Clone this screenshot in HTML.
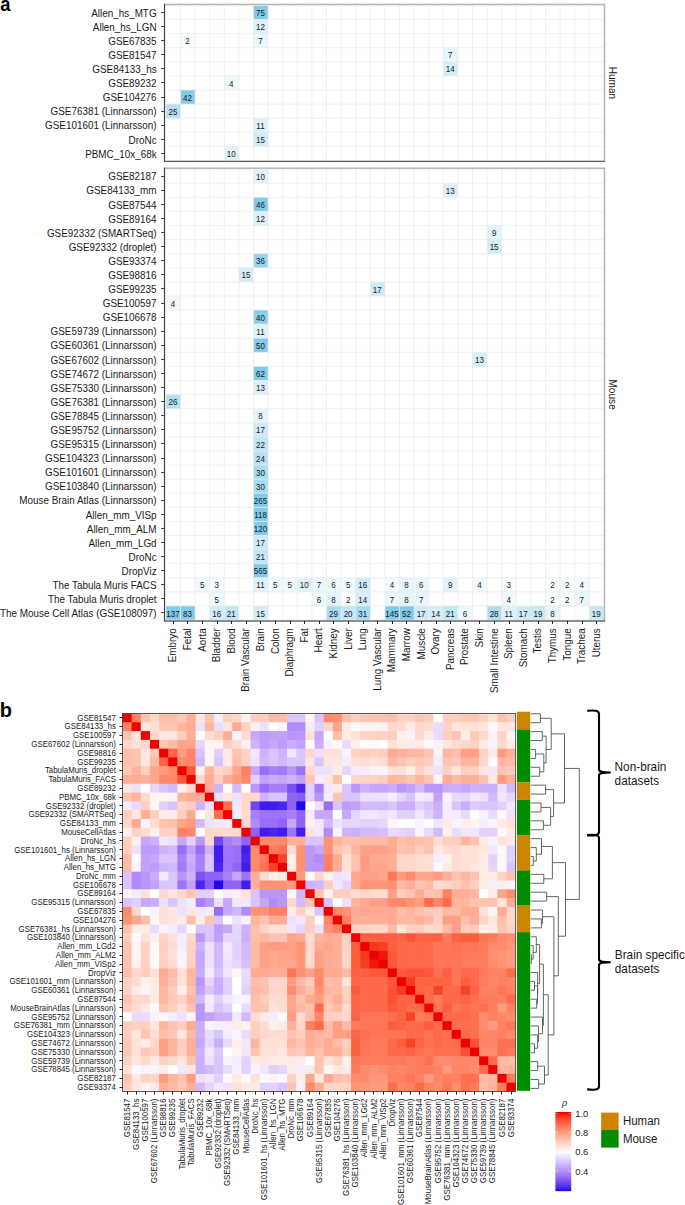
<!DOCTYPE html>
<html><head><meta charset="utf-8"><title>figure</title>
<style>
html,body{margin:0;padding:0;background:#fff;}
body{width:685px;height:1205px;overflow:hidden;}
svg{display:block;font-family:"Liberation Sans", sans-serif;}
</style></head>
<body>
<svg width="685" height="1205" viewBox="0 0 685 1205" font-family='"Liberation Sans", sans-serif'>
<rect width="685" height="1205" fill="#fff"/>
<text transform="translate(0.35,10.7) scale(0.92,1)" font-size="20" font-weight="bold" fill="#000">a</text>
<rect x="253.50" y="5.46" width="14.60" height="14.09" fill="#80cbeb"/>
<rect x="253.50" y="19.55" width="14.60" height="14.09" fill="#dcf0f9"/>
<rect x="180.50" y="33.63" width="14.60" height="14.09" fill="#f9fdfe"/>
<rect x="253.50" y="33.63" width="14.60" height="14.09" fill="#eaf7fc"/>
<rect x="443.30" y="47.72" width="14.60" height="14.09" fill="#eaf7fc"/>
<rect x="443.30" y="61.81" width="14.60" height="14.09" fill="#d6eef8"/>
<rect x="224.30" y="75.91" width="14.60" height="14.09" fill="#f3fafd"/>
<rect x="180.50" y="89.99" width="14.60" height="14.09" fill="#83cceb"/>
<rect x="165.90" y="104.08" width="14.60" height="14.09" fill="#b5e1f3"/>
<rect x="253.50" y="118.17" width="14.60" height="14.09" fill="#dff2fa"/>
<rect x="253.50" y="132.27" width="14.60" height="14.09" fill="#d3edf8"/>
<rect x="224.30" y="146.36" width="14.60" height="14.09" fill="#e1f3fa"/>
<path d="M165.90,5.46V160.44M180.50,5.46V160.44M195.10,5.46V160.44M209.70,5.46V160.44M224.30,5.46V160.44M238.90,5.46V160.44M253.50,5.46V160.44M268.10,5.46V160.44M282.70,5.46V160.44M297.30,5.46V160.44M311.90,5.46V160.44M326.50,5.46V160.44M341.10,5.46V160.44M355.70,5.46V160.44M370.30,5.46V160.44M384.90,5.46V160.44M399.50,5.46V160.44M414.10,5.46V160.44M428.70,5.46V160.44M443.30,5.46V160.44M457.90,5.46V160.44M472.50,5.46V160.44M487.10,5.46V160.44M501.70,5.46V160.44M516.30,5.46V160.44M530.90,5.46V160.44M545.50,5.46V160.44M560.10,5.46V160.44M574.70,5.46V160.44M589.30,5.46V160.44M603.90,5.46V160.44M165.90,5.46H603.90M165.90,19.55H603.90M165.90,33.63H603.90M165.90,47.72H603.90M165.90,61.81H603.90M165.90,75.91H603.90M165.90,89.99H603.90M165.90,104.08H603.90M165.90,118.17H603.90M165.90,132.27H603.90M165.90,146.36H603.90M165.90,160.45H603.90" stroke="#ebebeb" stroke-width="0.75" fill="none"/>
<text transform="translate(260.50,16.10) scale(1,1.045)" font-size="8" text-anchor="middle" fill="#1a1a1a">75</text>
<text transform="translate(156.60,16.70) scale(1,1.045)" font-size="9.9" text-anchor="end" fill="#1a1a1a">Allen_hs_MTG</text>
<text transform="translate(260.50,30.19) scale(1,1.045)" font-size="8" text-anchor="middle" fill="#1a1a1a">12</text>
<text transform="translate(156.60,30.79) scale(1,1.045)" font-size="9.9" text-anchor="end" fill="#1a1a1a">Allen_hs_LGN</text>
<text transform="translate(187.50,44.28) scale(1,1.045)" font-size="8" text-anchor="middle" fill="#1a1a1a">2</text>
<text transform="translate(260.50,44.28) scale(1,1.045)" font-size="8" text-anchor="middle" fill="#1a1a1a">7</text>
<text transform="translate(156.60,44.88) scale(1,1.045)" font-size="9.9" text-anchor="end" fill="#1a1a1a">GSE67835</text>
<text transform="translate(450.30,58.37) scale(1,1.045)" font-size="8" text-anchor="middle" fill="#1a1a1a">7</text>
<text transform="translate(156.60,58.97) scale(1,1.045)" font-size="9.9" text-anchor="end" fill="#1a1a1a">GSE81547</text>
<text transform="translate(450.30,72.46) scale(1,1.045)" font-size="8" text-anchor="middle" fill="#1a1a1a">14</text>
<text transform="translate(156.60,73.06) scale(1,1.045)" font-size="9.9" text-anchor="end" fill="#1a1a1a">GSE84133_hs</text>
<text transform="translate(231.30,86.55) scale(1,1.045)" font-size="8" text-anchor="middle" fill="#1a1a1a">4</text>
<text transform="translate(156.60,87.15) scale(1,1.045)" font-size="9.9" text-anchor="end" fill="#1a1a1a">GSE89232</text>
<text transform="translate(187.50,100.64) scale(1,1.045)" font-size="8" text-anchor="middle" fill="#1a1a1a">42</text>
<text transform="translate(156.60,101.24) scale(1,1.045)" font-size="9.9" text-anchor="end" fill="#1a1a1a">GSE104276</text>
<text transform="translate(172.90,114.73) scale(1,1.045)" font-size="8" text-anchor="middle" fill="#1a1a1a">25</text>
<text transform="translate(156.60,115.33) scale(1,1.045)" font-size="9.9" text-anchor="end" fill="#1a1a1a">GSE76381 (Linnarsson)</text>
<text transform="translate(260.50,128.82) scale(1,1.045)" font-size="8" text-anchor="middle" fill="#1a1a1a">11</text>
<text transform="translate(156.60,129.42) scale(1,1.045)" font-size="9.9" text-anchor="end" fill="#1a1a1a">GSE101601 (Linnarsson)</text>
<text transform="translate(260.50,142.91) scale(1,1.045)" font-size="8" text-anchor="middle" fill="#1a1a1a">15</text>
<text transform="translate(156.60,143.51) scale(1,1.045)" font-size="9.9" text-anchor="end" fill="#1a1a1a">DroNc</text>
<text transform="translate(231.30,157.00) scale(1,1.045)" font-size="8" text-anchor="middle" fill="#1a1a1a">10</text>
<text transform="translate(156.60,157.60) scale(1,1.045)" font-size="9.9" text-anchor="end" fill="#1a1a1a">PBMC_10x_68k</text>
<path d="M161.3,12.50H164.5M161.3,26.50H164.5M161.3,40.50H164.5M161.3,54.50H164.5M161.3,68.50H164.5M161.3,82.50H164.5M161.3,97.50H164.5M161.3,111.50H164.5M161.3,125.50H164.5M161.3,139.50H164.5M161.3,153.50H164.5" stroke="#222" stroke-width="1"/>
<rect x="164.5" y="4.4" width="440.0" height="157.0" fill="none" stroke="#b8b8b8" stroke-width="1.5"/>
<line x1="164.5" y1="3.8000000000000003" x2="164.5" y2="161.9" stroke="#444" stroke-width="1"/>
<line x1="164.0" y1="161.4" x2="605.1" y2="161.4" stroke="#555" stroke-width="1"/>
<text transform="translate(608.80,82.90) rotate(90) scale(1,1.045)" font-size="10.1" text-anchor="middle" fill="#1a1a1a">Human</text>
<rect x="253.50" y="169.16" width="14.60" height="14.09" fill="#e1f3fa"/>
<rect x="443.30" y="183.25" width="14.60" height="14.09" fill="#d9eff9"/>
<rect x="253.50" y="197.34" width="14.60" height="14.09" fill="#80cbeb"/>
<rect x="253.50" y="211.42" width="14.60" height="14.09" fill="#dcf0f9"/>
<rect x="487.10" y="225.52" width="14.60" height="14.09" fill="#e4f4fb"/>
<rect x="487.10" y="239.60" width="14.60" height="14.09" fill="#d3edf8"/>
<rect x="253.50" y="253.70" width="14.60" height="14.09" fill="#95d3ee"/>
<rect x="238.90" y="267.78" width="14.60" height="14.09" fill="#d3edf8"/>
<rect x="370.30" y="281.87" width="14.60" height="14.09" fill="#cdeaf7"/>
<rect x="165.90" y="295.96" width="14.60" height="14.09" fill="#f3fafd"/>
<rect x="253.50" y="310.06" width="14.60" height="14.09" fill="#89cfec"/>
<rect x="253.50" y="324.14" width="14.60" height="14.09" fill="#dff2fa"/>
<rect x="253.50" y="338.23" width="14.60" height="14.09" fill="#80cbeb"/>
<rect x="472.50" y="352.32" width="14.60" height="14.09" fill="#d9eff9"/>
<rect x="253.50" y="366.41" width="14.60" height="14.09" fill="#80cbeb"/>
<rect x="253.50" y="380.50" width="14.60" height="14.09" fill="#d9eff9"/>
<rect x="165.90" y="394.59" width="14.60" height="14.09" fill="#b2e0f3"/>
<rect x="253.50" y="408.69" width="14.60" height="14.09" fill="#e7f5fb"/>
<rect x="253.50" y="422.77" width="14.60" height="14.09" fill="#cdeaf7"/>
<rect x="253.50" y="436.86" width="14.60" height="14.09" fill="#bee4f5"/>
<rect x="253.50" y="450.95" width="14.60" height="14.09" fill="#b8e2f4"/>
<rect x="253.50" y="465.04" width="14.60" height="14.09" fill="#a6dbf1"/>
<rect x="253.50" y="479.13" width="14.60" height="14.09" fill="#a6dbf1"/>
<rect x="253.50" y="493.22" width="14.60" height="14.09" fill="#80cbeb"/>
<rect x="253.50" y="507.31" width="14.60" height="14.09" fill="#80cbeb"/>
<rect x="253.50" y="521.41" width="14.60" height="14.09" fill="#80cbeb"/>
<rect x="253.50" y="535.50" width="14.60" height="14.09" fill="#cdeaf7"/>
<rect x="253.50" y="549.59" width="14.60" height="14.09" fill="#c1e6f5"/>
<rect x="253.50" y="563.68" width="14.60" height="14.09" fill="#80cbeb"/>
<rect x="195.10" y="577.76" width="14.60" height="14.09" fill="#f0f9fd"/>
<rect x="209.70" y="577.76" width="14.60" height="14.09" fill="#f6fbfe"/>
<rect x="253.50" y="577.76" width="14.60" height="14.09" fill="#dff2fa"/>
<rect x="268.10" y="577.76" width="14.60" height="14.09" fill="#f0f9fd"/>
<rect x="282.70" y="577.76" width="14.60" height="14.09" fill="#f0f9fd"/>
<rect x="297.30" y="577.76" width="14.60" height="14.09" fill="#e1f3fa"/>
<rect x="311.90" y="577.76" width="14.60" height="14.09" fill="#eaf7fc"/>
<rect x="326.50" y="577.76" width="14.60" height="14.09" fill="#edf8fc"/>
<rect x="341.10" y="577.76" width="14.60" height="14.09" fill="#f0f9fd"/>
<rect x="355.70" y="577.76" width="14.60" height="14.09" fill="#d0ecf8"/>
<rect x="384.90" y="577.76" width="14.60" height="14.09" fill="#f3fafd"/>
<rect x="399.50" y="577.76" width="14.60" height="14.09" fill="#e7f5fb"/>
<rect x="414.10" y="577.76" width="14.60" height="14.09" fill="#edf8fc"/>
<rect x="443.30" y="577.76" width="14.60" height="14.09" fill="#e4f4fb"/>
<rect x="472.50" y="577.76" width="14.60" height="14.09" fill="#f3fafd"/>
<rect x="501.70" y="577.76" width="14.60" height="14.09" fill="#f6fbfe"/>
<rect x="545.50" y="577.76" width="14.60" height="14.09" fill="#f9fdfe"/>
<rect x="560.10" y="577.76" width="14.60" height="14.09" fill="#f9fdfe"/>
<rect x="574.70" y="577.76" width="14.60" height="14.09" fill="#f3fafd"/>
<rect x="209.70" y="591.86" width="14.60" height="14.09" fill="#f0f9fd"/>
<rect x="311.90" y="591.86" width="14.60" height="14.09" fill="#edf8fc"/>
<rect x="326.50" y="591.86" width="14.60" height="14.09" fill="#e7f5fb"/>
<rect x="341.10" y="591.86" width="14.60" height="14.09" fill="#f9fdfe"/>
<rect x="355.70" y="591.86" width="14.60" height="14.09" fill="#d6eef8"/>
<rect x="384.90" y="591.86" width="14.60" height="14.09" fill="#eaf7fc"/>
<rect x="399.50" y="591.86" width="14.60" height="14.09" fill="#e7f5fb"/>
<rect x="414.10" y="591.86" width="14.60" height="14.09" fill="#eaf7fc"/>
<rect x="501.70" y="591.86" width="14.60" height="14.09" fill="#f3fafd"/>
<rect x="545.50" y="591.86" width="14.60" height="14.09" fill="#f9fdfe"/>
<rect x="560.10" y="591.86" width="14.60" height="14.09" fill="#f9fdfe"/>
<rect x="574.70" y="591.86" width="14.60" height="14.09" fill="#eaf7fc"/>
<rect x="165.90" y="605.95" width="14.60" height="14.09" fill="#80cbeb"/>
<rect x="180.50" y="605.95" width="14.60" height="14.09" fill="#80cbeb"/>
<rect x="209.70" y="605.95" width="14.60" height="14.09" fill="#d0ecf8"/>
<rect x="224.30" y="605.95" width="14.60" height="14.09" fill="#c1e6f5"/>
<rect x="253.50" y="605.95" width="14.60" height="14.09" fill="#d3edf8"/>
<rect x="326.50" y="605.95" width="14.60" height="14.09" fill="#a9dcf2"/>
<rect x="341.10" y="605.95" width="14.60" height="14.09" fill="#c4e7f6"/>
<rect x="355.70" y="605.95" width="14.60" height="14.09" fill="#a3daf1"/>
<rect x="384.90" y="605.95" width="14.60" height="14.09" fill="#80cbeb"/>
<rect x="399.50" y="605.95" width="14.60" height="14.09" fill="#80cbeb"/>
<rect x="414.10" y="605.95" width="14.60" height="14.09" fill="#cdeaf7"/>
<rect x="428.70" y="605.95" width="14.60" height="14.09" fill="#d6eef8"/>
<rect x="443.30" y="605.95" width="14.60" height="14.09" fill="#c1e6f5"/>
<rect x="457.90" y="605.95" width="14.60" height="14.09" fill="#edf8fc"/>
<rect x="487.10" y="605.95" width="14.60" height="14.09" fill="#acddf2"/>
<rect x="501.70" y="605.95" width="14.60" height="14.09" fill="#dff2fa"/>
<rect x="516.30" y="605.95" width="14.60" height="14.09" fill="#cdeaf7"/>
<rect x="530.90" y="605.95" width="14.60" height="14.09" fill="#c7e8f6"/>
<rect x="545.50" y="605.95" width="14.60" height="14.09" fill="#e7f5fb"/>
<rect x="589.30" y="605.95" width="14.60" height="14.09" fill="#c7e8f6"/>
<path d="M165.90,169.16V620.03M180.50,169.16V620.03M195.10,169.16V620.03M209.70,169.16V620.03M224.30,169.16V620.03M238.90,169.16V620.03M253.50,169.16V620.03M268.10,169.16V620.03M282.70,169.16V620.03M297.30,169.16V620.03M311.90,169.16V620.03M326.50,169.16V620.03M341.10,169.16V620.03M355.70,169.16V620.03M370.30,169.16V620.03M384.90,169.16V620.03M399.50,169.16V620.03M414.10,169.16V620.03M428.70,169.16V620.03M443.30,169.16V620.03M457.90,169.16V620.03M472.50,169.16V620.03M487.10,169.16V620.03M501.70,169.16V620.03M516.30,169.16V620.03M530.90,169.16V620.03M545.50,169.16V620.03M560.10,169.16V620.03M574.70,169.16V620.03M589.30,169.16V620.03M603.90,169.16V620.03M165.90,169.16H603.90M165.90,183.25H603.90M165.90,197.34H603.90M165.90,211.43H603.90M165.90,225.51H603.90M165.90,239.61H603.90M165.90,253.69H603.90M165.90,267.78H603.90M165.90,281.88H603.90M165.90,295.97H603.90M165.90,310.06H603.90M165.90,324.14H603.90M165.90,338.24H603.90M165.90,352.32H603.90M165.90,366.41H603.90M165.90,380.50H603.90M165.90,394.60H603.90M165.90,408.69H603.90M165.90,422.77H603.90M165.90,436.87H603.90M165.90,450.96H603.90M165.90,465.04H603.90M165.90,479.13H603.90M165.90,493.23H603.90M165.90,507.31H603.90M165.90,521.40H603.90M165.90,535.50H603.90M165.90,549.59H603.90M165.90,563.67H603.90M165.90,577.76H603.90M165.90,591.86H603.90M165.90,605.95H603.90M165.90,620.03H603.90" stroke="#ebebeb" stroke-width="0.75" fill="none"/>
<text transform="translate(260.50,179.80) scale(1,1.045)" font-size="8" text-anchor="middle" fill="#1a1a1a">10</text>
<text transform="translate(156.60,180.40) scale(1,1.045)" font-size="9.9" text-anchor="end" fill="#1a1a1a">GSE82187</text>
<text transform="translate(450.30,193.89) scale(1,1.045)" font-size="8" text-anchor="middle" fill="#1a1a1a">13</text>
<text transform="translate(156.60,194.49) scale(1,1.045)" font-size="9.9" text-anchor="end" fill="#1a1a1a">GSE84133_mm</text>
<text transform="translate(260.50,207.98) scale(1,1.045)" font-size="8" text-anchor="middle" fill="#1a1a1a">46</text>
<text transform="translate(156.60,208.58) scale(1,1.045)" font-size="9.9" text-anchor="end" fill="#1a1a1a">GSE87544</text>
<text transform="translate(260.50,222.07) scale(1,1.045)" font-size="8" text-anchor="middle" fill="#1a1a1a">12</text>
<text transform="translate(156.60,222.67) scale(1,1.045)" font-size="9.9" text-anchor="end" fill="#1a1a1a">GSE89164</text>
<text transform="translate(494.10,236.16) scale(1,1.045)" font-size="8" text-anchor="middle" fill="#1a1a1a">9</text>
<text transform="translate(156.60,236.76) scale(1,1.045)" font-size="9.9" text-anchor="end" fill="#1a1a1a">GSE92332 (SMARTSeq)</text>
<text transform="translate(494.10,250.25) scale(1,1.045)" font-size="8" text-anchor="middle" fill="#1a1a1a">15</text>
<text transform="translate(156.60,250.85) scale(1,1.045)" font-size="9.9" text-anchor="end" fill="#1a1a1a">GSE92332 (droplet)</text>
<text transform="translate(260.50,264.34) scale(1,1.045)" font-size="8" text-anchor="middle" fill="#1a1a1a">36</text>
<text transform="translate(156.60,264.94) scale(1,1.045)" font-size="9.9" text-anchor="end" fill="#1a1a1a">GSE93374</text>
<text transform="translate(245.90,278.43) scale(1,1.045)" font-size="8" text-anchor="middle" fill="#1a1a1a">15</text>
<text transform="translate(156.60,279.03) scale(1,1.045)" font-size="9.9" text-anchor="end" fill="#1a1a1a">GSE98816</text>
<text transform="translate(377.30,292.52) scale(1,1.045)" font-size="8" text-anchor="middle" fill="#1a1a1a">17</text>
<text transform="translate(156.60,293.12) scale(1,1.045)" font-size="9.9" text-anchor="end" fill="#1a1a1a">GSE99235</text>
<text transform="translate(172.90,306.61) scale(1,1.045)" font-size="8" text-anchor="middle" fill="#1a1a1a">4</text>
<text transform="translate(156.60,307.21) scale(1,1.045)" font-size="9.9" text-anchor="end" fill="#1a1a1a">GSE100597</text>
<text transform="translate(260.50,320.70) scale(1,1.045)" font-size="8" text-anchor="middle" fill="#1a1a1a">40</text>
<text transform="translate(156.60,321.30) scale(1,1.045)" font-size="9.9" text-anchor="end" fill="#1a1a1a">GSE106678</text>
<text transform="translate(260.50,334.79) scale(1,1.045)" font-size="8" text-anchor="middle" fill="#1a1a1a">11</text>
<text transform="translate(156.60,335.39) scale(1,1.045)" font-size="9.9" text-anchor="end" fill="#1a1a1a">GSE59739 (Linnarsson)</text>
<text transform="translate(260.50,348.88) scale(1,1.045)" font-size="8" text-anchor="middle" fill="#1a1a1a">50</text>
<text transform="translate(156.60,349.48) scale(1,1.045)" font-size="9.9" text-anchor="end" fill="#1a1a1a">GSE60361 (Linnarsson)</text>
<text transform="translate(479.50,362.97) scale(1,1.045)" font-size="8" text-anchor="middle" fill="#1a1a1a">13</text>
<text transform="translate(156.60,363.57) scale(1,1.045)" font-size="9.9" text-anchor="end" fill="#1a1a1a">GSE67602 (Linnarsson)</text>
<text transform="translate(260.50,377.06) scale(1,1.045)" font-size="8" text-anchor="middle" fill="#1a1a1a">62</text>
<text transform="translate(156.60,377.66) scale(1,1.045)" font-size="9.9" text-anchor="end" fill="#1a1a1a">GSE74672 (Linnarsson)</text>
<text transform="translate(260.50,391.15) scale(1,1.045)" font-size="8" text-anchor="middle" fill="#1a1a1a">13</text>
<text transform="translate(156.60,391.75) scale(1,1.045)" font-size="9.9" text-anchor="end" fill="#1a1a1a">GSE75330 (Linnarsson)</text>
<text transform="translate(172.90,405.24) scale(1,1.045)" font-size="8" text-anchor="middle" fill="#1a1a1a">26</text>
<text transform="translate(156.60,405.84) scale(1,1.045)" font-size="9.9" text-anchor="end" fill="#1a1a1a">GSE76381 (Linnarsson)</text>
<text transform="translate(260.50,419.33) scale(1,1.045)" font-size="8" text-anchor="middle" fill="#1a1a1a">8</text>
<text transform="translate(156.60,419.93) scale(1,1.045)" font-size="9.9" text-anchor="end" fill="#1a1a1a">GSE78845 (Linnarsson)</text>
<text transform="translate(260.50,433.42) scale(1,1.045)" font-size="8" text-anchor="middle" fill="#1a1a1a">17</text>
<text transform="translate(156.60,434.02) scale(1,1.045)" font-size="9.9" text-anchor="end" fill="#1a1a1a">GSE95752 (Linnarsson)</text>
<text transform="translate(260.50,447.51) scale(1,1.045)" font-size="8" text-anchor="middle" fill="#1a1a1a">22</text>
<text transform="translate(156.60,448.11) scale(1,1.045)" font-size="9.9" text-anchor="end" fill="#1a1a1a">GSE95315 (Linnarsson)</text>
<text transform="translate(260.50,461.60) scale(1,1.045)" font-size="8" text-anchor="middle" fill="#1a1a1a">24</text>
<text transform="translate(156.60,462.20) scale(1,1.045)" font-size="9.9" text-anchor="end" fill="#1a1a1a">GSE104323 (Linnarsson)</text>
<text transform="translate(260.50,475.69) scale(1,1.045)" font-size="8" text-anchor="middle" fill="#1a1a1a">30</text>
<text transform="translate(156.60,476.29) scale(1,1.045)" font-size="9.9" text-anchor="end" fill="#1a1a1a">GSE101601 (Linnarsson)</text>
<text transform="translate(260.50,489.78) scale(1,1.045)" font-size="8" text-anchor="middle" fill="#1a1a1a">30</text>
<text transform="translate(156.60,490.38) scale(1,1.045)" font-size="9.9" text-anchor="end" fill="#1a1a1a">GSE103840 (Linnarsson)</text>
<text transform="translate(260.50,503.87) scale(1,1.045)" font-size="8" text-anchor="middle" fill="#1a1a1a">265</text>
<text transform="translate(156.60,504.47) scale(1,1.045)" font-size="9.9" text-anchor="end" fill="#1a1a1a">Mouse Brain Atlas (Linnarsson)</text>
<text transform="translate(260.50,517.96) scale(1,1.045)" font-size="8" text-anchor="middle" fill="#1a1a1a">118</text>
<text transform="translate(156.60,518.56) scale(1,1.045)" font-size="9.9" text-anchor="end" fill="#1a1a1a">Allen_mm_VISp</text>
<text transform="translate(260.50,532.05) scale(1,1.045)" font-size="8" text-anchor="middle" fill="#1a1a1a">120</text>
<text transform="translate(156.60,532.65) scale(1,1.045)" font-size="9.9" text-anchor="end" fill="#1a1a1a">Allen_mm_ALM</text>
<text transform="translate(260.50,546.14) scale(1,1.045)" font-size="8" text-anchor="middle" fill="#1a1a1a">17</text>
<text transform="translate(156.60,546.74) scale(1,1.045)" font-size="9.9" text-anchor="end" fill="#1a1a1a">Allen_mm_LGd</text>
<text transform="translate(260.50,560.23) scale(1,1.045)" font-size="8" text-anchor="middle" fill="#1a1a1a">21</text>
<text transform="translate(156.60,560.83) scale(1,1.045)" font-size="9.9" text-anchor="end" fill="#1a1a1a">DroNc</text>
<text transform="translate(260.50,574.32) scale(1,1.045)" font-size="8" text-anchor="middle" fill="#1a1a1a">565</text>
<text transform="translate(156.60,574.92) scale(1,1.045)" font-size="9.9" text-anchor="end" fill="#1a1a1a">DropViz</text>
<text transform="translate(202.10,588.41) scale(1,1.045)" font-size="8" text-anchor="middle" fill="#1a1a1a">5</text>
<text transform="translate(216.70,588.41) scale(1,1.045)" font-size="8" text-anchor="middle" fill="#1a1a1a">3</text>
<text transform="translate(260.50,588.41) scale(1,1.045)" font-size="8" text-anchor="middle" fill="#1a1a1a">11</text>
<text transform="translate(275.10,588.41) scale(1,1.045)" font-size="8" text-anchor="middle" fill="#1a1a1a">5</text>
<text transform="translate(289.70,588.41) scale(1,1.045)" font-size="8" text-anchor="middle" fill="#1a1a1a">5</text>
<text transform="translate(304.30,588.41) scale(1,1.045)" font-size="8" text-anchor="middle" fill="#1a1a1a">10</text>
<text transform="translate(318.90,588.41) scale(1,1.045)" font-size="8" text-anchor="middle" fill="#1a1a1a">7</text>
<text transform="translate(333.50,588.41) scale(1,1.045)" font-size="8" text-anchor="middle" fill="#1a1a1a">6</text>
<text transform="translate(348.10,588.41) scale(1,1.045)" font-size="8" text-anchor="middle" fill="#1a1a1a">5</text>
<text transform="translate(362.70,588.41) scale(1,1.045)" font-size="8" text-anchor="middle" fill="#1a1a1a">16</text>
<text transform="translate(391.90,588.41) scale(1,1.045)" font-size="8" text-anchor="middle" fill="#1a1a1a">4</text>
<text transform="translate(406.50,588.41) scale(1,1.045)" font-size="8" text-anchor="middle" fill="#1a1a1a">8</text>
<text transform="translate(421.10,588.41) scale(1,1.045)" font-size="8" text-anchor="middle" fill="#1a1a1a">6</text>
<text transform="translate(450.30,588.41) scale(1,1.045)" font-size="8" text-anchor="middle" fill="#1a1a1a">9</text>
<text transform="translate(479.50,588.41) scale(1,1.045)" font-size="8" text-anchor="middle" fill="#1a1a1a">4</text>
<text transform="translate(508.70,588.41) scale(1,1.045)" font-size="8" text-anchor="middle" fill="#1a1a1a">3</text>
<text transform="translate(552.50,588.41) scale(1,1.045)" font-size="8" text-anchor="middle" fill="#1a1a1a">2</text>
<text transform="translate(567.10,588.41) scale(1,1.045)" font-size="8" text-anchor="middle" fill="#1a1a1a">2</text>
<text transform="translate(581.70,588.41) scale(1,1.045)" font-size="8" text-anchor="middle" fill="#1a1a1a">4</text>
<text transform="translate(156.60,589.01) scale(1,1.045)" font-size="9.9" text-anchor="end" fill="#1a1a1a">The Tabula Muris FACS</text>
<text transform="translate(216.70,602.50) scale(1,1.045)" font-size="8" text-anchor="middle" fill="#1a1a1a">5</text>
<text transform="translate(318.90,602.50) scale(1,1.045)" font-size="8" text-anchor="middle" fill="#1a1a1a">6</text>
<text transform="translate(333.50,602.50) scale(1,1.045)" font-size="8" text-anchor="middle" fill="#1a1a1a">8</text>
<text transform="translate(348.10,602.50) scale(1,1.045)" font-size="8" text-anchor="middle" fill="#1a1a1a">2</text>
<text transform="translate(362.70,602.50) scale(1,1.045)" font-size="8" text-anchor="middle" fill="#1a1a1a">14</text>
<text transform="translate(391.90,602.50) scale(1,1.045)" font-size="8" text-anchor="middle" fill="#1a1a1a">7</text>
<text transform="translate(406.50,602.50) scale(1,1.045)" font-size="8" text-anchor="middle" fill="#1a1a1a">8</text>
<text transform="translate(421.10,602.50) scale(1,1.045)" font-size="8" text-anchor="middle" fill="#1a1a1a">7</text>
<text transform="translate(508.70,602.50) scale(1,1.045)" font-size="8" text-anchor="middle" fill="#1a1a1a">4</text>
<text transform="translate(552.50,602.50) scale(1,1.045)" font-size="8" text-anchor="middle" fill="#1a1a1a">2</text>
<text transform="translate(567.10,602.50) scale(1,1.045)" font-size="8" text-anchor="middle" fill="#1a1a1a">2</text>
<text transform="translate(581.70,602.50) scale(1,1.045)" font-size="8" text-anchor="middle" fill="#1a1a1a">7</text>
<text transform="translate(156.60,603.10) scale(1,1.045)" font-size="9.9" text-anchor="end" fill="#1a1a1a">The Tabula Muris droplet</text>
<text transform="translate(172.90,616.59) scale(1,1.045)" font-size="8" text-anchor="middle" fill="#1a1a1a">137</text>
<text transform="translate(187.50,616.59) scale(1,1.045)" font-size="8" text-anchor="middle" fill="#1a1a1a">83</text>
<text transform="translate(216.70,616.59) scale(1,1.045)" font-size="8" text-anchor="middle" fill="#1a1a1a">16</text>
<text transform="translate(231.30,616.59) scale(1,1.045)" font-size="8" text-anchor="middle" fill="#1a1a1a">21</text>
<text transform="translate(260.50,616.59) scale(1,1.045)" font-size="8" text-anchor="middle" fill="#1a1a1a">15</text>
<text transform="translate(333.50,616.59) scale(1,1.045)" font-size="8" text-anchor="middle" fill="#1a1a1a">29</text>
<text transform="translate(348.10,616.59) scale(1,1.045)" font-size="8" text-anchor="middle" fill="#1a1a1a">20</text>
<text transform="translate(362.70,616.59) scale(1,1.045)" font-size="8" text-anchor="middle" fill="#1a1a1a">31</text>
<text transform="translate(391.90,616.59) scale(1,1.045)" font-size="8" text-anchor="middle" fill="#1a1a1a">145</text>
<text transform="translate(406.50,616.59) scale(1,1.045)" font-size="8" text-anchor="middle" fill="#1a1a1a">52</text>
<text transform="translate(421.10,616.59) scale(1,1.045)" font-size="8" text-anchor="middle" fill="#1a1a1a">17</text>
<text transform="translate(435.70,616.59) scale(1,1.045)" font-size="8" text-anchor="middle" fill="#1a1a1a">14</text>
<text transform="translate(450.30,616.59) scale(1,1.045)" font-size="8" text-anchor="middle" fill="#1a1a1a">21</text>
<text transform="translate(464.90,616.59) scale(1,1.045)" font-size="8" text-anchor="middle" fill="#1a1a1a">6</text>
<text transform="translate(494.10,616.59) scale(1,1.045)" font-size="8" text-anchor="middle" fill="#1a1a1a">28</text>
<text transform="translate(508.70,616.59) scale(1,1.045)" font-size="8" text-anchor="middle" fill="#1a1a1a">11</text>
<text transform="translate(523.30,616.59) scale(1,1.045)" font-size="8" text-anchor="middle" fill="#1a1a1a">17</text>
<text transform="translate(537.90,616.59) scale(1,1.045)" font-size="8" text-anchor="middle" fill="#1a1a1a">19</text>
<text transform="translate(552.50,616.59) scale(1,1.045)" font-size="8" text-anchor="middle" fill="#1a1a1a">8</text>
<text transform="translate(596.30,616.59) scale(1,1.045)" font-size="8" text-anchor="middle" fill="#1a1a1a">19</text>
<text transform="translate(156.60,617.19) scale(1,1.045)" font-size="9.9" text-anchor="end" fill="#1a1a1a">The Mouse Cell Atlas (GSE108097)</text>
<path d="M161.3,176.50H164.5M161.3,190.50H164.5M161.3,204.50H164.5M161.3,218.50H164.5M161.3,232.50H164.5M161.3,246.50H164.5M161.3,260.50H164.5M161.3,274.50H164.5M161.3,288.50H164.5M161.3,303.50H164.5M161.3,317.50H164.5M161.3,331.50H164.5M161.3,345.50H164.5M161.3,359.50H164.5M161.3,373.50H164.5M161.3,387.50H164.5M161.3,401.50H164.5M161.3,415.50H164.5M161.3,429.50H164.5M161.3,443.50H164.5M161.3,458.50H164.5M161.3,472.50H164.5M161.3,486.50H164.5M161.3,500.50H164.5M161.3,514.50H164.5M161.3,528.50H164.5M161.3,542.50H164.5M161.3,556.50H164.5M161.3,570.50H164.5M161.3,584.50H164.5M161.3,598.50H164.5M161.3,612.50H164.5" stroke="#222" stroke-width="1"/>
<rect x="164.5" y="168.2" width="440.0" height="452.8" fill="none" stroke="#b8b8b8" stroke-width="1.5"/>
<line x1="164.5" y1="167.6" x2="164.5" y2="621.5" stroke="#444" stroke-width="1"/>
<line x1="164.0" y1="621.0" x2="605.1" y2="621.0" stroke="#555" stroke-width="1"/>
<text transform="translate(608.80,394.60) rotate(90) scale(1,1.045)" font-size="10.1" text-anchor="middle" fill="#1a1a1a">Mouse</text>
<line x1="173.50" y1="621" x2="173.50" y2="624" stroke="#222" stroke-width="1"/>
<text transform="translate(176.30,628.20) rotate(-90) scale(1,1.045)" font-size="9.9" text-anchor="end" fill="#1a1a1a">Embryo</text>
<line x1="187.50" y1="621" x2="187.50" y2="624" stroke="#222" stroke-width="1"/>
<text transform="translate(190.90,628.20) rotate(-90) scale(1,1.045)" font-size="9.9" text-anchor="end" fill="#1a1a1a">Fetal</text>
<line x1="202.50" y1="621" x2="202.50" y2="624" stroke="#222" stroke-width="1"/>
<text transform="translate(205.50,628.20) rotate(-90) scale(1,1.045)" font-size="9.9" text-anchor="end" fill="#1a1a1a">Aorta</text>
<line x1="217.50" y1="621" x2="217.50" y2="624" stroke="#222" stroke-width="1"/>
<text transform="translate(220.10,628.20) rotate(-90) scale(1,1.045)" font-size="9.9" text-anchor="end" fill="#1a1a1a">Bladder</text>
<line x1="231.50" y1="621" x2="231.50" y2="624" stroke="#222" stroke-width="1"/>
<text transform="translate(234.70,628.20) rotate(-90) scale(1,1.045)" font-size="9.9" text-anchor="end" fill="#1a1a1a">Blood</text>
<line x1="246.50" y1="621" x2="246.50" y2="624" stroke="#222" stroke-width="1"/>
<text transform="translate(249.30,628.20) rotate(-90) scale(1,1.045)" font-size="9.9" text-anchor="end" fill="#1a1a1a">Brain Vascular</text>
<line x1="260.50" y1="621" x2="260.50" y2="624" stroke="#222" stroke-width="1"/>
<text transform="translate(263.90,628.20) rotate(-90) scale(1,1.045)" font-size="9.9" text-anchor="end" fill="#1a1a1a">Brain</text>
<line x1="275.50" y1="621" x2="275.50" y2="624" stroke="#222" stroke-width="1"/>
<text transform="translate(278.50,628.20) rotate(-90) scale(1,1.045)" font-size="9.9" text-anchor="end" fill="#1a1a1a">Colon</text>
<line x1="290.50" y1="621" x2="290.50" y2="624" stroke="#222" stroke-width="1"/>
<text transform="translate(293.10,628.20) rotate(-90) scale(1,1.045)" font-size="9.9" text-anchor="end" fill="#1a1a1a">Diaphragm</text>
<line x1="304.50" y1="621" x2="304.50" y2="624" stroke="#222" stroke-width="1"/>
<text transform="translate(307.70,628.20) rotate(-90) scale(1,1.045)" font-size="9.9" text-anchor="end" fill="#1a1a1a">Fat</text>
<line x1="319.50" y1="621" x2="319.50" y2="624" stroke="#222" stroke-width="1"/>
<text transform="translate(322.30,628.20) rotate(-90) scale(1,1.045)" font-size="9.9" text-anchor="end" fill="#1a1a1a">Heart</text>
<line x1="333.50" y1="621" x2="333.50" y2="624" stroke="#222" stroke-width="1"/>
<text transform="translate(336.90,628.20) rotate(-90) scale(1,1.045)" font-size="9.9" text-anchor="end" fill="#1a1a1a">Kidney</text>
<line x1="348.50" y1="621" x2="348.50" y2="624" stroke="#222" stroke-width="1"/>
<text transform="translate(351.50,628.20) rotate(-90) scale(1,1.045)" font-size="9.9" text-anchor="end" fill="#1a1a1a">Liver</text>
<line x1="363.50" y1="621" x2="363.50" y2="624" stroke="#222" stroke-width="1"/>
<text transform="translate(366.10,628.20) rotate(-90) scale(1,1.045)" font-size="9.9" text-anchor="end" fill="#1a1a1a">Lung</text>
<line x1="377.50" y1="621" x2="377.50" y2="624" stroke="#222" stroke-width="1"/>
<text transform="translate(380.70,628.20) rotate(-90) scale(1,1.045)" font-size="9.9" text-anchor="end" fill="#1a1a1a">Lung Vascular</text>
<line x1="392.50" y1="621" x2="392.50" y2="624" stroke="#222" stroke-width="1"/>
<text transform="translate(395.30,628.20) rotate(-90) scale(1,1.045)" font-size="9.9" text-anchor="end" fill="#1a1a1a">Mammary</text>
<line x1="406.50" y1="621" x2="406.50" y2="624" stroke="#222" stroke-width="1"/>
<text transform="translate(409.90,628.20) rotate(-90) scale(1,1.045)" font-size="9.9" text-anchor="end" fill="#1a1a1a">Marrow</text>
<line x1="421.50" y1="621" x2="421.50" y2="624" stroke="#222" stroke-width="1"/>
<text transform="translate(424.50,628.20) rotate(-90) scale(1,1.045)" font-size="9.9" text-anchor="end" fill="#1a1a1a">Muscle</text>
<line x1="436.50" y1="621" x2="436.50" y2="624" stroke="#222" stroke-width="1"/>
<text transform="translate(439.10,628.20) rotate(-90) scale(1,1.045)" font-size="9.9" text-anchor="end" fill="#1a1a1a">Ovary</text>
<line x1="450.50" y1="621" x2="450.50" y2="624" stroke="#222" stroke-width="1"/>
<text transform="translate(453.70,628.20) rotate(-90) scale(1,1.045)" font-size="9.9" text-anchor="end" fill="#1a1a1a">Pancreas</text>
<line x1="465.50" y1="621" x2="465.50" y2="624" stroke="#222" stroke-width="1"/>
<text transform="translate(468.30,628.20) rotate(-90) scale(1,1.045)" font-size="9.9" text-anchor="end" fill="#1a1a1a">Prostate</text>
<line x1="479.50" y1="621" x2="479.50" y2="624" stroke="#222" stroke-width="1"/>
<text transform="translate(482.90,628.20) rotate(-90) scale(1,1.045)" font-size="9.9" text-anchor="end" fill="#1a1a1a">Skin</text>
<line x1="494.50" y1="621" x2="494.50" y2="624" stroke="#222" stroke-width="1"/>
<text transform="translate(497.50,628.20) rotate(-90) scale(1,1.045)" font-size="9.9" text-anchor="end" fill="#1a1a1a">Small Intestine</text>
<line x1="509.50" y1="621" x2="509.50" y2="624" stroke="#222" stroke-width="1"/>
<text transform="translate(512.10,628.20) rotate(-90) scale(1,1.045)" font-size="9.9" text-anchor="end" fill="#1a1a1a">Spleen</text>
<line x1="523.50" y1="621" x2="523.50" y2="624" stroke="#222" stroke-width="1"/>
<text transform="translate(526.70,628.20) rotate(-90) scale(1,1.045)" font-size="9.9" text-anchor="end" fill="#1a1a1a">Stomach</text>
<line x1="538.50" y1="621" x2="538.50" y2="624" stroke="#222" stroke-width="1"/>
<text transform="translate(541.30,628.20) rotate(-90) scale(1,1.045)" font-size="9.9" text-anchor="end" fill="#1a1a1a">Testis</text>
<line x1="552.50" y1="621" x2="552.50" y2="624" stroke="#222" stroke-width="1"/>
<text transform="translate(555.90,628.20) rotate(-90) scale(1,1.045)" font-size="9.9" text-anchor="end" fill="#1a1a1a">Thymus</text>
<line x1="567.50" y1="621" x2="567.50" y2="624" stroke="#222" stroke-width="1"/>
<text transform="translate(570.50,628.20) rotate(-90) scale(1,1.045)" font-size="9.9" text-anchor="end" fill="#1a1a1a">Tongue</text>
<line x1="582.50" y1="621" x2="582.50" y2="624" stroke="#222" stroke-width="1"/>
<text transform="translate(585.10,628.20) rotate(-90) scale(1,1.045)" font-size="9.9" text-anchor="end" fill="#1a1a1a">Trachea</text>
<line x1="596.50" y1="621" x2="596.50" y2="624" stroke="#222" stroke-width="1"/>
<text transform="translate(599.70,628.20) rotate(-90) scale(1,1.045)" font-size="9.9" text-anchor="end" fill="#1a1a1a">Uterus</text>
<text x="-0.2" y="717.3" font-size="20" font-weight="bold" fill="#000">b</text>
<g>
<rect x="122.50" y="713.50" width="9.74" height="9.39" fill="#ee0000"/>
<rect x="131.64" y="713.50" width="9.74" height="9.39" fill="#ff8162"/>
<rect x="140.79" y="713.50" width="9.74" height="9.39" fill="#ffc4b1"/>
<rect x="149.93" y="713.50" width="9.74" height="9.39" fill="#ffd7cb"/>
<rect x="159.08" y="713.50" width="9.74" height="9.39" fill="#ffbfab"/>
<rect x="168.22" y="713.50" width="9.74" height="9.39" fill="#ffbfab"/>
<rect x="177.36" y="713.50" width="9.74" height="9.39" fill="#ffc9b7"/>
<rect x="186.51" y="713.50" width="9.74" height="9.39" fill="#ffaf98"/>
<rect x="195.65" y="713.50" width="9.74" height="9.39" fill="#ffe6de"/>
<rect x="204.80" y="713.50" width="9.74" height="9.39" fill="#ffc4b1"/>
<rect x="213.94" y="713.50" width="9.74" height="9.39" fill="#f4edff"/>
<rect x="223.08" y="713.50" width="9.74" height="9.39" fill="#ffcebe"/>
<rect x="232.23" y="713.50" width="9.74" height="9.39" fill="#ffd7cb"/>
<rect x="241.37" y="713.50" width="9.74" height="9.39" fill="#fff0eb"/>
<rect x="250.52" y="713.50" width="9.74" height="9.39" fill="#ffcebe"/>
<rect x="259.66" y="713.50" width="9.74" height="9.39" fill="#ffcebe"/>
<rect x="268.80" y="713.50" width="9.74" height="9.39" fill="#ffbaa5"/>
<rect x="277.95" y="713.50" width="9.74" height="9.39" fill="#ffbaa5"/>
<rect x="287.09" y="713.50" width="9.74" height="9.39" fill="#dac4fd"/>
<rect x="296.24" y="713.50" width="9.74" height="9.39" fill="#dac4fd"/>
<rect x="305.38" y="713.50" width="9.74" height="9.39" fill="#fff5f2"/>
<rect x="314.52" y="713.50" width="9.74" height="9.39" fill="#dac4fd"/>
<rect x="323.67" y="713.50" width="9.74" height="9.39" fill="#ff8b6e"/>
<rect x="332.81" y="713.50" width="9.74" height="9.39" fill="#ff9174"/>
<rect x="341.96" y="713.50" width="9.74" height="9.39" fill="#ffbfab"/>
<rect x="351.10" y="713.50" width="9.74" height="9.39" fill="#ffcebe"/>
<rect x="360.24" y="713.50" width="9.74" height="9.39" fill="#ffc4b1"/>
<rect x="369.39" y="713.50" width="9.74" height="9.39" fill="#ffc4b1"/>
<rect x="378.53" y="713.50" width="9.74" height="9.39" fill="#ffc4b1"/>
<rect x="387.68" y="713.50" width="9.74" height="9.39" fill="#ffbfab"/>
<rect x="396.82" y="713.50" width="9.74" height="9.39" fill="#ffd2c4"/>
<rect x="405.96" y="713.50" width="9.74" height="9.39" fill="#ffd2c4"/>
<rect x="415.11" y="713.50" width="9.74" height="9.39" fill="#ffc4b1"/>
<rect x="424.25" y="713.50" width="9.74" height="9.39" fill="#ffcebe"/>
<rect x="433.40" y="713.50" width="9.74" height="9.39" fill="#ffffff"/>
<rect x="442.54" y="713.50" width="9.74" height="9.39" fill="#ffcebe"/>
<rect x="451.68" y="713.50" width="9.74" height="9.39" fill="#ffcebe"/>
<rect x="460.83" y="713.50" width="9.74" height="9.39" fill="#ffc9b7"/>
<rect x="469.97" y="713.50" width="9.74" height="9.39" fill="#ffc9b7"/>
<rect x="479.12" y="713.50" width="9.74" height="9.39" fill="#ffd2c4"/>
<rect x="488.26" y="713.50" width="9.74" height="9.39" fill="#ffe1d8"/>
<rect x="497.40" y="713.50" width="9.74" height="9.39" fill="#ffc4b1"/>
<rect x="506.55" y="713.50" width="9.14" height="9.39" fill="#ffcebe"/>
<rect x="122.50" y="722.29" width="9.74" height="9.39" fill="#ff8162"/>
<rect x="131.64" y="722.29" width="9.74" height="9.39" fill="#ee0000"/>
<rect x="140.79" y="722.29" width="9.74" height="9.39" fill="#ffe6de"/>
<rect x="149.93" y="722.29" width="9.74" height="9.39" fill="#ffe1d8"/>
<rect x="159.08" y="722.29" width="9.74" height="9.39" fill="#ffc4b1"/>
<rect x="168.22" y="722.29" width="9.74" height="9.39" fill="#ffc4b1"/>
<rect x="177.36" y="722.29" width="9.74" height="9.39" fill="#ffb59e"/>
<rect x="186.51" y="722.29" width="9.74" height="9.39" fill="#ffaa92"/>
<rect x="195.65" y="722.29" width="9.74" height="9.39" fill="#ede1fe"/>
<rect x="204.80" y="722.29" width="9.74" height="9.39" fill="#ffb59e"/>
<rect x="213.94" y="722.29" width="9.74" height="9.39" fill="#e9dbfe"/>
<rect x="223.08" y="722.29" width="9.74" height="9.39" fill="#ffe6de"/>
<rect x="232.23" y="722.29" width="9.74" height="9.39" fill="#ffaa92"/>
<rect x="241.37" y="722.29" width="9.74" height="9.39" fill="#ffd2c4"/>
<rect x="250.52" y="722.29" width="9.74" height="9.39" fill="#fff0eb"/>
<rect x="259.66" y="722.29" width="9.74" height="9.39" fill="#ede1fe"/>
<rect x="268.80" y="722.29" width="9.74" height="9.39" fill="#ffffff"/>
<rect x="277.95" y="722.29" width="9.74" height="9.39" fill="#f8f3ff"/>
<rect x="287.09" y="722.29" width="9.74" height="9.39" fill="#b18bf9"/>
<rect x="296.24" y="722.29" width="9.74" height="9.39" fill="#b18bf9"/>
<rect x="305.38" y="722.29" width="9.74" height="9.39" fill="#f4edff"/>
<rect x="314.52" y="722.29" width="9.74" height="9.39" fill="#e2d0fd"/>
<rect x="323.67" y="722.29" width="9.74" height="9.39" fill="#ffd7cb"/>
<rect x="332.81" y="722.29" width="9.74" height="9.39" fill="#ffa58c"/>
<rect x="341.96" y="722.29" width="9.74" height="9.39" fill="#ffebe5"/>
<rect x="351.10" y="722.29" width="9.74" height="9.39" fill="#fffaf8"/>
<rect x="360.24" y="722.29" width="9.74" height="9.39" fill="#fff5f2"/>
<rect x="369.39" y="722.29" width="9.74" height="9.39" fill="#fff5f2"/>
<rect x="378.53" y="722.29" width="9.74" height="9.39" fill="#fff0eb"/>
<rect x="387.68" y="722.29" width="9.74" height="9.39" fill="#ffd7cb"/>
<rect x="396.82" y="722.29" width="9.74" height="9.39" fill="#ffdcd1"/>
<rect x="405.96" y="722.29" width="9.74" height="9.39" fill="#ffebe5"/>
<rect x="415.11" y="722.29" width="9.74" height="9.39" fill="#ffd7cb"/>
<rect x="424.25" y="722.29" width="9.74" height="9.39" fill="#ffdcd1"/>
<rect x="433.40" y="722.29" width="9.74" height="9.39" fill="#e9dbfe"/>
<rect x="442.54" y="722.29" width="9.74" height="9.39" fill="#ffd2c4"/>
<rect x="451.68" y="722.29" width="9.74" height="9.39" fill="#ffe6de"/>
<rect x="460.83" y="722.29" width="9.74" height="9.39" fill="#ffe1d8"/>
<rect x="469.97" y="722.29" width="9.74" height="9.39" fill="#ffe1d8"/>
<rect x="479.12" y="722.29" width="9.74" height="9.39" fill="#ffe6de"/>
<rect x="488.26" y="722.29" width="9.74" height="9.39" fill="#fcf9ff"/>
<rect x="497.40" y="722.29" width="9.74" height="9.39" fill="#ffe6de"/>
<rect x="506.55" y="722.29" width="9.14" height="9.39" fill="#ffe6de"/>
<rect x="122.50" y="731.08" width="9.74" height="9.39" fill="#ffc4b1"/>
<rect x="131.64" y="731.08" width="9.74" height="9.39" fill="#ffe6de"/>
<rect x="140.79" y="731.08" width="9.74" height="9.39" fill="#ee0000"/>
<rect x="149.93" y="731.08" width="9.74" height="9.39" fill="#ffd7cb"/>
<rect x="159.08" y="731.08" width="9.74" height="9.39" fill="#ffe6de"/>
<rect x="168.22" y="731.08" width="9.74" height="9.39" fill="#ffe6de"/>
<rect x="177.36" y="731.08" width="9.74" height="9.39" fill="#ffcebe"/>
<rect x="186.51" y="731.08" width="9.74" height="9.39" fill="#ffaf98"/>
<rect x="195.65" y="731.08" width="9.74" height="9.39" fill="#ffffff"/>
<rect x="204.80" y="731.08" width="9.74" height="9.39" fill="#ffdcd1"/>
<rect x="213.94" y="731.08" width="9.74" height="9.39" fill="#ffcebe"/>
<rect x="223.08" y="731.08" width="9.74" height="9.39" fill="#ffaf98"/>
<rect x="232.23" y="731.08" width="9.74" height="9.39" fill="#f8f3ff"/>
<rect x="241.37" y="731.08" width="9.74" height="9.39" fill="#ffdcd1"/>
<rect x="250.52" y="731.08" width="9.74" height="9.39" fill="#c6a7fb"/>
<rect x="259.66" y="731.08" width="9.74" height="9.39" fill="#be9cfa"/>
<rect x="268.80" y="731.08" width="9.74" height="9.39" fill="#c2a1fa"/>
<rect x="277.95" y="731.08" width="9.74" height="9.39" fill="#c2a1fa"/>
<rect x="287.09" y="731.08" width="9.74" height="9.39" fill="#b996fa"/>
<rect x="296.24" y="731.08" width="9.74" height="9.39" fill="#b996fa"/>
<rect x="305.38" y="731.08" width="9.74" height="9.39" fill="#ffe1d8"/>
<rect x="314.52" y="731.08" width="9.74" height="9.39" fill="#c6a7fb"/>
<rect x="323.67" y="731.08" width="9.74" height="9.39" fill="#ffffff"/>
<rect x="332.81" y="731.08" width="9.74" height="9.39" fill="#ffbfab"/>
<rect x="341.96" y="731.08" width="9.74" height="9.39" fill="#ffebe5"/>
<rect x="351.10" y="731.08" width="9.74" height="9.39" fill="#ffe1d8"/>
<rect x="360.24" y="731.08" width="9.74" height="9.39" fill="#ffd2c4"/>
<rect x="369.39" y="731.08" width="9.74" height="9.39" fill="#ffd2c4"/>
<rect x="378.53" y="731.08" width="9.74" height="9.39" fill="#ffd2c4"/>
<rect x="387.68" y="731.08" width="9.74" height="9.39" fill="#ffcebe"/>
<rect x="396.82" y="731.08" width="9.74" height="9.39" fill="#fff0eb"/>
<rect x="405.96" y="731.08" width="9.74" height="9.39" fill="#f8f3ff"/>
<rect x="415.11" y="731.08" width="9.74" height="9.39" fill="#ffd7cb"/>
<rect x="424.25" y="731.08" width="9.74" height="9.39" fill="#ffebe5"/>
<rect x="433.40" y="731.08" width="9.74" height="9.39" fill="#e9dbfe"/>
<rect x="442.54" y="731.08" width="9.74" height="9.39" fill="#ffcebe"/>
<rect x="451.68" y="731.08" width="9.74" height="9.39" fill="#ffc4b1"/>
<rect x="460.83" y="731.08" width="9.74" height="9.39" fill="#ffebe5"/>
<rect x="469.97" y="731.08" width="9.74" height="9.39" fill="#ffc9b7"/>
<rect x="479.12" y="731.08" width="9.74" height="9.39" fill="#ffd7cb"/>
<rect x="488.26" y="731.08" width="9.74" height="9.39" fill="#f8f3ff"/>
<rect x="497.40" y="731.08" width="9.74" height="9.39" fill="#ffd2c4"/>
<rect x="506.55" y="731.08" width="9.14" height="9.39" fill="#fff5f2"/>
<rect x="122.50" y="739.87" width="9.74" height="9.39" fill="#ffd7cb"/>
<rect x="131.64" y="739.87" width="9.74" height="9.39" fill="#ffe1d8"/>
<rect x="140.79" y="739.87" width="9.74" height="9.39" fill="#ffd7cb"/>
<rect x="149.93" y="739.87" width="9.74" height="9.39" fill="#ee0000"/>
<rect x="159.08" y="739.87" width="9.74" height="9.39" fill="#ffc9b7"/>
<rect x="168.22" y="739.87" width="9.74" height="9.39" fill="#ffbaa5"/>
<rect x="177.36" y="739.87" width="9.74" height="9.39" fill="#ffa58c"/>
<rect x="186.51" y="739.87" width="9.74" height="9.39" fill="#ffa58c"/>
<rect x="195.65" y="739.87" width="9.74" height="9.39" fill="#e6d6fe"/>
<rect x="204.80" y="739.87" width="9.74" height="9.39" fill="#fff5f2"/>
<rect x="213.94" y="739.87" width="9.74" height="9.39" fill="#fff5f2"/>
<rect x="223.08" y="739.87" width="9.74" height="9.39" fill="#ffcebe"/>
<rect x="232.23" y="739.87" width="9.74" height="9.39" fill="#ffdcd1"/>
<rect x="241.37" y="739.87" width="9.74" height="9.39" fill="#fff0eb"/>
<rect x="250.52" y="739.87" width="9.74" height="9.39" fill="#ceb3fc"/>
<rect x="259.66" y="739.87" width="9.74" height="9.39" fill="#be9cfa"/>
<rect x="268.80" y="739.87" width="9.74" height="9.39" fill="#c6a7fb"/>
<rect x="277.95" y="739.87" width="9.74" height="9.39" fill="#be9cfa"/>
<rect x="287.09" y="739.87" width="9.74" height="9.39" fill="#caadfb"/>
<rect x="296.24" y="739.87" width="9.74" height="9.39" fill="#c2a1fa"/>
<rect x="305.38" y="739.87" width="9.74" height="9.39" fill="#ffffff"/>
<rect x="314.52" y="739.87" width="9.74" height="9.39" fill="#caadfb"/>
<rect x="323.67" y="739.87" width="9.74" height="9.39" fill="#f8f3ff"/>
<rect x="332.81" y="739.87" width="9.74" height="9.39" fill="#fffaf8"/>
<rect x="341.96" y="739.87" width="9.74" height="9.39" fill="#e9dbfe"/>
<rect x="351.10" y="739.87" width="9.74" height="9.39" fill="#fff0eb"/>
<rect x="360.24" y="739.87" width="9.74" height="9.39" fill="#ffffff"/>
<rect x="369.39" y="739.87" width="9.74" height="9.39" fill="#fcf9ff"/>
<rect x="378.53" y="739.87" width="9.74" height="9.39" fill="#ffffff"/>
<rect x="387.68" y="739.87" width="9.74" height="9.39" fill="#ffe1d8"/>
<rect x="396.82" y="739.87" width="9.74" height="9.39" fill="#ffebe5"/>
<rect x="405.96" y="739.87" width="9.74" height="9.39" fill="#ffebe5"/>
<rect x="415.11" y="739.87" width="9.74" height="9.39" fill="#ffebe5"/>
<rect x="424.25" y="739.87" width="9.74" height="9.39" fill="#fffaf8"/>
<rect x="433.40" y="739.87" width="9.74" height="9.39" fill="#f8f3ff"/>
<rect x="442.54" y="739.87" width="9.74" height="9.39" fill="#ffe6de"/>
<rect x="451.68" y="739.87" width="9.74" height="9.39" fill="#ffdcd1"/>
<rect x="460.83" y="739.87" width="9.74" height="9.39" fill="#ffd7cb"/>
<rect x="469.97" y="739.87" width="9.74" height="9.39" fill="#ffd2c4"/>
<rect x="479.12" y="739.87" width="9.74" height="9.39" fill="#ffebe5"/>
<rect x="488.26" y="739.87" width="9.74" height="9.39" fill="#f8f3ff"/>
<rect x="497.40" y="739.87" width="9.74" height="9.39" fill="#ffd7cb"/>
<rect x="506.55" y="739.87" width="9.14" height="9.39" fill="#ffebe5"/>
<rect x="122.50" y="748.66" width="9.74" height="9.39" fill="#ffbfab"/>
<rect x="131.64" y="748.66" width="9.74" height="9.39" fill="#ffc4b1"/>
<rect x="140.79" y="748.66" width="9.74" height="9.39" fill="#ffe6de"/>
<rect x="149.93" y="748.66" width="9.74" height="9.39" fill="#ffc9b7"/>
<rect x="159.08" y="748.66" width="9.74" height="9.39" fill="#ee0000"/>
<rect x="168.22" y="748.66" width="9.74" height="9.39" fill="#fe6444"/>
<rect x="177.36" y="748.66" width="9.74" height="9.39" fill="#ff9b80"/>
<rect x="186.51" y="748.66" width="9.74" height="9.39" fill="#ff8668"/>
<rect x="195.65" y="748.66" width="9.74" height="9.39" fill="#dac4fd"/>
<rect x="204.80" y="748.66" width="9.74" height="9.39" fill="#fff5f2"/>
<rect x="213.94" y="748.66" width="9.74" height="9.39" fill="#e2d0fd"/>
<rect x="223.08" y="748.66" width="9.74" height="9.39" fill="#ffebe5"/>
<rect x="232.23" y="748.66" width="9.74" height="9.39" fill="#ffc4b1"/>
<rect x="241.37" y="748.66" width="9.74" height="9.39" fill="#ffd2c4"/>
<rect x="250.52" y="748.66" width="9.74" height="9.39" fill="#f1e7fe"/>
<rect x="259.66" y="748.66" width="9.74" height="9.39" fill="#ceb3fc"/>
<rect x="268.80" y="748.66" width="9.74" height="9.39" fill="#dac4fd"/>
<rect x="277.95" y="748.66" width="9.74" height="9.39" fill="#ceb3fc"/>
<rect x="287.09" y="748.66" width="9.74" height="9.39" fill="#f1e7fe"/>
<rect x="296.24" y="748.66" width="9.74" height="9.39" fill="#dac4fd"/>
<rect x="305.38" y="748.66" width="9.74" height="9.39" fill="#ffd7cb"/>
<rect x="314.52" y="748.66" width="9.74" height="9.39" fill="#ede1fe"/>
<rect x="323.67" y="748.66" width="9.74" height="9.39" fill="#ffe1d8"/>
<rect x="332.81" y="748.66" width="9.74" height="9.39" fill="#ffe1d8"/>
<rect x="341.96" y="748.66" width="9.74" height="9.39" fill="#f8f3ff"/>
<rect x="351.10" y="748.66" width="9.74" height="9.39" fill="#ffd2c4"/>
<rect x="360.24" y="748.66" width="9.74" height="9.39" fill="#ffcebe"/>
<rect x="369.39" y="748.66" width="9.74" height="9.39" fill="#ffd2c4"/>
<rect x="378.53" y="748.66" width="9.74" height="9.39" fill="#ffcebe"/>
<rect x="387.68" y="748.66" width="9.74" height="9.39" fill="#ffaa92"/>
<rect x="396.82" y="748.66" width="9.74" height="9.39" fill="#ffaf98"/>
<rect x="405.96" y="748.66" width="9.74" height="9.39" fill="#ffb59e"/>
<rect x="415.11" y="748.66" width="9.74" height="9.39" fill="#ffb59e"/>
<rect x="424.25" y="748.66" width="9.74" height="9.39" fill="#ffc4b1"/>
<rect x="433.40" y="748.66" width="9.74" height="9.39" fill="#fff5f2"/>
<rect x="442.54" y="748.66" width="9.74" height="9.39" fill="#ffb59e"/>
<rect x="451.68" y="748.66" width="9.74" height="9.39" fill="#ffbfab"/>
<rect x="460.83" y="748.66" width="9.74" height="9.39" fill="#ffa086"/>
<rect x="469.97" y="748.66" width="9.74" height="9.39" fill="#ffa086"/>
<rect x="479.12" y="748.66" width="9.74" height="9.39" fill="#ffd2c4"/>
<rect x="488.26" y="748.66" width="9.74" height="9.39" fill="#ffebe5"/>
<rect x="497.40" y="748.66" width="9.74" height="9.39" fill="#ff9b80"/>
<rect x="506.55" y="748.66" width="9.14" height="9.39" fill="#ffaf98"/>
<rect x="122.50" y="757.45" width="9.74" height="9.39" fill="#ffbfab"/>
<rect x="131.64" y="757.45" width="9.74" height="9.39" fill="#ffc4b1"/>
<rect x="140.79" y="757.45" width="9.74" height="9.39" fill="#ffe6de"/>
<rect x="149.93" y="757.45" width="9.74" height="9.39" fill="#ffbaa5"/>
<rect x="159.08" y="757.45" width="9.74" height="9.39" fill="#fe6444"/>
<rect x="168.22" y="757.45" width="9.74" height="9.39" fill="#ee0000"/>
<rect x="177.36" y="757.45" width="9.74" height="9.39" fill="#ff8b6e"/>
<rect x="186.51" y="757.45" width="9.74" height="9.39" fill="#ff8668"/>
<rect x="195.65" y="757.45" width="9.74" height="9.39" fill="#d2b8fc"/>
<rect x="204.80" y="757.45" width="9.74" height="9.39" fill="#fff5f2"/>
<rect x="213.94" y="757.45" width="9.74" height="9.39" fill="#dac4fd"/>
<rect x="223.08" y="757.45" width="9.74" height="9.39" fill="#ffebe5"/>
<rect x="232.23" y="757.45" width="9.74" height="9.39" fill="#ffbfab"/>
<rect x="241.37" y="757.45" width="9.74" height="9.39" fill="#ffd2c4"/>
<rect x="250.52" y="757.45" width="9.74" height="9.39" fill="#ede1fe"/>
<rect x="259.66" y="757.45" width="9.74" height="9.39" fill="#d2b8fc"/>
<rect x="268.80" y="757.45" width="9.74" height="9.39" fill="#dac4fd"/>
<rect x="277.95" y="757.45" width="9.74" height="9.39" fill="#d2b8fc"/>
<rect x="287.09" y="757.45" width="9.74" height="9.39" fill="#dac4fd"/>
<rect x="296.24" y="757.45" width="9.74" height="9.39" fill="#dac4fd"/>
<rect x="305.38" y="757.45" width="9.74" height="9.39" fill="#ffe6de"/>
<rect x="314.52" y="757.45" width="9.74" height="9.39" fill="#dac4fd"/>
<rect x="323.67" y="757.45" width="9.74" height="9.39" fill="#ffe6de"/>
<rect x="332.81" y="757.45" width="9.74" height="9.39" fill="#ffe6de"/>
<rect x="341.96" y="757.45" width="9.74" height="9.39" fill="#f4edff"/>
<rect x="351.10" y="757.45" width="9.74" height="9.39" fill="#ffe1d8"/>
<rect x="360.24" y="757.45" width="9.74" height="9.39" fill="#ffdcd1"/>
<rect x="369.39" y="757.45" width="9.74" height="9.39" fill="#ffe1d8"/>
<rect x="378.53" y="757.45" width="9.74" height="9.39" fill="#ffdcd1"/>
<rect x="387.68" y="757.45" width="9.74" height="9.39" fill="#ffbaa5"/>
<rect x="396.82" y="757.45" width="9.74" height="9.39" fill="#ffc4b1"/>
<rect x="405.96" y="757.45" width="9.74" height="9.39" fill="#ffcebe"/>
<rect x="415.11" y="757.45" width="9.74" height="9.39" fill="#ffc9b7"/>
<rect x="424.25" y="757.45" width="9.74" height="9.39" fill="#ffcebe"/>
<rect x="433.40" y="757.45" width="9.74" height="9.39" fill="#f4edff"/>
<rect x="442.54" y="757.45" width="9.74" height="9.39" fill="#ffc4b1"/>
<rect x="451.68" y="757.45" width="9.74" height="9.39" fill="#ffc9b7"/>
<rect x="460.83" y="757.45" width="9.74" height="9.39" fill="#ffb59e"/>
<rect x="469.97" y="757.45" width="9.74" height="9.39" fill="#ffb59e"/>
<rect x="479.12" y="757.45" width="9.74" height="9.39" fill="#ffd7cb"/>
<rect x="488.26" y="757.45" width="9.74" height="9.39" fill="#ffffff"/>
<rect x="497.40" y="757.45" width="9.74" height="9.39" fill="#ffb59e"/>
<rect x="506.55" y="757.45" width="9.14" height="9.39" fill="#ffbaa5"/>
<rect x="122.50" y="766.24" width="9.74" height="9.39" fill="#ffc9b7"/>
<rect x="131.64" y="766.24" width="9.74" height="9.39" fill="#ffb59e"/>
<rect x="140.79" y="766.24" width="9.74" height="9.39" fill="#ffcebe"/>
<rect x="149.93" y="766.24" width="9.74" height="9.39" fill="#ffa58c"/>
<rect x="159.08" y="766.24" width="9.74" height="9.39" fill="#ff9b80"/>
<rect x="168.22" y="766.24" width="9.74" height="9.39" fill="#ff8b6e"/>
<rect x="177.36" y="766.24" width="9.74" height="9.39" fill="#ee0000"/>
<rect x="186.51" y="766.24" width="9.74" height="9.39" fill="#fc5839"/>
<rect x="195.65" y="766.24" width="9.74" height="9.39" fill="#fff0eb"/>
<rect x="204.80" y="766.24" width="9.74" height="9.39" fill="#ffb59e"/>
<rect x="213.94" y="766.24" width="9.74" height="9.39" fill="#ffd7cb"/>
<rect x="223.08" y="766.24" width="9.74" height="9.39" fill="#ffcebe"/>
<rect x="232.23" y="766.24" width="9.74" height="9.39" fill="#ffa58c"/>
<rect x="241.37" y="766.24" width="9.74" height="9.39" fill="#ff8162"/>
<rect x="250.52" y="766.24" width="9.74" height="9.39" fill="#c6a7fb"/>
<rect x="259.66" y="766.24" width="9.74" height="9.39" fill="#996ef6"/>
<rect x="268.80" y="766.24" width="9.74" height="9.39" fill="#a77ff8"/>
<rect x="277.95" y="766.24" width="9.74" height="9.39" fill="#a379f7"/>
<rect x="287.09" y="766.24" width="9.74" height="9.39" fill="#b996fa"/>
<rect x="296.24" y="766.24" width="9.74" height="9.39" fill="#9e74f6"/>
<rect x="305.38" y="766.24" width="9.74" height="9.39" fill="#ffd7cb"/>
<rect x="314.52" y="766.24" width="9.74" height="9.39" fill="#ede1fe"/>
<rect x="323.67" y="766.24" width="9.74" height="9.39" fill="#ede1fe"/>
<rect x="332.81" y="766.24" width="9.74" height="9.39" fill="#ffebe5"/>
<rect x="341.96" y="766.24" width="9.74" height="9.39" fill="#e6d6fe"/>
<rect x="351.10" y="766.24" width="9.74" height="9.39" fill="#f4edff"/>
<rect x="360.24" y="766.24" width="9.74" height="9.39" fill="#f4edff"/>
<rect x="369.39" y="766.24" width="9.74" height="9.39" fill="#f8f3ff"/>
<rect x="378.53" y="766.24" width="9.74" height="9.39" fill="#f8f3ff"/>
<rect x="387.68" y="766.24" width="9.74" height="9.39" fill="#ffe1d8"/>
<rect x="396.82" y="766.24" width="9.74" height="9.39" fill="#ffe1d8"/>
<rect x="405.96" y="766.24" width="9.74" height="9.39" fill="#fff0eb"/>
<rect x="415.11" y="766.24" width="9.74" height="9.39" fill="#ffd2c4"/>
<rect x="424.25" y="766.24" width="9.74" height="9.39" fill="#ffe1d8"/>
<rect x="433.40" y="766.24" width="9.74" height="9.39" fill="#ede1fe"/>
<rect x="442.54" y="766.24" width="9.74" height="9.39" fill="#ffcebe"/>
<rect x="451.68" y="766.24" width="9.74" height="9.39" fill="#ffe6de"/>
<rect x="460.83" y="766.24" width="9.74" height="9.39" fill="#ffcebe"/>
<rect x="469.97" y="766.24" width="9.74" height="9.39" fill="#ffd2c4"/>
<rect x="479.12" y="766.24" width="9.74" height="9.39" fill="#ffe6de"/>
<rect x="488.26" y="766.24" width="9.74" height="9.39" fill="#f1e7fe"/>
<rect x="497.40" y="766.24" width="9.74" height="9.39" fill="#ffc4b1"/>
<rect x="506.55" y="766.24" width="9.14" height="9.39" fill="#ffc9b7"/>
<rect x="122.50" y="775.03" width="9.74" height="9.39" fill="#ffaf98"/>
<rect x="131.64" y="775.03" width="9.74" height="9.39" fill="#ffaa92"/>
<rect x="140.79" y="775.03" width="9.74" height="9.39" fill="#ffaf98"/>
<rect x="149.93" y="775.03" width="9.74" height="9.39" fill="#ffa58c"/>
<rect x="159.08" y="775.03" width="9.74" height="9.39" fill="#ff8668"/>
<rect x="168.22" y="775.03" width="9.74" height="9.39" fill="#ff8668"/>
<rect x="177.36" y="775.03" width="9.74" height="9.39" fill="#fc5839"/>
<rect x="186.51" y="775.03" width="9.74" height="9.39" fill="#ee0000"/>
<rect x="195.65" y="775.03" width="9.74" height="9.39" fill="#ffd7cb"/>
<rect x="204.80" y="775.03" width="9.74" height="9.39" fill="#ffaa92"/>
<rect x="213.94" y="775.03" width="9.74" height="9.39" fill="#ffcebe"/>
<rect x="223.08" y="775.03" width="9.74" height="9.39" fill="#ffaa92"/>
<rect x="232.23" y="775.03" width="9.74" height="9.39" fill="#ff9b80"/>
<rect x="241.37" y="775.03" width="9.74" height="9.39" fill="#ff8668"/>
<rect x="250.52" y="775.03" width="9.74" height="9.39" fill="#e2d0fd"/>
<rect x="259.66" y="775.03" width="9.74" height="9.39" fill="#c2a1fa"/>
<rect x="268.80" y="775.03" width="9.74" height="9.39" fill="#caadfb"/>
<rect x="277.95" y="775.03" width="9.74" height="9.39" fill="#c6a7fb"/>
<rect x="287.09" y="775.03" width="9.74" height="9.39" fill="#ceb3fc"/>
<rect x="296.24" y="775.03" width="9.74" height="9.39" fill="#c2a1fa"/>
<rect x="305.38" y="775.03" width="9.74" height="9.39" fill="#ffc4b1"/>
<rect x="314.52" y="775.03" width="9.74" height="9.39" fill="#f4edff"/>
<rect x="323.67" y="775.03" width="9.74" height="9.39" fill="#ffe6de"/>
<rect x="332.81" y="775.03" width="9.74" height="9.39" fill="#ffbfab"/>
<rect x="341.96" y="775.03" width="9.74" height="9.39" fill="#ffffff"/>
<rect x="351.10" y="775.03" width="9.74" height="9.39" fill="#ffd7cb"/>
<rect x="360.24" y="775.03" width="9.74" height="9.39" fill="#ffd2c4"/>
<rect x="369.39" y="775.03" width="9.74" height="9.39" fill="#ffd2c4"/>
<rect x="378.53" y="775.03" width="9.74" height="9.39" fill="#ffcebe"/>
<rect x="387.68" y="775.03" width="9.74" height="9.39" fill="#ffb59e"/>
<rect x="396.82" y="775.03" width="9.74" height="9.39" fill="#ffbaa5"/>
<rect x="405.96" y="775.03" width="9.74" height="9.39" fill="#ffc4b1"/>
<rect x="415.11" y="775.03" width="9.74" height="9.39" fill="#ffb59e"/>
<rect x="424.25" y="775.03" width="9.74" height="9.39" fill="#ffc4b1"/>
<rect x="433.40" y="775.03" width="9.74" height="9.39" fill="#fff5f2"/>
<rect x="442.54" y="775.03" width="9.74" height="9.39" fill="#ffaa92"/>
<rect x="451.68" y="775.03" width="9.74" height="9.39" fill="#ffbaa5"/>
<rect x="460.83" y="775.03" width="9.74" height="9.39" fill="#ffaf98"/>
<rect x="469.97" y="775.03" width="9.74" height="9.39" fill="#ffaf98"/>
<rect x="479.12" y="775.03" width="9.74" height="9.39" fill="#ffc4b1"/>
<rect x="488.26" y="775.03" width="9.74" height="9.39" fill="#ffe6de"/>
<rect x="497.40" y="775.03" width="9.74" height="9.39" fill="#ff9b80"/>
<rect x="506.55" y="775.03" width="9.14" height="9.39" fill="#ffaf98"/>
<rect x="122.50" y="783.82" width="9.74" height="9.39" fill="#ffe6de"/>
<rect x="131.64" y="783.82" width="9.74" height="9.39" fill="#ede1fe"/>
<rect x="140.79" y="783.82" width="9.74" height="9.39" fill="#ffffff"/>
<rect x="149.93" y="783.82" width="9.74" height="9.39" fill="#e6d6fe"/>
<rect x="159.08" y="783.82" width="9.74" height="9.39" fill="#dac4fd"/>
<rect x="168.22" y="783.82" width="9.74" height="9.39" fill="#d2b8fc"/>
<rect x="177.36" y="783.82" width="9.74" height="9.39" fill="#fff0eb"/>
<rect x="186.51" y="783.82" width="9.74" height="9.39" fill="#ffd7cb"/>
<rect x="195.65" y="783.82" width="9.74" height="9.39" fill="#ee0000"/>
<rect x="204.80" y="783.82" width="9.74" height="9.39" fill="#ffaf98"/>
<rect x="213.94" y="783.82" width="9.74" height="9.39" fill="#ceb3fc"/>
<rect x="223.08" y="783.82" width="9.74" height="9.39" fill="#ffffff"/>
<rect x="232.23" y="783.82" width="9.74" height="9.39" fill="#d2b8fc"/>
<rect x="241.37" y="783.82" width="9.74" height="9.39" fill="#ffffff"/>
<rect x="250.52" y="783.82" width="9.74" height="9.39" fill="#b996fa"/>
<rect x="259.66" y="783.82" width="9.74" height="9.39" fill="#996ef6"/>
<rect x="268.80" y="783.82" width="9.74" height="9.39" fill="#a77ff8"/>
<rect x="277.95" y="783.82" width="9.74" height="9.39" fill="#a77ff8"/>
<rect x="287.09" y="783.82" width="9.74" height="9.39" fill="#7d51f3"/>
<rect x="296.24" y="783.82" width="9.74" height="9.39" fill="#4925ee"/>
<rect x="305.38" y="783.82" width="9.74" height="9.39" fill="#e2d0fd"/>
<rect x="314.52" y="783.82" width="9.74" height="9.39" fill="#a77ff8"/>
<rect x="323.67" y="783.82" width="9.74" height="9.39" fill="#f1e7fe"/>
<rect x="332.81" y="783.82" width="9.74" height="9.39" fill="#ffebe5"/>
<rect x="341.96" y="783.82" width="9.74" height="9.39" fill="#dac4fd"/>
<rect x="351.10" y="783.82" width="9.74" height="9.39" fill="#b996fa"/>
<rect x="360.24" y="783.82" width="9.74" height="9.39" fill="#ceb3fc"/>
<rect x="369.39" y="783.82" width="9.74" height="9.39" fill="#c6a7fb"/>
<rect x="378.53" y="783.82" width="9.74" height="9.39" fill="#c6a7fb"/>
<rect x="387.68" y="783.82" width="9.74" height="9.39" fill="#caadfb"/>
<rect x="396.82" y="783.82" width="9.74" height="9.39" fill="#b996fa"/>
<rect x="405.96" y="783.82" width="9.74" height="9.39" fill="#c2a1fa"/>
<rect x="415.11" y="783.82" width="9.74" height="9.39" fill="#d2b8fc"/>
<rect x="424.25" y="783.82" width="9.74" height="9.39" fill="#b996fa"/>
<rect x="433.40" y="783.82" width="9.74" height="9.39" fill="#b996fa"/>
<rect x="442.54" y="783.82" width="9.74" height="9.39" fill="#caadfb"/>
<rect x="451.68" y="783.82" width="9.74" height="9.39" fill="#caadfb"/>
<rect x="460.83" y="783.82" width="9.74" height="9.39" fill="#c6a7fb"/>
<rect x="469.97" y="783.82" width="9.74" height="9.39" fill="#ceb3fc"/>
<rect x="479.12" y="783.82" width="9.74" height="9.39" fill="#caadfb"/>
<rect x="488.26" y="783.82" width="9.74" height="9.39" fill="#caadfb"/>
<rect x="497.40" y="783.82" width="9.74" height="9.39" fill="#ede1fe"/>
<rect x="506.55" y="783.82" width="9.14" height="9.39" fill="#d2b8fc"/>
<rect x="122.50" y="792.61" width="9.74" height="9.39" fill="#ffc4b1"/>
<rect x="131.64" y="792.61" width="9.74" height="9.39" fill="#ffb59e"/>
<rect x="140.79" y="792.61" width="9.74" height="9.39" fill="#ffdcd1"/>
<rect x="149.93" y="792.61" width="9.74" height="9.39" fill="#fff5f2"/>
<rect x="159.08" y="792.61" width="9.74" height="9.39" fill="#fff5f2"/>
<rect x="168.22" y="792.61" width="9.74" height="9.39" fill="#fff5f2"/>
<rect x="177.36" y="792.61" width="9.74" height="9.39" fill="#ffb59e"/>
<rect x="186.51" y="792.61" width="9.74" height="9.39" fill="#ffaa92"/>
<rect x="195.65" y="792.61" width="9.74" height="9.39" fill="#ffaf98"/>
<rect x="204.80" y="792.61" width="9.74" height="9.39" fill="#ee0000"/>
<rect x="213.94" y="792.61" width="9.74" height="9.39" fill="#ede1fe"/>
<rect x="223.08" y="792.61" width="9.74" height="9.39" fill="#ffe6de"/>
<rect x="232.23" y="792.61" width="9.74" height="9.39" fill="#ede1fe"/>
<rect x="241.37" y="792.61" width="9.74" height="9.39" fill="#ffd7cb"/>
<rect x="250.52" y="792.61" width="9.74" height="9.39" fill="#ffd7cb"/>
<rect x="259.66" y="792.61" width="9.74" height="9.39" fill="#ceb3fc"/>
<rect x="268.80" y="792.61" width="9.74" height="9.39" fill="#dac4fd"/>
<rect x="277.95" y="792.61" width="9.74" height="9.39" fill="#dac4fd"/>
<rect x="287.09" y="792.61" width="9.74" height="9.39" fill="#8e63f5"/>
<rect x="296.24" y="792.61" width="9.74" height="9.39" fill="#895df4"/>
<rect x="305.38" y="792.61" width="9.74" height="9.39" fill="#e2d0fd"/>
<rect x="314.52" y="792.61" width="9.74" height="9.39" fill="#b996fa"/>
<rect x="323.67" y="792.61" width="9.74" height="9.39" fill="#f4edff"/>
<rect x="332.81" y="792.61" width="9.74" height="9.39" fill="#ffc4b1"/>
<rect x="341.96" y="792.61" width="9.74" height="9.39" fill="#dac4fd"/>
<rect x="351.10" y="792.61" width="9.74" height="9.39" fill="#dac4fd"/>
<rect x="360.24" y="792.61" width="9.74" height="9.39" fill="#ede1fe"/>
<rect x="369.39" y="792.61" width="9.74" height="9.39" fill="#ede1fe"/>
<rect x="378.53" y="792.61" width="9.74" height="9.39" fill="#ede1fe"/>
<rect x="387.68" y="792.61" width="9.74" height="9.39" fill="#f4edff"/>
<rect x="396.82" y="792.61" width="9.74" height="9.39" fill="#e6d6fe"/>
<rect x="405.96" y="792.61" width="9.74" height="9.39" fill="#dac4fd"/>
<rect x="415.11" y="792.61" width="9.74" height="9.39" fill="#f4edff"/>
<rect x="424.25" y="792.61" width="9.74" height="9.39" fill="#f1e7fe"/>
<rect x="433.40" y="792.61" width="9.74" height="9.39" fill="#c2a1fa"/>
<rect x="442.54" y="792.61" width="9.74" height="9.39" fill="#f8f3ff"/>
<rect x="451.68" y="792.61" width="9.74" height="9.39" fill="#e9dbfe"/>
<rect x="460.83" y="792.61" width="9.74" height="9.39" fill="#e6d6fe"/>
<rect x="469.97" y="792.61" width="9.74" height="9.39" fill="#f1e7fe"/>
<rect x="479.12" y="792.61" width="9.74" height="9.39" fill="#ede1fe"/>
<rect x="488.26" y="792.61" width="9.74" height="9.39" fill="#d2b8fc"/>
<rect x="497.40" y="792.61" width="9.74" height="9.39" fill="#f1e7fe"/>
<rect x="506.55" y="792.61" width="9.14" height="9.39" fill="#e6d6fe"/>
<rect x="122.50" y="801.40" width="9.74" height="9.39" fill="#f4edff"/>
<rect x="131.64" y="801.40" width="9.74" height="9.39" fill="#e9dbfe"/>
<rect x="140.79" y="801.40" width="9.74" height="9.39" fill="#ffcebe"/>
<rect x="149.93" y="801.40" width="9.74" height="9.39" fill="#fff5f2"/>
<rect x="159.08" y="801.40" width="9.74" height="9.39" fill="#e2d0fd"/>
<rect x="168.22" y="801.40" width="9.74" height="9.39" fill="#dac4fd"/>
<rect x="177.36" y="801.40" width="9.74" height="9.39" fill="#ffd7cb"/>
<rect x="186.51" y="801.40" width="9.74" height="9.39" fill="#ffcebe"/>
<rect x="195.65" y="801.40" width="9.74" height="9.39" fill="#ceb3fc"/>
<rect x="204.80" y="801.40" width="9.74" height="9.39" fill="#ede1fe"/>
<rect x="213.94" y="801.40" width="9.74" height="9.39" fill="#ee0000"/>
<rect x="223.08" y="801.40" width="9.74" height="9.39" fill="#ff7050"/>
<rect x="232.23" y="801.40" width="9.74" height="9.39" fill="#f1e7fe"/>
<rect x="241.37" y="801.40" width="9.74" height="9.39" fill="#ffd7cb"/>
<rect x="250.52" y="801.40" width="9.74" height="9.39" fill="#7145f2"/>
<rect x="259.66" y="801.40" width="9.74" height="9.39" fill="#3f1ded"/>
<rect x="268.80" y="801.40" width="9.74" height="9.39" fill="#3f1ded"/>
<rect x="277.95" y="801.40" width="9.74" height="9.39" fill="#4925ee"/>
<rect x="287.09" y="801.40" width="9.74" height="9.39" fill="#8e63f5"/>
<rect x="296.24" y="801.40" width="9.74" height="9.39" fill="#2006ec"/>
<rect x="305.38" y="801.40" width="9.74" height="9.39" fill="#ffffff"/>
<rect x="314.52" y="801.40" width="9.74" height="9.39" fill="#ede1fe"/>
<rect x="323.67" y="801.40" width="9.74" height="9.39" fill="#996ef6"/>
<rect x="332.81" y="801.40" width="9.74" height="9.39" fill="#dac4fd"/>
<rect x="341.96" y="801.40" width="9.74" height="9.39" fill="#be9cfa"/>
<rect x="351.10" y="801.40" width="9.74" height="9.39" fill="#c2a1fa"/>
<rect x="360.24" y="801.40" width="9.74" height="9.39" fill="#d2b8fc"/>
<rect x="369.39" y="801.40" width="9.74" height="9.39" fill="#d2b8fc"/>
<rect x="378.53" y="801.40" width="9.74" height="9.39" fill="#d2b8fc"/>
<rect x="387.68" y="801.40" width="9.74" height="9.39" fill="#dac4fd"/>
<rect x="396.82" y="801.40" width="9.74" height="9.39" fill="#caadfb"/>
<rect x="405.96" y="801.40" width="9.74" height="9.39" fill="#caadfb"/>
<rect x="415.11" y="801.40" width="9.74" height="9.39" fill="#e2d0fd"/>
<rect x="424.25" y="801.40" width="9.74" height="9.39" fill="#dac4fd"/>
<rect x="433.40" y="801.40" width="9.74" height="9.39" fill="#caadfb"/>
<rect x="442.54" y="801.40" width="9.74" height="9.39" fill="#f4edff"/>
<rect x="451.68" y="801.40" width="9.74" height="9.39" fill="#dac4fd"/>
<rect x="460.83" y="801.40" width="9.74" height="9.39" fill="#caadfb"/>
<rect x="469.97" y="801.40" width="9.74" height="9.39" fill="#decafd"/>
<rect x="479.12" y="801.40" width="9.74" height="9.39" fill="#dac4fd"/>
<rect x="488.26" y="801.40" width="9.74" height="9.39" fill="#dac4fd"/>
<rect x="497.40" y="801.40" width="9.74" height="9.39" fill="#e2d0fd"/>
<rect x="506.55" y="801.40" width="9.14" height="9.39" fill="#f1e7fe"/>
<rect x="122.50" y="810.19" width="9.74" height="9.39" fill="#ffcebe"/>
<rect x="131.64" y="810.19" width="9.74" height="9.39" fill="#ffe6de"/>
<rect x="140.79" y="810.19" width="9.74" height="9.39" fill="#ffaf98"/>
<rect x="149.93" y="810.19" width="9.74" height="9.39" fill="#ffcebe"/>
<rect x="159.08" y="810.19" width="9.74" height="9.39" fill="#ffebe5"/>
<rect x="168.22" y="810.19" width="9.74" height="9.39" fill="#ffebe5"/>
<rect x="177.36" y="810.19" width="9.74" height="9.39" fill="#ffcebe"/>
<rect x="186.51" y="810.19" width="9.74" height="9.39" fill="#ffaa92"/>
<rect x="195.65" y="810.19" width="9.74" height="9.39" fill="#ffffff"/>
<rect x="204.80" y="810.19" width="9.74" height="9.39" fill="#ffe6de"/>
<rect x="213.94" y="810.19" width="9.74" height="9.39" fill="#ff7050"/>
<rect x="223.08" y="810.19" width="9.74" height="9.39" fill="#ee0000"/>
<rect x="232.23" y="810.19" width="9.74" height="9.39" fill="#f4edff"/>
<rect x="241.37" y="810.19" width="9.74" height="9.39" fill="#ffdcd1"/>
<rect x="250.52" y="810.19" width="9.74" height="9.39" fill="#a77ff8"/>
<rect x="259.66" y="810.19" width="9.74" height="9.39" fill="#9e74f6"/>
<rect x="268.80" y="810.19" width="9.74" height="9.39" fill="#9e74f6"/>
<rect x="277.95" y="810.19" width="9.74" height="9.39" fill="#9e74f6"/>
<rect x="287.09" y="810.19" width="9.74" height="9.39" fill="#a77ff8"/>
<rect x="296.24" y="810.19" width="9.74" height="9.39" fill="#8e63f5"/>
<rect x="305.38" y="810.19" width="9.74" height="9.39" fill="#f4edff"/>
<rect x="314.52" y="810.19" width="9.74" height="9.39" fill="#c6a7fb"/>
<rect x="323.67" y="810.19" width="9.74" height="9.39" fill="#c6a7fb"/>
<rect x="332.81" y="810.19" width="9.74" height="9.39" fill="#ffffff"/>
<rect x="341.96" y="810.19" width="9.74" height="9.39" fill="#c6a7fb"/>
<rect x="351.10" y="810.19" width="9.74" height="9.39" fill="#e6d6fe"/>
<rect x="360.24" y="810.19" width="9.74" height="9.39" fill="#f1e7fe"/>
<rect x="369.39" y="810.19" width="9.74" height="9.39" fill="#f1e7fe"/>
<rect x="378.53" y="810.19" width="9.74" height="9.39" fill="#ede1fe"/>
<rect x="387.68" y="810.19" width="9.74" height="9.39" fill="#f1e7fe"/>
<rect x="396.82" y="810.19" width="9.74" height="9.39" fill="#e2d0fd"/>
<rect x="405.96" y="810.19" width="9.74" height="9.39" fill="#e2d0fd"/>
<rect x="415.11" y="810.19" width="9.74" height="9.39" fill="#f1e7fe"/>
<rect x="424.25" y="810.19" width="9.74" height="9.39" fill="#e2d0fd"/>
<rect x="433.40" y="810.19" width="9.74" height="9.39" fill="#ceb3fc"/>
<rect x="442.54" y="810.19" width="9.74" height="9.39" fill="#f4edff"/>
<rect x="451.68" y="810.19" width="9.74" height="9.39" fill="#f4edff"/>
<rect x="460.83" y="810.19" width="9.74" height="9.39" fill="#e9dbfe"/>
<rect x="469.97" y="810.19" width="9.74" height="9.39" fill="#ffffff"/>
<rect x="479.12" y="810.19" width="9.74" height="9.39" fill="#f8f3ff"/>
<rect x="488.26" y="810.19" width="9.74" height="9.39" fill="#e9dbfe"/>
<rect x="497.40" y="810.19" width="9.74" height="9.39" fill="#fffaf8"/>
<rect x="506.55" y="810.19" width="9.14" height="9.39" fill="#ede1fe"/>
<rect x="122.50" y="818.98" width="9.74" height="9.39" fill="#ffd7cb"/>
<rect x="131.64" y="818.98" width="9.74" height="9.39" fill="#ffaa92"/>
<rect x="140.79" y="818.98" width="9.74" height="9.39" fill="#f8f3ff"/>
<rect x="149.93" y="818.98" width="9.74" height="9.39" fill="#ffdcd1"/>
<rect x="159.08" y="818.98" width="9.74" height="9.39" fill="#ffc4b1"/>
<rect x="168.22" y="818.98" width="9.74" height="9.39" fill="#ffbfab"/>
<rect x="177.36" y="818.98" width="9.74" height="9.39" fill="#ffa58c"/>
<rect x="186.51" y="818.98" width="9.74" height="9.39" fill="#ff9b80"/>
<rect x="195.65" y="818.98" width="9.74" height="9.39" fill="#d2b8fc"/>
<rect x="204.80" y="818.98" width="9.74" height="9.39" fill="#ede1fe"/>
<rect x="213.94" y="818.98" width="9.74" height="9.39" fill="#f1e7fe"/>
<rect x="223.08" y="818.98" width="9.74" height="9.39" fill="#f4edff"/>
<rect x="232.23" y="818.98" width="9.74" height="9.39" fill="#ee0000"/>
<rect x="241.37" y="818.98" width="9.74" height="9.39" fill="#ffd7cb"/>
<rect x="250.52" y="818.98" width="9.74" height="9.39" fill="#b18bf9"/>
<rect x="259.66" y="818.98" width="9.74" height="9.39" fill="#996ef6"/>
<rect x="268.80" y="818.98" width="9.74" height="9.39" fill="#996ef6"/>
<rect x="277.95" y="818.98" width="9.74" height="9.39" fill="#8e63f5"/>
<rect x="287.09" y="818.98" width="9.74" height="9.39" fill="#c6a7fb"/>
<rect x="296.24" y="818.98" width="9.74" height="9.39" fill="#8e63f5"/>
<rect x="305.38" y="818.98" width="9.74" height="9.39" fill="#fff0eb"/>
<rect x="314.52" y="818.98" width="9.74" height="9.39" fill="#f1e7fe"/>
<rect x="323.67" y="818.98" width="9.74" height="9.39" fill="#d2b8fc"/>
<rect x="332.81" y="818.98" width="9.74" height="9.39" fill="#ede1fe"/>
<rect x="341.96" y="818.98" width="9.74" height="9.39" fill="#e6d6fe"/>
<rect x="351.10" y="818.98" width="9.74" height="9.39" fill="#e6d6fe"/>
<rect x="360.24" y="818.98" width="9.74" height="9.39" fill="#e2d0fd"/>
<rect x="369.39" y="818.98" width="9.74" height="9.39" fill="#e2d0fd"/>
<rect x="378.53" y="818.98" width="9.74" height="9.39" fill="#e6d6fe"/>
<rect x="387.68" y="818.98" width="9.74" height="9.39" fill="#fff5f2"/>
<rect x="396.82" y="818.98" width="9.74" height="9.39" fill="#ffffff"/>
<rect x="405.96" y="818.98" width="9.74" height="9.39" fill="#ffffff"/>
<rect x="415.11" y="818.98" width="9.74" height="9.39" fill="#f8f3ff"/>
<rect x="424.25" y="818.98" width="9.74" height="9.39" fill="#ffffff"/>
<rect x="433.40" y="818.98" width="9.74" height="9.39" fill="#f1e7fe"/>
<rect x="442.54" y="818.98" width="9.74" height="9.39" fill="#ffebe5"/>
<rect x="451.68" y="818.98" width="9.74" height="9.39" fill="#f8f3ff"/>
<rect x="460.83" y="818.98" width="9.74" height="9.39" fill="#fff0eb"/>
<rect x="469.97" y="818.98" width="9.74" height="9.39" fill="#fff5f2"/>
<rect x="479.12" y="818.98" width="9.74" height="9.39" fill="#f4edff"/>
<rect x="488.26" y="818.98" width="9.74" height="9.39" fill="#f8f3ff"/>
<rect x="497.40" y="818.98" width="9.74" height="9.39" fill="#ffebe5"/>
<rect x="506.55" y="818.98" width="9.14" height="9.39" fill="#ffe1d8"/>
<rect x="122.50" y="827.77" width="9.74" height="9.39" fill="#fff0eb"/>
<rect x="131.64" y="827.77" width="9.74" height="9.39" fill="#ffd2c4"/>
<rect x="140.79" y="827.77" width="9.74" height="9.39" fill="#ffdcd1"/>
<rect x="149.93" y="827.77" width="9.74" height="9.39" fill="#fff0eb"/>
<rect x="159.08" y="827.77" width="9.74" height="9.39" fill="#ffd2c4"/>
<rect x="168.22" y="827.77" width="9.74" height="9.39" fill="#ffd2c4"/>
<rect x="177.36" y="827.77" width="9.74" height="9.39" fill="#ff8162"/>
<rect x="186.51" y="827.77" width="9.74" height="9.39" fill="#ff8668"/>
<rect x="195.65" y="827.77" width="9.74" height="9.39" fill="#ffffff"/>
<rect x="204.80" y="827.77" width="9.74" height="9.39" fill="#ffd7cb"/>
<rect x="213.94" y="827.77" width="9.74" height="9.39" fill="#ffd7cb"/>
<rect x="223.08" y="827.77" width="9.74" height="9.39" fill="#ffdcd1"/>
<rect x="232.23" y="827.77" width="9.74" height="9.39" fill="#ffd7cb"/>
<rect x="241.37" y="827.77" width="9.74" height="9.39" fill="#ee0000"/>
<rect x="250.52" y="827.77" width="9.74" height="9.39" fill="#8e63f5"/>
<rect x="259.66" y="827.77" width="9.74" height="9.39" fill="#3f1ded"/>
<rect x="268.80" y="827.77" width="9.74" height="9.39" fill="#4925ee"/>
<rect x="277.95" y="827.77" width="9.74" height="9.39" fill="#3f1ded"/>
<rect x="287.09" y="827.77" width="9.74" height="9.39" fill="#9e74f6"/>
<rect x="296.24" y="827.77" width="9.74" height="9.39" fill="#3f1ded"/>
<rect x="305.38" y="827.77" width="9.74" height="9.39" fill="#ffe1d8"/>
<rect x="314.52" y="827.77" width="9.74" height="9.39" fill="#f1e7fe"/>
<rect x="323.67" y="827.77" width="9.74" height="9.39" fill="#b18bf9"/>
<rect x="332.81" y="827.77" width="9.74" height="9.39" fill="#f8f3ff"/>
<rect x="341.96" y="827.77" width="9.74" height="9.39" fill="#ceb3fc"/>
<rect x="351.10" y="827.77" width="9.74" height="9.39" fill="#caadfb"/>
<rect x="360.24" y="827.77" width="9.74" height="9.39" fill="#d2b8fc"/>
<rect x="369.39" y="827.77" width="9.74" height="9.39" fill="#d2b8fc"/>
<rect x="378.53" y="827.77" width="9.74" height="9.39" fill="#d6befc"/>
<rect x="387.68" y="827.77" width="9.74" height="9.39" fill="#e9dbfe"/>
<rect x="396.82" y="827.77" width="9.74" height="9.39" fill="#e6d6fe"/>
<rect x="405.96" y="827.77" width="9.74" height="9.39" fill="#e2d0fd"/>
<rect x="415.11" y="827.77" width="9.74" height="9.39" fill="#f8f3ff"/>
<rect x="424.25" y="827.77" width="9.74" height="9.39" fill="#e9dbfe"/>
<rect x="433.40" y="827.77" width="9.74" height="9.39" fill="#d2b8fc"/>
<rect x="442.54" y="827.77" width="9.74" height="9.39" fill="#fff0eb"/>
<rect x="451.68" y="827.77" width="9.74" height="9.39" fill="#e9dbfe"/>
<rect x="460.83" y="827.77" width="9.74" height="9.39" fill="#f1e7fe"/>
<rect x="469.97" y="827.77" width="9.74" height="9.39" fill="#f1e7fe"/>
<rect x="479.12" y="827.77" width="9.74" height="9.39" fill="#e2d0fd"/>
<rect x="488.26" y="827.77" width="9.74" height="9.39" fill="#e2d0fd"/>
<rect x="497.40" y="827.77" width="9.74" height="9.39" fill="#fffaf8"/>
<rect x="506.55" y="827.77" width="9.14" height="9.39" fill="#ffebe5"/>
<rect x="122.50" y="836.56" width="9.74" height="9.39" fill="#ffcebe"/>
<rect x="131.64" y="836.56" width="9.74" height="9.39" fill="#fff0eb"/>
<rect x="140.79" y="836.56" width="9.74" height="9.39" fill="#c6a7fb"/>
<rect x="149.93" y="836.56" width="9.74" height="9.39" fill="#ceb3fc"/>
<rect x="159.08" y="836.56" width="9.74" height="9.39" fill="#f1e7fe"/>
<rect x="168.22" y="836.56" width="9.74" height="9.39" fill="#ede1fe"/>
<rect x="177.36" y="836.56" width="9.74" height="9.39" fill="#c6a7fb"/>
<rect x="186.51" y="836.56" width="9.74" height="9.39" fill="#e2d0fd"/>
<rect x="195.65" y="836.56" width="9.74" height="9.39" fill="#b996fa"/>
<rect x="204.80" y="836.56" width="9.74" height="9.39" fill="#ffd7cb"/>
<rect x="213.94" y="836.56" width="9.74" height="9.39" fill="#7145f2"/>
<rect x="223.08" y="836.56" width="9.74" height="9.39" fill="#a77ff8"/>
<rect x="232.23" y="836.56" width="9.74" height="9.39" fill="#b18bf9"/>
<rect x="241.37" y="836.56" width="9.74" height="9.39" fill="#8e63f5"/>
<rect x="250.52" y="836.56" width="9.74" height="9.39" fill="#ee0000"/>
<rect x="259.66" y="836.56" width="9.74" height="9.39" fill="#ff8b6e"/>
<rect x="268.80" y="836.56" width="9.74" height="9.39" fill="#ff8b6e"/>
<rect x="277.95" y="836.56" width="9.74" height="9.39" fill="#ff8b6e"/>
<rect x="287.09" y="836.56" width="9.74" height="9.39" fill="#ffaf98"/>
<rect x="296.24" y="836.56" width="9.74" height="9.39" fill="#ffaf98"/>
<rect x="305.38" y="836.56" width="9.74" height="9.39" fill="#dac4fd"/>
<rect x="314.52" y="836.56" width="9.74" height="9.39" fill="#dac4fd"/>
<rect x="323.67" y="836.56" width="9.74" height="9.39" fill="#ff9174"/>
<rect x="332.81" y="836.56" width="9.74" height="9.39" fill="#ffb59e"/>
<rect x="341.96" y="836.56" width="9.74" height="9.39" fill="#ffbfab"/>
<rect x="351.10" y="836.56" width="9.74" height="9.39" fill="#ffbfab"/>
<rect x="360.24" y="836.56" width="9.74" height="9.39" fill="#ffbaa5"/>
<rect x="369.39" y="836.56" width="9.74" height="9.39" fill="#ffbaa5"/>
<rect x="378.53" y="836.56" width="9.74" height="9.39" fill="#ffbaa5"/>
<rect x="387.68" y="836.56" width="9.74" height="9.39" fill="#ffaa92"/>
<rect x="396.82" y="836.56" width="9.74" height="9.39" fill="#ffbfab"/>
<rect x="405.96" y="836.56" width="9.74" height="9.39" fill="#ffbaa5"/>
<rect x="415.11" y="836.56" width="9.74" height="9.39" fill="#ffbfab"/>
<rect x="424.25" y="836.56" width="9.74" height="9.39" fill="#ffc4b1"/>
<rect x="433.40" y="836.56" width="9.74" height="9.39" fill="#ffdcd1"/>
<rect x="442.54" y="836.56" width="9.74" height="9.39" fill="#ffcebe"/>
<rect x="451.68" y="836.56" width="9.74" height="9.39" fill="#ffcebe"/>
<rect x="460.83" y="836.56" width="9.74" height="9.39" fill="#ffb59e"/>
<rect x="469.97" y="836.56" width="9.74" height="9.39" fill="#ffc4b1"/>
<rect x="479.12" y="836.56" width="9.74" height="9.39" fill="#ffebe5"/>
<rect x="488.26" y="836.56" width="9.74" height="9.39" fill="#f8f3ff"/>
<rect x="497.40" y="836.56" width="9.74" height="9.39" fill="#ffe1d8"/>
<rect x="506.55" y="836.56" width="9.14" height="9.39" fill="#ffebe5"/>
<rect x="122.50" y="845.35" width="9.74" height="9.39" fill="#ffcebe"/>
<rect x="131.64" y="845.35" width="9.74" height="9.39" fill="#ede1fe"/>
<rect x="140.79" y="845.35" width="9.74" height="9.39" fill="#be9cfa"/>
<rect x="149.93" y="845.35" width="9.74" height="9.39" fill="#be9cfa"/>
<rect x="159.08" y="845.35" width="9.74" height="9.39" fill="#ceb3fc"/>
<rect x="168.22" y="845.35" width="9.74" height="9.39" fill="#d2b8fc"/>
<rect x="177.36" y="845.35" width="9.74" height="9.39" fill="#996ef6"/>
<rect x="186.51" y="845.35" width="9.74" height="9.39" fill="#c2a1fa"/>
<rect x="195.65" y="845.35" width="9.74" height="9.39" fill="#996ef6"/>
<rect x="204.80" y="845.35" width="9.74" height="9.39" fill="#ceb3fc"/>
<rect x="213.94" y="845.35" width="9.74" height="9.39" fill="#3f1ded"/>
<rect x="223.08" y="845.35" width="9.74" height="9.39" fill="#9e74f6"/>
<rect x="232.23" y="845.35" width="9.74" height="9.39" fill="#996ef6"/>
<rect x="241.37" y="845.35" width="9.74" height="9.39" fill="#3f1ded"/>
<rect x="250.52" y="845.35" width="9.74" height="9.39" fill="#ff8b6e"/>
<rect x="259.66" y="845.35" width="9.74" height="9.39" fill="#ee0000"/>
<rect x="268.80" y="845.35" width="9.74" height="9.39" fill="#ff7b5c"/>
<rect x="277.95" y="845.35" width="9.74" height="9.39" fill="#ff7050"/>
<rect x="287.09" y="845.35" width="9.74" height="9.39" fill="#ffdcd1"/>
<rect x="296.24" y="845.35" width="9.74" height="9.39" fill="#ff9174"/>
<rect x="305.38" y="845.35" width="9.74" height="9.39" fill="#b996fa"/>
<rect x="314.52" y="845.35" width="9.74" height="9.39" fill="#c6a7fb"/>
<rect x="323.67" y="845.35" width="9.74" height="9.39" fill="#ff9174"/>
<rect x="332.81" y="845.35" width="9.74" height="9.39" fill="#ffc4b1"/>
<rect x="341.96" y="845.35" width="9.74" height="9.39" fill="#ffd2c4"/>
<rect x="351.10" y="845.35" width="9.74" height="9.39" fill="#ffb59e"/>
<rect x="360.24" y="845.35" width="9.74" height="9.39" fill="#ffa086"/>
<rect x="369.39" y="845.35" width="9.74" height="9.39" fill="#ffa086"/>
<rect x="378.53" y="845.35" width="9.74" height="9.39" fill="#ffa086"/>
<rect x="387.68" y="845.35" width="9.74" height="9.39" fill="#ffaa92"/>
<rect x="396.82" y="845.35" width="9.74" height="9.39" fill="#ffc4b1"/>
<rect x="405.96" y="845.35" width="9.74" height="9.39" fill="#ffbfab"/>
<rect x="415.11" y="845.35" width="9.74" height="9.39" fill="#ffcebe"/>
<rect x="424.25" y="845.35" width="9.74" height="9.39" fill="#ffc4b1"/>
<rect x="433.40" y="845.35" width="9.74" height="9.39" fill="#ffebe5"/>
<rect x="442.54" y="845.35" width="9.74" height="9.39" fill="#ffdcd1"/>
<rect x="451.68" y="845.35" width="9.74" height="9.39" fill="#ffd7cb"/>
<rect x="460.83" y="845.35" width="9.74" height="9.39" fill="#ffe1d8"/>
<rect x="469.97" y="845.35" width="9.74" height="9.39" fill="#ffe1d8"/>
<rect x="479.12" y="845.35" width="9.74" height="9.39" fill="#ffe6de"/>
<rect x="488.26" y="845.35" width="9.74" height="9.39" fill="#f1e7fe"/>
<rect x="497.40" y="845.35" width="9.74" height="9.39" fill="#fcf9ff"/>
<rect x="506.55" y="845.35" width="9.14" height="9.39" fill="#e2d0fd"/>
<rect x="122.50" y="854.14" width="9.74" height="9.39" fill="#ffbaa5"/>
<rect x="131.64" y="854.14" width="9.74" height="9.39" fill="#ffffff"/>
<rect x="140.79" y="854.14" width="9.74" height="9.39" fill="#c2a1fa"/>
<rect x="149.93" y="854.14" width="9.74" height="9.39" fill="#c6a7fb"/>
<rect x="159.08" y="854.14" width="9.74" height="9.39" fill="#dac4fd"/>
<rect x="168.22" y="854.14" width="9.74" height="9.39" fill="#dac4fd"/>
<rect x="177.36" y="854.14" width="9.74" height="9.39" fill="#a77ff8"/>
<rect x="186.51" y="854.14" width="9.74" height="9.39" fill="#caadfb"/>
<rect x="195.65" y="854.14" width="9.74" height="9.39" fill="#a77ff8"/>
<rect x="204.80" y="854.14" width="9.74" height="9.39" fill="#dac4fd"/>
<rect x="213.94" y="854.14" width="9.74" height="9.39" fill="#3f1ded"/>
<rect x="223.08" y="854.14" width="9.74" height="9.39" fill="#9e74f6"/>
<rect x="232.23" y="854.14" width="9.74" height="9.39" fill="#996ef6"/>
<rect x="241.37" y="854.14" width="9.74" height="9.39" fill="#4925ee"/>
<rect x="250.52" y="854.14" width="9.74" height="9.39" fill="#ff8b6e"/>
<rect x="259.66" y="854.14" width="9.74" height="9.39" fill="#ff7b5c"/>
<rect x="268.80" y="854.14" width="9.74" height="9.39" fill="#ee0000"/>
<rect x="277.95" y="854.14" width="9.74" height="9.39" fill="#f74326"/>
<rect x="287.09" y="854.14" width="9.74" height="9.39" fill="#fff0eb"/>
<rect x="296.24" y="854.14" width="9.74" height="9.39" fill="#ff9174"/>
<rect x="305.38" y="854.14" width="9.74" height="9.39" fill="#b996fa"/>
<rect x="314.52" y="854.14" width="9.74" height="9.39" fill="#b18bf9"/>
<rect x="323.67" y="854.14" width="9.74" height="9.39" fill="#ff8162"/>
<rect x="332.81" y="854.14" width="9.74" height="9.39" fill="#ffaa92"/>
<rect x="341.96" y="854.14" width="9.74" height="9.39" fill="#ffe1d8"/>
<rect x="351.10" y="854.14" width="9.74" height="9.39" fill="#ffc4b1"/>
<rect x="360.24" y="854.14" width="9.74" height="9.39" fill="#ff9b80"/>
<rect x="369.39" y="854.14" width="9.74" height="9.39" fill="#ffaa92"/>
<rect x="378.53" y="854.14" width="9.74" height="9.39" fill="#ffaa92"/>
<rect x="387.68" y="854.14" width="9.74" height="9.39" fill="#ffaf98"/>
<rect x="396.82" y="854.14" width="9.74" height="9.39" fill="#ffd7cb"/>
<rect x="405.96" y="854.14" width="9.74" height="9.39" fill="#ffd7cb"/>
<rect x="415.11" y="854.14" width="9.74" height="9.39" fill="#ffdcd1"/>
<rect x="424.25" y="854.14" width="9.74" height="9.39" fill="#ffe1d8"/>
<rect x="433.40" y="854.14" width="9.74" height="9.39" fill="#f4edff"/>
<rect x="442.54" y="854.14" width="9.74" height="9.39" fill="#fff0eb"/>
<rect x="451.68" y="854.14" width="9.74" height="9.39" fill="#ffdcd1"/>
<rect x="460.83" y="854.14" width="9.74" height="9.39" fill="#ffe1d8"/>
<rect x="469.97" y="854.14" width="9.74" height="9.39" fill="#ffe1d8"/>
<rect x="479.12" y="854.14" width="9.74" height="9.39" fill="#ffebe5"/>
<rect x="488.26" y="854.14" width="9.74" height="9.39" fill="#e2d0fd"/>
<rect x="497.40" y="854.14" width="9.74" height="9.39" fill="#fff5f2"/>
<rect x="506.55" y="854.14" width="9.14" height="9.39" fill="#e2d0fd"/>
<rect x="122.50" y="862.93" width="9.74" height="9.39" fill="#ffbaa5"/>
<rect x="131.64" y="862.93" width="9.74" height="9.39" fill="#f8f3ff"/>
<rect x="140.79" y="862.93" width="9.74" height="9.39" fill="#c2a1fa"/>
<rect x="149.93" y="862.93" width="9.74" height="9.39" fill="#be9cfa"/>
<rect x="159.08" y="862.93" width="9.74" height="9.39" fill="#ceb3fc"/>
<rect x="168.22" y="862.93" width="9.74" height="9.39" fill="#d2b8fc"/>
<rect x="177.36" y="862.93" width="9.74" height="9.39" fill="#a379f7"/>
<rect x="186.51" y="862.93" width="9.74" height="9.39" fill="#c6a7fb"/>
<rect x="195.65" y="862.93" width="9.74" height="9.39" fill="#a77ff8"/>
<rect x="204.80" y="862.93" width="9.74" height="9.39" fill="#dac4fd"/>
<rect x="213.94" y="862.93" width="9.74" height="9.39" fill="#4925ee"/>
<rect x="223.08" y="862.93" width="9.74" height="9.39" fill="#9e74f6"/>
<rect x="232.23" y="862.93" width="9.74" height="9.39" fill="#8e63f5"/>
<rect x="241.37" y="862.93" width="9.74" height="9.39" fill="#3f1ded"/>
<rect x="250.52" y="862.93" width="9.74" height="9.39" fill="#ff8b6e"/>
<rect x="259.66" y="862.93" width="9.74" height="9.39" fill="#ff7050"/>
<rect x="268.80" y="862.93" width="9.74" height="9.39" fill="#f74326"/>
<rect x="277.95" y="862.93" width="9.74" height="9.39" fill="#ee0000"/>
<rect x="287.09" y="862.93" width="9.74" height="9.39" fill="#ffebe5"/>
<rect x="296.24" y="862.93" width="9.74" height="9.39" fill="#ff9174"/>
<rect x="305.38" y="862.93" width="9.74" height="9.39" fill="#b996fa"/>
<rect x="314.52" y="862.93" width="9.74" height="9.39" fill="#b996fa"/>
<rect x="323.67" y="862.93" width="9.74" height="9.39" fill="#ff8162"/>
<rect x="332.81" y="862.93" width="9.74" height="9.39" fill="#ffaf98"/>
<rect x="341.96" y="862.93" width="9.74" height="9.39" fill="#ffe1d8"/>
<rect x="351.10" y="862.93" width="9.74" height="9.39" fill="#ffc4b1"/>
<rect x="360.24" y="862.93" width="9.74" height="9.39" fill="#ff9b80"/>
<rect x="369.39" y="862.93" width="9.74" height="9.39" fill="#ffa58c"/>
<rect x="378.53" y="862.93" width="9.74" height="9.39" fill="#ffa58c"/>
<rect x="387.68" y="862.93" width="9.74" height="9.39" fill="#ffaf98"/>
<rect x="396.82" y="862.93" width="9.74" height="9.39" fill="#ffd7cb"/>
<rect x="405.96" y="862.93" width="9.74" height="9.39" fill="#ffd7cb"/>
<rect x="415.11" y="862.93" width="9.74" height="9.39" fill="#ffdcd1"/>
<rect x="424.25" y="862.93" width="9.74" height="9.39" fill="#ffdcd1"/>
<rect x="433.40" y="862.93" width="9.74" height="9.39" fill="#fcf9ff"/>
<rect x="442.54" y="862.93" width="9.74" height="9.39" fill="#ffebe5"/>
<rect x="451.68" y="862.93" width="9.74" height="9.39" fill="#ffdcd1"/>
<rect x="460.83" y="862.93" width="9.74" height="9.39" fill="#ffe1d8"/>
<rect x="469.97" y="862.93" width="9.74" height="9.39" fill="#ffe6de"/>
<rect x="479.12" y="862.93" width="9.74" height="9.39" fill="#ffebe5"/>
<rect x="488.26" y="862.93" width="9.74" height="9.39" fill="#e6d6fe"/>
<rect x="497.40" y="862.93" width="9.74" height="9.39" fill="#fcf9ff"/>
<rect x="506.55" y="862.93" width="9.14" height="9.39" fill="#dac4fd"/>
<rect x="122.50" y="871.72" width="9.74" height="9.39" fill="#dac4fd"/>
<rect x="131.64" y="871.72" width="9.74" height="9.39" fill="#b18bf9"/>
<rect x="140.79" y="871.72" width="9.74" height="9.39" fill="#b996fa"/>
<rect x="149.93" y="871.72" width="9.74" height="9.39" fill="#caadfb"/>
<rect x="159.08" y="871.72" width="9.74" height="9.39" fill="#f1e7fe"/>
<rect x="168.22" y="871.72" width="9.74" height="9.39" fill="#dac4fd"/>
<rect x="177.36" y="871.72" width="9.74" height="9.39" fill="#b996fa"/>
<rect x="186.51" y="871.72" width="9.74" height="9.39" fill="#ceb3fc"/>
<rect x="195.65" y="871.72" width="9.74" height="9.39" fill="#7d51f3"/>
<rect x="204.80" y="871.72" width="9.74" height="9.39" fill="#8e63f5"/>
<rect x="213.94" y="871.72" width="9.74" height="9.39" fill="#8e63f5"/>
<rect x="223.08" y="871.72" width="9.74" height="9.39" fill="#a77ff8"/>
<rect x="232.23" y="871.72" width="9.74" height="9.39" fill="#c6a7fb"/>
<rect x="241.37" y="871.72" width="9.74" height="9.39" fill="#9e74f6"/>
<rect x="250.52" y="871.72" width="9.74" height="9.39" fill="#ffaf98"/>
<rect x="259.66" y="871.72" width="9.74" height="9.39" fill="#ffdcd1"/>
<rect x="268.80" y="871.72" width="9.74" height="9.39" fill="#fff0eb"/>
<rect x="277.95" y="871.72" width="9.74" height="9.39" fill="#ffebe5"/>
<rect x="287.09" y="871.72" width="9.74" height="9.39" fill="#ee0000"/>
<rect x="296.24" y="871.72" width="9.74" height="9.39" fill="#ff9b80"/>
<rect x="305.38" y="871.72" width="9.74" height="9.39" fill="#fffaf8"/>
<rect x="314.52" y="871.72" width="9.74" height="9.39" fill="#ffd7cb"/>
<rect x="323.67" y="871.72" width="9.74" height="9.39" fill="#fff0eb"/>
<rect x="332.81" y="871.72" width="9.74" height="9.39" fill="#ede1fe"/>
<rect x="341.96" y="871.72" width="9.74" height="9.39" fill="#f1e7fe"/>
<rect x="351.10" y="871.72" width="9.74" height="9.39" fill="#ffa58c"/>
<rect x="360.24" y="871.72" width="9.74" height="9.39" fill="#ffa086"/>
<rect x="369.39" y="871.72" width="9.74" height="9.39" fill="#ffa086"/>
<rect x="378.53" y="871.72" width="9.74" height="9.39" fill="#ffa58c"/>
<rect x="387.68" y="871.72" width="9.74" height="9.39" fill="#ff7656"/>
<rect x="396.82" y="871.72" width="9.74" height="9.39" fill="#ff9b80"/>
<rect x="405.96" y="871.72" width="9.74" height="9.39" fill="#ff8b6e"/>
<rect x="415.11" y="871.72" width="9.74" height="9.39" fill="#ffa58c"/>
<rect x="424.25" y="871.72" width="9.74" height="9.39" fill="#ffa58c"/>
<rect x="433.40" y="871.72" width="9.74" height="9.39" fill="#ff9b80"/>
<rect x="442.54" y="871.72" width="9.74" height="9.39" fill="#ffaf98"/>
<rect x="451.68" y="871.72" width="9.74" height="9.39" fill="#ffc4b1"/>
<rect x="460.83" y="871.72" width="9.74" height="9.39" fill="#ffb59e"/>
<rect x="469.97" y="871.72" width="9.74" height="9.39" fill="#ffc4b1"/>
<rect x="479.12" y="871.72" width="9.74" height="9.39" fill="#ffebe5"/>
<rect x="488.26" y="871.72" width="9.74" height="9.39" fill="#ffebe5"/>
<rect x="497.40" y="871.72" width="9.74" height="9.39" fill="#ffd2c4"/>
<rect x="506.55" y="871.72" width="9.14" height="9.39" fill="#ffc4b1"/>
<rect x="122.50" y="880.51" width="9.74" height="9.39" fill="#dac4fd"/>
<rect x="131.64" y="880.51" width="9.74" height="9.39" fill="#b18bf9"/>
<rect x="140.79" y="880.51" width="9.74" height="9.39" fill="#b996fa"/>
<rect x="149.93" y="880.51" width="9.74" height="9.39" fill="#c2a1fa"/>
<rect x="159.08" y="880.51" width="9.74" height="9.39" fill="#dac4fd"/>
<rect x="168.22" y="880.51" width="9.74" height="9.39" fill="#dac4fd"/>
<rect x="177.36" y="880.51" width="9.74" height="9.39" fill="#9e74f6"/>
<rect x="186.51" y="880.51" width="9.74" height="9.39" fill="#c2a1fa"/>
<rect x="195.65" y="880.51" width="9.74" height="9.39" fill="#4925ee"/>
<rect x="204.80" y="880.51" width="9.74" height="9.39" fill="#895df4"/>
<rect x="213.94" y="880.51" width="9.74" height="9.39" fill="#2006ec"/>
<rect x="223.08" y="880.51" width="9.74" height="9.39" fill="#8e63f5"/>
<rect x="232.23" y="880.51" width="9.74" height="9.39" fill="#8e63f5"/>
<rect x="241.37" y="880.51" width="9.74" height="9.39" fill="#3f1ded"/>
<rect x="250.52" y="880.51" width="9.74" height="9.39" fill="#ffaf98"/>
<rect x="259.66" y="880.51" width="9.74" height="9.39" fill="#ff9174"/>
<rect x="268.80" y="880.51" width="9.74" height="9.39" fill="#ff9174"/>
<rect x="277.95" y="880.51" width="9.74" height="9.39" fill="#ff9174"/>
<rect x="287.09" y="880.51" width="9.74" height="9.39" fill="#ff9b80"/>
<rect x="296.24" y="880.51" width="9.74" height="9.39" fill="#ee0000"/>
<rect x="305.38" y="880.51" width="9.74" height="9.39" fill="#ceb3fc"/>
<rect x="314.52" y="880.51" width="9.74" height="9.39" fill="#d2b8fc"/>
<rect x="323.67" y="880.51" width="9.74" height="9.39" fill="#ffcebe"/>
<rect x="332.81" y="880.51" width="9.74" height="9.39" fill="#f1e7fe"/>
<rect x="341.96" y="880.51" width="9.74" height="9.39" fill="#e6d6fe"/>
<rect x="351.10" y="880.51" width="9.74" height="9.39" fill="#ffaa92"/>
<rect x="360.24" y="880.51" width="9.74" height="9.39" fill="#ff9174"/>
<rect x="369.39" y="880.51" width="9.74" height="9.39" fill="#ff967a"/>
<rect x="378.53" y="880.51" width="9.74" height="9.39" fill="#ff967a"/>
<rect x="387.68" y="880.51" width="9.74" height="9.39" fill="#ff9174"/>
<rect x="396.82" y="880.51" width="9.74" height="9.39" fill="#ffbaa5"/>
<rect x="405.96" y="880.51" width="9.74" height="9.39" fill="#ffaf98"/>
<rect x="415.11" y="880.51" width="9.74" height="9.39" fill="#ffc4b1"/>
<rect x="424.25" y="880.51" width="9.74" height="9.39" fill="#ffbaa5"/>
<rect x="433.40" y="880.51" width="9.74" height="9.39" fill="#ffdcd1"/>
<rect x="442.54" y="880.51" width="9.74" height="9.39" fill="#ffd7cb"/>
<rect x="451.68" y="880.51" width="9.74" height="9.39" fill="#ffcebe"/>
<rect x="460.83" y="880.51" width="9.74" height="9.39" fill="#ffc4b1"/>
<rect x="469.97" y="880.51" width="9.74" height="9.39" fill="#ffcebe"/>
<rect x="479.12" y="880.51" width="9.74" height="9.39" fill="#ffebe5"/>
<rect x="488.26" y="880.51" width="9.74" height="9.39" fill="#f4edff"/>
<rect x="497.40" y="880.51" width="9.74" height="9.39" fill="#fff0eb"/>
<rect x="506.55" y="880.51" width="9.14" height="9.39" fill="#f8f3ff"/>
<rect x="122.50" y="889.30" width="9.74" height="9.39" fill="#fff5f2"/>
<rect x="131.64" y="889.30" width="9.74" height="9.39" fill="#f4edff"/>
<rect x="140.79" y="889.30" width="9.74" height="9.39" fill="#ffe1d8"/>
<rect x="149.93" y="889.30" width="9.74" height="9.39" fill="#ffffff"/>
<rect x="159.08" y="889.30" width="9.74" height="9.39" fill="#ffd7cb"/>
<rect x="168.22" y="889.30" width="9.74" height="9.39" fill="#ffe6de"/>
<rect x="177.36" y="889.30" width="9.74" height="9.39" fill="#ffd7cb"/>
<rect x="186.51" y="889.30" width="9.74" height="9.39" fill="#ffc4b1"/>
<rect x="195.65" y="889.30" width="9.74" height="9.39" fill="#e2d0fd"/>
<rect x="204.80" y="889.30" width="9.74" height="9.39" fill="#e2d0fd"/>
<rect x="213.94" y="889.30" width="9.74" height="9.39" fill="#ffffff"/>
<rect x="223.08" y="889.30" width="9.74" height="9.39" fill="#f4edff"/>
<rect x="232.23" y="889.30" width="9.74" height="9.39" fill="#fff0eb"/>
<rect x="241.37" y="889.30" width="9.74" height="9.39" fill="#ffe1d8"/>
<rect x="250.52" y="889.30" width="9.74" height="9.39" fill="#dac4fd"/>
<rect x="259.66" y="889.30" width="9.74" height="9.39" fill="#b996fa"/>
<rect x="268.80" y="889.30" width="9.74" height="9.39" fill="#b996fa"/>
<rect x="277.95" y="889.30" width="9.74" height="9.39" fill="#b996fa"/>
<rect x="287.09" y="889.30" width="9.74" height="9.39" fill="#fffaf8"/>
<rect x="296.24" y="889.30" width="9.74" height="9.39" fill="#ceb3fc"/>
<rect x="305.38" y="889.30" width="9.74" height="9.39" fill="#ee0000"/>
<rect x="314.52" y="889.30" width="9.74" height="9.39" fill="#ffc4b1"/>
<rect x="323.67" y="889.30" width="9.74" height="9.39" fill="#fff0eb"/>
<rect x="332.81" y="889.30" width="9.74" height="9.39" fill="#ffcebe"/>
<rect x="341.96" y="889.30" width="9.74" height="9.39" fill="#ffcebe"/>
<rect x="351.10" y="889.30" width="9.74" height="9.39" fill="#ffdcd1"/>
<rect x="360.24" y="889.30" width="9.74" height="9.39" fill="#ffd7cb"/>
<rect x="369.39" y="889.30" width="9.74" height="9.39" fill="#ffdcd1"/>
<rect x="378.53" y="889.30" width="9.74" height="9.39" fill="#ffdcd1"/>
<rect x="387.68" y="889.30" width="9.74" height="9.39" fill="#ffa086"/>
<rect x="396.82" y="889.30" width="9.74" height="9.39" fill="#ffcebe"/>
<rect x="405.96" y="889.30" width="9.74" height="9.39" fill="#ffc4b1"/>
<rect x="415.11" y="889.30" width="9.74" height="9.39" fill="#ffaa92"/>
<rect x="424.25" y="889.30" width="9.74" height="9.39" fill="#ffc4b1"/>
<rect x="433.40" y="889.30" width="9.74" height="9.39" fill="#ffbfab"/>
<rect x="442.54" y="889.30" width="9.74" height="9.39" fill="#ff8162"/>
<rect x="451.68" y="889.30" width="9.74" height="9.39" fill="#ffaa92"/>
<rect x="460.83" y="889.30" width="9.74" height="9.39" fill="#ffaf98"/>
<rect x="469.97" y="889.30" width="9.74" height="9.39" fill="#ffb59e"/>
<rect x="479.12" y="889.30" width="9.74" height="9.39" fill="#ffffff"/>
<rect x="488.26" y="889.30" width="9.74" height="9.39" fill="#ffebe5"/>
<rect x="497.40" y="889.30" width="9.74" height="9.39" fill="#ffa58c"/>
<rect x="506.55" y="889.30" width="9.14" height="9.39" fill="#ff8b6e"/>
<rect x="122.50" y="898.09" width="9.74" height="9.39" fill="#dac4fd"/>
<rect x="131.64" y="898.09" width="9.74" height="9.39" fill="#e2d0fd"/>
<rect x="140.79" y="898.09" width="9.74" height="9.39" fill="#c6a7fb"/>
<rect x="149.93" y="898.09" width="9.74" height="9.39" fill="#caadfb"/>
<rect x="159.08" y="898.09" width="9.74" height="9.39" fill="#ede1fe"/>
<rect x="168.22" y="898.09" width="9.74" height="9.39" fill="#dac4fd"/>
<rect x="177.36" y="898.09" width="9.74" height="9.39" fill="#ede1fe"/>
<rect x="186.51" y="898.09" width="9.74" height="9.39" fill="#f4edff"/>
<rect x="195.65" y="898.09" width="9.74" height="9.39" fill="#a77ff8"/>
<rect x="204.80" y="898.09" width="9.74" height="9.39" fill="#b996fa"/>
<rect x="213.94" y="898.09" width="9.74" height="9.39" fill="#ede1fe"/>
<rect x="223.08" y="898.09" width="9.74" height="9.39" fill="#c6a7fb"/>
<rect x="232.23" y="898.09" width="9.74" height="9.39" fill="#f1e7fe"/>
<rect x="241.37" y="898.09" width="9.74" height="9.39" fill="#f1e7fe"/>
<rect x="250.52" y="898.09" width="9.74" height="9.39" fill="#dac4fd"/>
<rect x="259.66" y="898.09" width="9.74" height="9.39" fill="#c6a7fb"/>
<rect x="268.80" y="898.09" width="9.74" height="9.39" fill="#b18bf9"/>
<rect x="277.95" y="898.09" width="9.74" height="9.39" fill="#b996fa"/>
<rect x="287.09" y="898.09" width="9.74" height="9.39" fill="#ffd7cb"/>
<rect x="296.24" y="898.09" width="9.74" height="9.39" fill="#d2b8fc"/>
<rect x="305.38" y="898.09" width="9.74" height="9.39" fill="#ffc4b1"/>
<rect x="314.52" y="898.09" width="9.74" height="9.39" fill="#ee0000"/>
<rect x="323.67" y="898.09" width="9.74" height="9.39" fill="#dac4fd"/>
<rect x="332.81" y="898.09" width="9.74" height="9.39" fill="#ffffff"/>
<rect x="341.96" y="898.09" width="9.74" height="9.39" fill="#ede1fe"/>
<rect x="351.10" y="898.09" width="9.74" height="9.39" fill="#ffb59e"/>
<rect x="360.24" y="898.09" width="9.74" height="9.39" fill="#ffaa92"/>
<rect x="369.39" y="898.09" width="9.74" height="9.39" fill="#ffa086"/>
<rect x="378.53" y="898.09" width="9.74" height="9.39" fill="#ffa086"/>
<rect x="387.68" y="898.09" width="9.74" height="9.39" fill="#ff8b6e"/>
<rect x="396.82" y="898.09" width="9.74" height="9.39" fill="#ff8668"/>
<rect x="405.96" y="898.09" width="9.74" height="9.39" fill="#ff9174"/>
<rect x="415.11" y="898.09" width="9.74" height="9.39" fill="#ff9b80"/>
<rect x="424.25" y="898.09" width="9.74" height="9.39" fill="#ff6a4a"/>
<rect x="433.40" y="898.09" width="9.74" height="9.39" fill="#ff8668"/>
<rect x="442.54" y="898.09" width="9.74" height="9.39" fill="#ff6a4a"/>
<rect x="451.68" y="898.09" width="9.74" height="9.39" fill="#ffb59e"/>
<rect x="460.83" y="898.09" width="9.74" height="9.39" fill="#ffb59e"/>
<rect x="469.97" y="898.09" width="9.74" height="9.39" fill="#ffc4b1"/>
<rect x="479.12" y="898.09" width="9.74" height="9.39" fill="#ffc4b1"/>
<rect x="488.26" y="898.09" width="9.74" height="9.39" fill="#ffc4b1"/>
<rect x="497.40" y="898.09" width="9.74" height="9.39" fill="#ffe6de"/>
<rect x="506.55" y="898.09" width="9.14" height="9.39" fill="#ffaa92"/>
<rect x="122.50" y="906.88" width="9.74" height="9.39" fill="#ff8b6e"/>
<rect x="131.64" y="906.88" width="9.74" height="9.39" fill="#ffd7cb"/>
<rect x="140.79" y="906.88" width="9.74" height="9.39" fill="#ffffff"/>
<rect x="149.93" y="906.88" width="9.74" height="9.39" fill="#f8f3ff"/>
<rect x="159.08" y="906.88" width="9.74" height="9.39" fill="#ffe1d8"/>
<rect x="168.22" y="906.88" width="9.74" height="9.39" fill="#ffe6de"/>
<rect x="177.36" y="906.88" width="9.74" height="9.39" fill="#ede1fe"/>
<rect x="186.51" y="906.88" width="9.74" height="9.39" fill="#ffe6de"/>
<rect x="195.65" y="906.88" width="9.74" height="9.39" fill="#f1e7fe"/>
<rect x="204.80" y="906.88" width="9.74" height="9.39" fill="#f4edff"/>
<rect x="213.94" y="906.88" width="9.74" height="9.39" fill="#996ef6"/>
<rect x="223.08" y="906.88" width="9.74" height="9.39" fill="#c6a7fb"/>
<rect x="232.23" y="906.88" width="9.74" height="9.39" fill="#d2b8fc"/>
<rect x="241.37" y="906.88" width="9.74" height="9.39" fill="#b18bf9"/>
<rect x="250.52" y="906.88" width="9.74" height="9.39" fill="#ff9174"/>
<rect x="259.66" y="906.88" width="9.74" height="9.39" fill="#ff9174"/>
<rect x="268.80" y="906.88" width="9.74" height="9.39" fill="#ff8162"/>
<rect x="277.95" y="906.88" width="9.74" height="9.39" fill="#ff8162"/>
<rect x="287.09" y="906.88" width="9.74" height="9.39" fill="#fff0eb"/>
<rect x="296.24" y="906.88" width="9.74" height="9.39" fill="#ffcebe"/>
<rect x="305.38" y="906.88" width="9.74" height="9.39" fill="#fff0eb"/>
<rect x="314.52" y="906.88" width="9.74" height="9.39" fill="#dac4fd"/>
<rect x="323.67" y="906.88" width="9.74" height="9.39" fill="#ee0000"/>
<rect x="332.81" y="906.88" width="9.74" height="9.39" fill="#ff8668"/>
<rect x="341.96" y="906.88" width="9.74" height="9.39" fill="#ff9174"/>
<rect x="351.10" y="906.88" width="9.74" height="9.39" fill="#ffaa92"/>
<rect x="360.24" y="906.88" width="9.74" height="9.39" fill="#ffa58c"/>
<rect x="369.39" y="906.88" width="9.74" height="9.39" fill="#ffaa92"/>
<rect x="378.53" y="906.88" width="9.74" height="9.39" fill="#ffaa92"/>
<rect x="387.68" y="906.88" width="9.74" height="9.39" fill="#ffaa92"/>
<rect x="396.82" y="906.88" width="9.74" height="9.39" fill="#ffbfab"/>
<rect x="405.96" y="906.88" width="9.74" height="9.39" fill="#ffb59e"/>
<rect x="415.11" y="906.88" width="9.74" height="9.39" fill="#ffbfab"/>
<rect x="424.25" y="906.88" width="9.74" height="9.39" fill="#ffc9b7"/>
<rect x="433.40" y="906.88" width="9.74" height="9.39" fill="#ffcebe"/>
<rect x="442.54" y="906.88" width="9.74" height="9.39" fill="#ffbaa5"/>
<rect x="451.68" y="906.88" width="9.74" height="9.39" fill="#ffbaa5"/>
<rect x="460.83" y="906.88" width="9.74" height="9.39" fill="#ffaa92"/>
<rect x="469.97" y="906.88" width="9.74" height="9.39" fill="#ffaf98"/>
<rect x="479.12" y="906.88" width="9.74" height="9.39" fill="#ffe1d8"/>
<rect x="488.26" y="906.88" width="9.74" height="9.39" fill="#fff5f2"/>
<rect x="497.40" y="906.88" width="9.74" height="9.39" fill="#ffaa92"/>
<rect x="506.55" y="906.88" width="9.14" height="9.39" fill="#ffd7cb"/>
<rect x="122.50" y="915.67" width="9.74" height="9.39" fill="#ff9174"/>
<rect x="131.64" y="915.67" width="9.74" height="9.39" fill="#ffa58c"/>
<rect x="140.79" y="915.67" width="9.74" height="9.39" fill="#ffbfab"/>
<rect x="149.93" y="915.67" width="9.74" height="9.39" fill="#fffaf8"/>
<rect x="159.08" y="915.67" width="9.74" height="9.39" fill="#ffe1d8"/>
<rect x="168.22" y="915.67" width="9.74" height="9.39" fill="#ffe6de"/>
<rect x="177.36" y="915.67" width="9.74" height="9.39" fill="#ffebe5"/>
<rect x="186.51" y="915.67" width="9.74" height="9.39" fill="#ffbfab"/>
<rect x="195.65" y="915.67" width="9.74" height="9.39" fill="#ffebe5"/>
<rect x="204.80" y="915.67" width="9.74" height="9.39" fill="#ffc4b1"/>
<rect x="213.94" y="915.67" width="9.74" height="9.39" fill="#dac4fd"/>
<rect x="223.08" y="915.67" width="9.74" height="9.39" fill="#ffffff"/>
<rect x="232.23" y="915.67" width="9.74" height="9.39" fill="#ede1fe"/>
<rect x="241.37" y="915.67" width="9.74" height="9.39" fill="#f8f3ff"/>
<rect x="250.52" y="915.67" width="9.74" height="9.39" fill="#ffb59e"/>
<rect x="259.66" y="915.67" width="9.74" height="9.39" fill="#ffc4b1"/>
<rect x="268.80" y="915.67" width="9.74" height="9.39" fill="#ffaa92"/>
<rect x="277.95" y="915.67" width="9.74" height="9.39" fill="#ffaf98"/>
<rect x="287.09" y="915.67" width="9.74" height="9.39" fill="#ede1fe"/>
<rect x="296.24" y="915.67" width="9.74" height="9.39" fill="#f1e7fe"/>
<rect x="305.38" y="915.67" width="9.74" height="9.39" fill="#ffcebe"/>
<rect x="314.52" y="915.67" width="9.74" height="9.39" fill="#ffffff"/>
<rect x="323.67" y="915.67" width="9.74" height="9.39" fill="#ff8668"/>
<rect x="332.81" y="915.67" width="9.74" height="9.39" fill="#ee0000"/>
<rect x="341.96" y="915.67" width="9.74" height="9.39" fill="#ff8162"/>
<rect x="351.10" y="915.67" width="9.74" height="9.39" fill="#ffaf98"/>
<rect x="360.24" y="915.67" width="9.74" height="9.39" fill="#ffaf98"/>
<rect x="369.39" y="915.67" width="9.74" height="9.39" fill="#ffaf98"/>
<rect x="378.53" y="915.67" width="9.74" height="9.39" fill="#ffaf98"/>
<rect x="387.68" y="915.67" width="9.74" height="9.39" fill="#ffaa92"/>
<rect x="396.82" y="915.67" width="9.74" height="9.39" fill="#ffbaa5"/>
<rect x="405.96" y="915.67" width="9.74" height="9.39" fill="#ffbaa5"/>
<rect x="415.11" y="915.67" width="9.74" height="9.39" fill="#ffaf98"/>
<rect x="424.25" y="915.67" width="9.74" height="9.39" fill="#ffbaa5"/>
<rect x="433.40" y="915.67" width="9.74" height="9.39" fill="#ffd2c4"/>
<rect x="442.54" y="915.67" width="9.74" height="9.39" fill="#ffa086"/>
<rect x="451.68" y="915.67" width="9.74" height="9.39" fill="#ffa086"/>
<rect x="460.83" y="915.67" width="9.74" height="9.39" fill="#ffbfab"/>
<rect x="469.97" y="915.67" width="9.74" height="9.39" fill="#ffaf98"/>
<rect x="479.12" y="915.67" width="9.74" height="9.39" fill="#ffd2c4"/>
<rect x="488.26" y="915.67" width="9.74" height="9.39" fill="#ffe6de"/>
<rect x="497.40" y="915.67" width="9.74" height="9.39" fill="#ffbfab"/>
<rect x="506.55" y="915.67" width="9.14" height="9.39" fill="#ffd7cb"/>
<rect x="122.50" y="924.46" width="9.74" height="9.39" fill="#ffbfab"/>
<rect x="131.64" y="924.46" width="9.74" height="9.39" fill="#ffebe5"/>
<rect x="140.79" y="924.46" width="9.74" height="9.39" fill="#ffebe5"/>
<rect x="149.93" y="924.46" width="9.74" height="9.39" fill="#e9dbfe"/>
<rect x="159.08" y="924.46" width="9.74" height="9.39" fill="#f8f3ff"/>
<rect x="168.22" y="924.46" width="9.74" height="9.39" fill="#f4edff"/>
<rect x="177.36" y="924.46" width="9.74" height="9.39" fill="#e6d6fe"/>
<rect x="186.51" y="924.46" width="9.74" height="9.39" fill="#ffffff"/>
<rect x="195.65" y="924.46" width="9.74" height="9.39" fill="#dac4fd"/>
<rect x="204.80" y="924.46" width="9.74" height="9.39" fill="#dac4fd"/>
<rect x="213.94" y="924.46" width="9.74" height="9.39" fill="#be9cfa"/>
<rect x="223.08" y="924.46" width="9.74" height="9.39" fill="#c6a7fb"/>
<rect x="232.23" y="924.46" width="9.74" height="9.39" fill="#e6d6fe"/>
<rect x="241.37" y="924.46" width="9.74" height="9.39" fill="#ceb3fc"/>
<rect x="250.52" y="924.46" width="9.74" height="9.39" fill="#ffbfab"/>
<rect x="259.66" y="924.46" width="9.74" height="9.39" fill="#ffd2c4"/>
<rect x="268.80" y="924.46" width="9.74" height="9.39" fill="#ffe1d8"/>
<rect x="277.95" y="924.46" width="9.74" height="9.39" fill="#ffe1d8"/>
<rect x="287.09" y="924.46" width="9.74" height="9.39" fill="#f1e7fe"/>
<rect x="296.24" y="924.46" width="9.74" height="9.39" fill="#e6d6fe"/>
<rect x="305.38" y="924.46" width="9.74" height="9.39" fill="#ffcebe"/>
<rect x="314.52" y="924.46" width="9.74" height="9.39" fill="#ede1fe"/>
<rect x="323.67" y="924.46" width="9.74" height="9.39" fill="#ff9174"/>
<rect x="332.81" y="924.46" width="9.74" height="9.39" fill="#ff8162"/>
<rect x="341.96" y="924.46" width="9.74" height="9.39" fill="#ee0000"/>
<rect x="351.10" y="924.46" width="9.74" height="9.39" fill="#ffd2c4"/>
<rect x="360.24" y="924.46" width="9.74" height="9.39" fill="#ffd2c4"/>
<rect x="369.39" y="924.46" width="9.74" height="9.39" fill="#ffd7cb"/>
<rect x="378.53" y="924.46" width="9.74" height="9.39" fill="#ffd7cb"/>
<rect x="387.68" y="924.46" width="9.74" height="9.39" fill="#ffbaa5"/>
<rect x="396.82" y="924.46" width="9.74" height="9.39" fill="#ffe6de"/>
<rect x="405.96" y="924.46" width="9.74" height="9.39" fill="#ffd2c4"/>
<rect x="415.11" y="924.46" width="9.74" height="9.39" fill="#ffcebe"/>
<rect x="424.25" y="924.46" width="9.74" height="9.39" fill="#ffdcd1"/>
<rect x="433.40" y="924.46" width="9.74" height="9.39" fill="#ffd7cb"/>
<rect x="442.54" y="924.46" width="9.74" height="9.39" fill="#ffbaa5"/>
<rect x="451.68" y="924.46" width="9.74" height="9.39" fill="#ffa086"/>
<rect x="460.83" y="924.46" width="9.74" height="9.39" fill="#ffcebe"/>
<rect x="469.97" y="924.46" width="9.74" height="9.39" fill="#ffc9b7"/>
<rect x="479.12" y="924.46" width="9.74" height="9.39" fill="#fff0eb"/>
<rect x="488.26" y="924.46" width="9.74" height="9.39" fill="#ffebe5"/>
<rect x="497.40" y="924.46" width="9.74" height="9.39" fill="#ffc4b1"/>
<rect x="506.55" y="924.46" width="9.14" height="9.39" fill="#ffd2c4"/>
<rect x="122.50" y="933.25" width="9.74" height="9.39" fill="#ffcebe"/>
<rect x="131.64" y="933.25" width="9.74" height="9.39" fill="#fffaf8"/>
<rect x="140.79" y="933.25" width="9.74" height="9.39" fill="#ffe1d8"/>
<rect x="149.93" y="933.25" width="9.74" height="9.39" fill="#fff0eb"/>
<rect x="159.08" y="933.25" width="9.74" height="9.39" fill="#ffd2c4"/>
<rect x="168.22" y="933.25" width="9.74" height="9.39" fill="#ffe1d8"/>
<rect x="177.36" y="933.25" width="9.74" height="9.39" fill="#f4edff"/>
<rect x="186.51" y="933.25" width="9.74" height="9.39" fill="#ffd7cb"/>
<rect x="195.65" y="933.25" width="9.74" height="9.39" fill="#b996fa"/>
<rect x="204.80" y="933.25" width="9.74" height="9.39" fill="#dac4fd"/>
<rect x="213.94" y="933.25" width="9.74" height="9.39" fill="#c2a1fa"/>
<rect x="223.08" y="933.25" width="9.74" height="9.39" fill="#e6d6fe"/>
<rect x="232.23" y="933.25" width="9.74" height="9.39" fill="#e6d6fe"/>
<rect x="241.37" y="933.25" width="9.74" height="9.39" fill="#caadfb"/>
<rect x="250.52" y="933.25" width="9.74" height="9.39" fill="#ffbfab"/>
<rect x="259.66" y="933.25" width="9.74" height="9.39" fill="#ffb59e"/>
<rect x="268.80" y="933.25" width="9.74" height="9.39" fill="#ffc4b1"/>
<rect x="277.95" y="933.25" width="9.74" height="9.39" fill="#ffc4b1"/>
<rect x="287.09" y="933.25" width="9.74" height="9.39" fill="#ffa58c"/>
<rect x="296.24" y="933.25" width="9.74" height="9.39" fill="#ffaa92"/>
<rect x="305.38" y="933.25" width="9.74" height="9.39" fill="#ffdcd1"/>
<rect x="314.52" y="933.25" width="9.74" height="9.39" fill="#ffb59e"/>
<rect x="323.67" y="933.25" width="9.74" height="9.39" fill="#ffaa92"/>
<rect x="332.81" y="933.25" width="9.74" height="9.39" fill="#ffaf98"/>
<rect x="341.96" y="933.25" width="9.74" height="9.39" fill="#ffd2c4"/>
<rect x="351.10" y="933.25" width="9.74" height="9.39" fill="#ee0000"/>
<rect x="360.24" y="933.25" width="9.74" height="9.39" fill="#fd5e3e"/>
<rect x="369.39" y="933.25" width="9.74" height="9.39" fill="#fd5e3e"/>
<rect x="378.53" y="933.25" width="9.74" height="9.39" fill="#fd5e3e"/>
<rect x="387.68" y="933.25" width="9.74" height="9.39" fill="#fd5e3e"/>
<rect x="396.82" y="933.25" width="9.74" height="9.39" fill="#fe6444"/>
<rect x="405.96" y="933.25" width="9.74" height="9.39" fill="#fc5839"/>
<rect x="415.11" y="933.25" width="9.74" height="9.39" fill="#fe6444"/>
<rect x="424.25" y="933.25" width="9.74" height="9.39" fill="#fe6444"/>
<rect x="433.40" y="933.25" width="9.74" height="9.39" fill="#fe6444"/>
<rect x="442.54" y="933.25" width="9.74" height="9.39" fill="#ff7b5c"/>
<rect x="451.68" y="933.25" width="9.74" height="9.39" fill="#fe6444"/>
<rect x="460.83" y="933.25" width="9.74" height="9.39" fill="#fd5e3e"/>
<rect x="469.97" y="933.25" width="9.74" height="9.39" fill="#fd5e3e"/>
<rect x="479.12" y="933.25" width="9.74" height="9.39" fill="#ff7656"/>
<rect x="488.26" y="933.25" width="9.74" height="9.39" fill="#ff7b5c"/>
<rect x="497.40" y="933.25" width="9.74" height="9.39" fill="#ff8b6e"/>
<rect x="506.55" y="933.25" width="9.14" height="9.39" fill="#ff9174"/>
<rect x="122.50" y="942.04" width="9.74" height="9.39" fill="#ffc4b1"/>
<rect x="131.64" y="942.04" width="9.74" height="9.39" fill="#fff5f2"/>
<rect x="140.79" y="942.04" width="9.74" height="9.39" fill="#ffd2c4"/>
<rect x="149.93" y="942.04" width="9.74" height="9.39" fill="#ffffff"/>
<rect x="159.08" y="942.04" width="9.74" height="9.39" fill="#ffcebe"/>
<rect x="168.22" y="942.04" width="9.74" height="9.39" fill="#ffdcd1"/>
<rect x="177.36" y="942.04" width="9.74" height="9.39" fill="#f4edff"/>
<rect x="186.51" y="942.04" width="9.74" height="9.39" fill="#ffd2c4"/>
<rect x="195.65" y="942.04" width="9.74" height="9.39" fill="#ceb3fc"/>
<rect x="204.80" y="942.04" width="9.74" height="9.39" fill="#ede1fe"/>
<rect x="213.94" y="942.04" width="9.74" height="9.39" fill="#d2b8fc"/>
<rect x="223.08" y="942.04" width="9.74" height="9.39" fill="#f1e7fe"/>
<rect x="232.23" y="942.04" width="9.74" height="9.39" fill="#e2d0fd"/>
<rect x="241.37" y="942.04" width="9.74" height="9.39" fill="#d2b8fc"/>
<rect x="250.52" y="942.04" width="9.74" height="9.39" fill="#ffbaa5"/>
<rect x="259.66" y="942.04" width="9.74" height="9.39" fill="#ffa086"/>
<rect x="268.80" y="942.04" width="9.74" height="9.39" fill="#ff9b80"/>
<rect x="277.95" y="942.04" width="9.74" height="9.39" fill="#ff9b80"/>
<rect x="287.09" y="942.04" width="9.74" height="9.39" fill="#ffa086"/>
<rect x="296.24" y="942.04" width="9.74" height="9.39" fill="#ff9174"/>
<rect x="305.38" y="942.04" width="9.74" height="9.39" fill="#ffd7cb"/>
<rect x="314.52" y="942.04" width="9.74" height="9.39" fill="#ffaa92"/>
<rect x="323.67" y="942.04" width="9.74" height="9.39" fill="#ffa58c"/>
<rect x="332.81" y="942.04" width="9.74" height="9.39" fill="#ffaf98"/>
<rect x="341.96" y="942.04" width="9.74" height="9.39" fill="#ffd2c4"/>
<rect x="351.10" y="942.04" width="9.74" height="9.39" fill="#fd5e3e"/>
<rect x="360.24" y="942.04" width="9.74" height="9.39" fill="#ee0000"/>
<rect x="369.39" y="942.04" width="9.74" height="9.39" fill="#f4371d"/>
<rect x="378.53" y="942.04" width="9.74" height="9.39" fill="#f63f23"/>
<rect x="387.68" y="942.04" width="9.74" height="9.39" fill="#fd5e3e"/>
<rect x="396.82" y="942.04" width="9.74" height="9.39" fill="#ff6a4a"/>
<rect x="405.96" y="942.04" width="9.74" height="9.39" fill="#ff6a4a"/>
<rect x="415.11" y="942.04" width="9.74" height="9.39" fill="#ff6a4a"/>
<rect x="424.25" y="942.04" width="9.74" height="9.39" fill="#ff6a4a"/>
<rect x="433.40" y="942.04" width="9.74" height="9.39" fill="#ff7656"/>
<rect x="442.54" y="942.04" width="9.74" height="9.39" fill="#ff7656"/>
<rect x="451.68" y="942.04" width="9.74" height="9.39" fill="#ff7050"/>
<rect x="460.83" y="942.04" width="9.74" height="9.39" fill="#ff7656"/>
<rect x="469.97" y="942.04" width="9.74" height="9.39" fill="#ff7656"/>
<rect x="479.12" y="942.04" width="9.74" height="9.39" fill="#ff7b5c"/>
<rect x="488.26" y="942.04" width="9.74" height="9.39" fill="#ff8b6e"/>
<rect x="497.40" y="942.04" width="9.74" height="9.39" fill="#ff8b6e"/>
<rect x="506.55" y="942.04" width="9.14" height="9.39" fill="#ff967a"/>
<rect x="122.50" y="950.83" width="9.74" height="9.39" fill="#ffc4b1"/>
<rect x="131.64" y="950.83" width="9.74" height="9.39" fill="#fff5f2"/>
<rect x="140.79" y="950.83" width="9.74" height="9.39" fill="#ffd2c4"/>
<rect x="149.93" y="950.83" width="9.74" height="9.39" fill="#fcf9ff"/>
<rect x="159.08" y="950.83" width="9.74" height="9.39" fill="#ffd2c4"/>
<rect x="168.22" y="950.83" width="9.74" height="9.39" fill="#ffe1d8"/>
<rect x="177.36" y="950.83" width="9.74" height="9.39" fill="#f8f3ff"/>
<rect x="186.51" y="950.83" width="9.74" height="9.39" fill="#ffd2c4"/>
<rect x="195.65" y="950.83" width="9.74" height="9.39" fill="#c6a7fb"/>
<rect x="204.80" y="950.83" width="9.74" height="9.39" fill="#ede1fe"/>
<rect x="213.94" y="950.83" width="9.74" height="9.39" fill="#d2b8fc"/>
<rect x="223.08" y="950.83" width="9.74" height="9.39" fill="#f1e7fe"/>
<rect x="232.23" y="950.83" width="9.74" height="9.39" fill="#e2d0fd"/>
<rect x="241.37" y="950.83" width="9.74" height="9.39" fill="#d2b8fc"/>
<rect x="250.52" y="950.83" width="9.74" height="9.39" fill="#ffbaa5"/>
<rect x="259.66" y="950.83" width="9.74" height="9.39" fill="#ffa086"/>
<rect x="268.80" y="950.83" width="9.74" height="9.39" fill="#ffaa92"/>
<rect x="277.95" y="950.83" width="9.74" height="9.39" fill="#ffa58c"/>
<rect x="287.09" y="950.83" width="9.74" height="9.39" fill="#ffa086"/>
<rect x="296.24" y="950.83" width="9.74" height="9.39" fill="#ff967a"/>
<rect x="305.38" y="950.83" width="9.74" height="9.39" fill="#ffdcd1"/>
<rect x="314.52" y="950.83" width="9.74" height="9.39" fill="#ffa086"/>
<rect x="323.67" y="950.83" width="9.74" height="9.39" fill="#ffaa92"/>
<rect x="332.81" y="950.83" width="9.74" height="9.39" fill="#ffaf98"/>
<rect x="341.96" y="950.83" width="9.74" height="9.39" fill="#ffd7cb"/>
<rect x="351.10" y="950.83" width="9.74" height="9.39" fill="#fd5e3e"/>
<rect x="360.24" y="950.83" width="9.74" height="9.39" fill="#f4371d"/>
<rect x="369.39" y="950.83" width="9.74" height="9.39" fill="#ee0000"/>
<rect x="378.53" y="950.83" width="9.74" height="9.39" fill="#f01909"/>
<rect x="387.68" y="950.83" width="9.74" height="9.39" fill="#fc5839"/>
<rect x="396.82" y="950.83" width="9.74" height="9.39" fill="#ff6a4a"/>
<rect x="405.96" y="950.83" width="9.74" height="9.39" fill="#ff6a4a"/>
<rect x="415.11" y="950.83" width="9.74" height="9.39" fill="#ff6a4a"/>
<rect x="424.25" y="950.83" width="9.74" height="9.39" fill="#ff6a4a"/>
<rect x="433.40" y="950.83" width="9.74" height="9.39" fill="#ff7656"/>
<rect x="442.54" y="950.83" width="9.74" height="9.39" fill="#ff7656"/>
<rect x="451.68" y="950.83" width="9.74" height="9.39" fill="#ff7656"/>
<rect x="460.83" y="950.83" width="9.74" height="9.39" fill="#ff7b5c"/>
<rect x="469.97" y="950.83" width="9.74" height="9.39" fill="#ff7b5c"/>
<rect x="479.12" y="950.83" width="9.74" height="9.39" fill="#ff7b5c"/>
<rect x="488.26" y="950.83" width="9.74" height="9.39" fill="#ff9174"/>
<rect x="497.40" y="950.83" width="9.74" height="9.39" fill="#ff967a"/>
<rect x="506.55" y="950.83" width="9.14" height="9.39" fill="#ff9b80"/>
<rect x="122.50" y="959.62" width="9.74" height="9.39" fill="#ffc4b1"/>
<rect x="131.64" y="959.62" width="9.74" height="9.39" fill="#fff0eb"/>
<rect x="140.79" y="959.62" width="9.74" height="9.39" fill="#ffd2c4"/>
<rect x="149.93" y="959.62" width="9.74" height="9.39" fill="#ffffff"/>
<rect x="159.08" y="959.62" width="9.74" height="9.39" fill="#ffcebe"/>
<rect x="168.22" y="959.62" width="9.74" height="9.39" fill="#ffdcd1"/>
<rect x="177.36" y="959.62" width="9.74" height="9.39" fill="#f8f3ff"/>
<rect x="186.51" y="959.62" width="9.74" height="9.39" fill="#ffcebe"/>
<rect x="195.65" y="959.62" width="9.74" height="9.39" fill="#c6a7fb"/>
<rect x="204.80" y="959.62" width="9.74" height="9.39" fill="#ede1fe"/>
<rect x="213.94" y="959.62" width="9.74" height="9.39" fill="#d2b8fc"/>
<rect x="223.08" y="959.62" width="9.74" height="9.39" fill="#ede1fe"/>
<rect x="232.23" y="959.62" width="9.74" height="9.39" fill="#e6d6fe"/>
<rect x="241.37" y="959.62" width="9.74" height="9.39" fill="#d6befc"/>
<rect x="250.52" y="959.62" width="9.74" height="9.39" fill="#ffbaa5"/>
<rect x="259.66" y="959.62" width="9.74" height="9.39" fill="#ffa086"/>
<rect x="268.80" y="959.62" width="9.74" height="9.39" fill="#ffaa92"/>
<rect x="277.95" y="959.62" width="9.74" height="9.39" fill="#ffa58c"/>
<rect x="287.09" y="959.62" width="9.74" height="9.39" fill="#ffa58c"/>
<rect x="296.24" y="959.62" width="9.74" height="9.39" fill="#ff967a"/>
<rect x="305.38" y="959.62" width="9.74" height="9.39" fill="#ffdcd1"/>
<rect x="314.52" y="959.62" width="9.74" height="9.39" fill="#ffa086"/>
<rect x="323.67" y="959.62" width="9.74" height="9.39" fill="#ffaa92"/>
<rect x="332.81" y="959.62" width="9.74" height="9.39" fill="#ffaf98"/>
<rect x="341.96" y="959.62" width="9.74" height="9.39" fill="#ffd7cb"/>
<rect x="351.10" y="959.62" width="9.74" height="9.39" fill="#fd5e3e"/>
<rect x="360.24" y="959.62" width="9.74" height="9.39" fill="#f63f23"/>
<rect x="369.39" y="959.62" width="9.74" height="9.39" fill="#f01909"/>
<rect x="378.53" y="959.62" width="9.74" height="9.39" fill="#ee0000"/>
<rect x="387.68" y="959.62" width="9.74" height="9.39" fill="#fc5839"/>
<rect x="396.82" y="959.62" width="9.74" height="9.39" fill="#ff6a4a"/>
<rect x="405.96" y="959.62" width="9.74" height="9.39" fill="#ff6a4a"/>
<rect x="415.11" y="959.62" width="9.74" height="9.39" fill="#ff6a4a"/>
<rect x="424.25" y="959.62" width="9.74" height="9.39" fill="#ff6a4a"/>
<rect x="433.40" y="959.62" width="9.74" height="9.39" fill="#ff7656"/>
<rect x="442.54" y="959.62" width="9.74" height="9.39" fill="#ff7656"/>
<rect x="451.68" y="959.62" width="9.74" height="9.39" fill="#ff7656"/>
<rect x="460.83" y="959.62" width="9.74" height="9.39" fill="#ff7b5c"/>
<rect x="469.97" y="959.62" width="9.74" height="9.39" fill="#ff7b5c"/>
<rect x="479.12" y="959.62" width="9.74" height="9.39" fill="#ff7b5c"/>
<rect x="488.26" y="959.62" width="9.74" height="9.39" fill="#ff8b6e"/>
<rect x="497.40" y="959.62" width="9.74" height="9.39" fill="#ff967a"/>
<rect x="506.55" y="959.62" width="9.14" height="9.39" fill="#ff9b80"/>
<rect x="122.50" y="968.41" width="9.74" height="9.39" fill="#ffbfab"/>
<rect x="131.64" y="968.41" width="9.74" height="9.39" fill="#ffd7cb"/>
<rect x="140.79" y="968.41" width="9.74" height="9.39" fill="#ffcebe"/>
<rect x="149.93" y="968.41" width="9.74" height="9.39" fill="#ffe1d8"/>
<rect x="159.08" y="968.41" width="9.74" height="9.39" fill="#ffaa92"/>
<rect x="168.22" y="968.41" width="9.74" height="9.39" fill="#ffbaa5"/>
<rect x="177.36" y="968.41" width="9.74" height="9.39" fill="#ffe1d8"/>
<rect x="186.51" y="968.41" width="9.74" height="9.39" fill="#ffb59e"/>
<rect x="195.65" y="968.41" width="9.74" height="9.39" fill="#caadfb"/>
<rect x="204.80" y="968.41" width="9.74" height="9.39" fill="#f4edff"/>
<rect x="213.94" y="968.41" width="9.74" height="9.39" fill="#dac4fd"/>
<rect x="223.08" y="968.41" width="9.74" height="9.39" fill="#f1e7fe"/>
<rect x="232.23" y="968.41" width="9.74" height="9.39" fill="#fff5f2"/>
<rect x="241.37" y="968.41" width="9.74" height="9.39" fill="#e9dbfe"/>
<rect x="250.52" y="968.41" width="9.74" height="9.39" fill="#ffaa92"/>
<rect x="259.66" y="968.41" width="9.74" height="9.39" fill="#ffaa92"/>
<rect x="268.80" y="968.41" width="9.74" height="9.39" fill="#ffaf98"/>
<rect x="277.95" y="968.41" width="9.74" height="9.39" fill="#ffaf98"/>
<rect x="287.09" y="968.41" width="9.74" height="9.39" fill="#ff7656"/>
<rect x="296.24" y="968.41" width="9.74" height="9.39" fill="#ff9174"/>
<rect x="305.38" y="968.41" width="9.74" height="9.39" fill="#ffa086"/>
<rect x="314.52" y="968.41" width="9.74" height="9.39" fill="#ff8b6e"/>
<rect x="323.67" y="968.41" width="9.74" height="9.39" fill="#ffaa92"/>
<rect x="332.81" y="968.41" width="9.74" height="9.39" fill="#ffaa92"/>
<rect x="341.96" y="968.41" width="9.74" height="9.39" fill="#ffbaa5"/>
<rect x="351.10" y="968.41" width="9.74" height="9.39" fill="#fd5e3e"/>
<rect x="360.24" y="968.41" width="9.74" height="9.39" fill="#fd5e3e"/>
<rect x="369.39" y="968.41" width="9.74" height="9.39" fill="#fc5839"/>
<rect x="378.53" y="968.41" width="9.74" height="9.39" fill="#fc5839"/>
<rect x="387.68" y="968.41" width="9.74" height="9.39" fill="#ee0000"/>
<rect x="396.82" y="968.41" width="9.74" height="9.39" fill="#fc5839"/>
<rect x="405.96" y="968.41" width="9.74" height="9.39" fill="#fa5133"/>
<rect x="415.11" y="968.41" width="9.74" height="9.39" fill="#fa5133"/>
<rect x="424.25" y="968.41" width="9.74" height="9.39" fill="#fc5839"/>
<rect x="433.40" y="968.41" width="9.74" height="9.39" fill="#ff7050"/>
<rect x="442.54" y="968.41" width="9.74" height="9.39" fill="#fd5e3e"/>
<rect x="451.68" y="968.41" width="9.74" height="9.39" fill="#ff7656"/>
<rect x="460.83" y="968.41" width="9.74" height="9.39" fill="#ff6a4a"/>
<rect x="469.97" y="968.41" width="9.74" height="9.39" fill="#ff6a4a"/>
<rect x="479.12" y="968.41" width="9.74" height="9.39" fill="#ff7b5c"/>
<rect x="488.26" y="968.41" width="9.74" height="9.39" fill="#ff8162"/>
<rect x="497.40" y="968.41" width="9.74" height="9.39" fill="#ff8162"/>
<rect x="506.55" y="968.41" width="9.14" height="9.39" fill="#ff6a4a"/>
<rect x="122.50" y="977.20" width="9.74" height="9.39" fill="#ffd2c4"/>
<rect x="131.64" y="977.20" width="9.74" height="9.39" fill="#ffdcd1"/>
<rect x="140.79" y="977.20" width="9.74" height="9.39" fill="#fff0eb"/>
<rect x="149.93" y="977.20" width="9.74" height="9.39" fill="#ffebe5"/>
<rect x="159.08" y="977.20" width="9.74" height="9.39" fill="#ffaf98"/>
<rect x="168.22" y="977.20" width="9.74" height="9.39" fill="#ffc4b1"/>
<rect x="177.36" y="977.20" width="9.74" height="9.39" fill="#ffe1d8"/>
<rect x="186.51" y="977.20" width="9.74" height="9.39" fill="#ffbaa5"/>
<rect x="195.65" y="977.20" width="9.74" height="9.39" fill="#b996fa"/>
<rect x="204.80" y="977.20" width="9.74" height="9.39" fill="#e6d6fe"/>
<rect x="213.94" y="977.20" width="9.74" height="9.39" fill="#caadfb"/>
<rect x="223.08" y="977.20" width="9.74" height="9.39" fill="#e2d0fd"/>
<rect x="232.23" y="977.20" width="9.74" height="9.39" fill="#ffffff"/>
<rect x="241.37" y="977.20" width="9.74" height="9.39" fill="#e6d6fe"/>
<rect x="250.52" y="977.20" width="9.74" height="9.39" fill="#ffbfab"/>
<rect x="259.66" y="977.20" width="9.74" height="9.39" fill="#ffc4b1"/>
<rect x="268.80" y="977.20" width="9.74" height="9.39" fill="#ffd7cb"/>
<rect x="277.95" y="977.20" width="9.74" height="9.39" fill="#ffd7cb"/>
<rect x="287.09" y="977.20" width="9.74" height="9.39" fill="#ff9b80"/>
<rect x="296.24" y="977.20" width="9.74" height="9.39" fill="#ffbaa5"/>
<rect x="305.38" y="977.20" width="9.74" height="9.39" fill="#ffcebe"/>
<rect x="314.52" y="977.20" width="9.74" height="9.39" fill="#ff8668"/>
<rect x="323.67" y="977.20" width="9.74" height="9.39" fill="#ffbfab"/>
<rect x="332.81" y="977.20" width="9.74" height="9.39" fill="#ffbaa5"/>
<rect x="341.96" y="977.20" width="9.74" height="9.39" fill="#ffe6de"/>
<rect x="351.10" y="977.20" width="9.74" height="9.39" fill="#fe6444"/>
<rect x="360.24" y="977.20" width="9.74" height="9.39" fill="#ff6a4a"/>
<rect x="369.39" y="977.20" width="9.74" height="9.39" fill="#ff6a4a"/>
<rect x="378.53" y="977.20" width="9.74" height="9.39" fill="#ff6a4a"/>
<rect x="387.68" y="977.20" width="9.74" height="9.39" fill="#fc5839"/>
<rect x="396.82" y="977.20" width="9.74" height="9.39" fill="#ee0000"/>
<rect x="405.96" y="977.20" width="9.74" height="9.39" fill="#f53b20"/>
<rect x="415.11" y="977.20" width="9.74" height="9.39" fill="#fe6444"/>
<rect x="424.25" y="977.20" width="9.74" height="9.39" fill="#fe6444"/>
<rect x="433.40" y="977.20" width="9.74" height="9.39" fill="#fe6444"/>
<rect x="442.54" y="977.20" width="9.74" height="9.39" fill="#fe6444"/>
<rect x="451.68" y="977.20" width="9.74" height="9.39" fill="#ff7656"/>
<rect x="460.83" y="977.20" width="9.74" height="9.39" fill="#fd5e3e"/>
<rect x="469.97" y="977.20" width="9.74" height="9.39" fill="#ff6a4a"/>
<rect x="479.12" y="977.20" width="9.74" height="9.39" fill="#ff7b5c"/>
<rect x="488.26" y="977.20" width="9.74" height="9.39" fill="#ff8668"/>
<rect x="497.40" y="977.20" width="9.74" height="9.39" fill="#ff8162"/>
<rect x="506.55" y="977.20" width="9.14" height="9.39" fill="#ff8668"/>
<rect x="122.50" y="985.99" width="9.74" height="9.39" fill="#ffd2c4"/>
<rect x="131.64" y="985.99" width="9.74" height="9.39" fill="#ffebe5"/>
<rect x="140.79" y="985.99" width="9.74" height="9.39" fill="#f8f3ff"/>
<rect x="149.93" y="985.99" width="9.74" height="9.39" fill="#ffebe5"/>
<rect x="159.08" y="985.99" width="9.74" height="9.39" fill="#ffb59e"/>
<rect x="168.22" y="985.99" width="9.74" height="9.39" fill="#ffcebe"/>
<rect x="177.36" y="985.99" width="9.74" height="9.39" fill="#fff0eb"/>
<rect x="186.51" y="985.99" width="9.74" height="9.39" fill="#ffc4b1"/>
<rect x="195.65" y="985.99" width="9.74" height="9.39" fill="#c2a1fa"/>
<rect x="204.80" y="985.99" width="9.74" height="9.39" fill="#dac4fd"/>
<rect x="213.94" y="985.99" width="9.74" height="9.39" fill="#caadfb"/>
<rect x="223.08" y="985.99" width="9.74" height="9.39" fill="#e2d0fd"/>
<rect x="232.23" y="985.99" width="9.74" height="9.39" fill="#ffffff"/>
<rect x="241.37" y="985.99" width="9.74" height="9.39" fill="#e2d0fd"/>
<rect x="250.52" y="985.99" width="9.74" height="9.39" fill="#ffbaa5"/>
<rect x="259.66" y="985.99" width="9.74" height="9.39" fill="#ffbfab"/>
<rect x="268.80" y="985.99" width="9.74" height="9.39" fill="#ffd7cb"/>
<rect x="277.95" y="985.99" width="9.74" height="9.39" fill="#ffd7cb"/>
<rect x="287.09" y="985.99" width="9.74" height="9.39" fill="#ff8b6e"/>
<rect x="296.24" y="985.99" width="9.74" height="9.39" fill="#ffaf98"/>
<rect x="305.38" y="985.99" width="9.74" height="9.39" fill="#ffc4b1"/>
<rect x="314.52" y="985.99" width="9.74" height="9.39" fill="#ff9174"/>
<rect x="323.67" y="985.99" width="9.74" height="9.39" fill="#ffb59e"/>
<rect x="332.81" y="985.99" width="9.74" height="9.39" fill="#ffbaa5"/>
<rect x="341.96" y="985.99" width="9.74" height="9.39" fill="#ffd2c4"/>
<rect x="351.10" y="985.99" width="9.74" height="9.39" fill="#fc5839"/>
<rect x="360.24" y="985.99" width="9.74" height="9.39" fill="#ff6a4a"/>
<rect x="369.39" y="985.99" width="9.74" height="9.39" fill="#ff6a4a"/>
<rect x="378.53" y="985.99" width="9.74" height="9.39" fill="#ff6a4a"/>
<rect x="387.68" y="985.99" width="9.74" height="9.39" fill="#fa5133"/>
<rect x="396.82" y="985.99" width="9.74" height="9.39" fill="#f53b20"/>
<rect x="405.96" y="985.99" width="9.74" height="9.39" fill="#ee0000"/>
<rect x="415.11" y="985.99" width="9.74" height="9.39" fill="#fe6444"/>
<rect x="424.25" y="985.99" width="9.74" height="9.39" fill="#ff6a4a"/>
<rect x="433.40" y="985.99" width="9.74" height="9.39" fill="#f74326"/>
<rect x="442.54" y="985.99" width="9.74" height="9.39" fill="#ff6a4a"/>
<rect x="451.68" y="985.99" width="9.74" height="9.39" fill="#ff6a4a"/>
<rect x="460.83" y="985.99" width="9.74" height="9.39" fill="#f74326"/>
<rect x="469.97" y="985.99" width="9.74" height="9.39" fill="#fe6444"/>
<rect x="479.12" y="985.99" width="9.74" height="9.39" fill="#ff8162"/>
<rect x="488.26" y="985.99" width="9.74" height="9.39" fill="#ff8162"/>
<rect x="497.40" y="985.99" width="9.74" height="9.39" fill="#ff7656"/>
<rect x="506.55" y="985.99" width="9.14" height="9.39" fill="#ff8162"/>
<rect x="122.50" y="994.78" width="9.74" height="9.39" fill="#ffc4b1"/>
<rect x="131.64" y="994.78" width="9.74" height="9.39" fill="#ffd7cb"/>
<rect x="140.79" y="994.78" width="9.74" height="9.39" fill="#ffd7cb"/>
<rect x="149.93" y="994.78" width="9.74" height="9.39" fill="#ffebe5"/>
<rect x="159.08" y="994.78" width="9.74" height="9.39" fill="#ffb59e"/>
<rect x="168.22" y="994.78" width="9.74" height="9.39" fill="#ffc9b7"/>
<rect x="177.36" y="994.78" width="9.74" height="9.39" fill="#ffd2c4"/>
<rect x="186.51" y="994.78" width="9.74" height="9.39" fill="#ffb59e"/>
<rect x="195.65" y="994.78" width="9.74" height="9.39" fill="#d2b8fc"/>
<rect x="204.80" y="994.78" width="9.74" height="9.39" fill="#f4edff"/>
<rect x="213.94" y="994.78" width="9.74" height="9.39" fill="#e2d0fd"/>
<rect x="223.08" y="994.78" width="9.74" height="9.39" fill="#f1e7fe"/>
<rect x="232.23" y="994.78" width="9.74" height="9.39" fill="#f8f3ff"/>
<rect x="241.37" y="994.78" width="9.74" height="9.39" fill="#f8f3ff"/>
<rect x="250.52" y="994.78" width="9.74" height="9.39" fill="#ffbfab"/>
<rect x="259.66" y="994.78" width="9.74" height="9.39" fill="#ffcebe"/>
<rect x="268.80" y="994.78" width="9.74" height="9.39" fill="#ffdcd1"/>
<rect x="277.95" y="994.78" width="9.74" height="9.39" fill="#ffdcd1"/>
<rect x="287.09" y="994.78" width="9.74" height="9.39" fill="#ffa58c"/>
<rect x="296.24" y="994.78" width="9.74" height="9.39" fill="#ffc4b1"/>
<rect x="305.38" y="994.78" width="9.74" height="9.39" fill="#ffaa92"/>
<rect x="314.52" y="994.78" width="9.74" height="9.39" fill="#ff9b80"/>
<rect x="323.67" y="994.78" width="9.74" height="9.39" fill="#ffbfab"/>
<rect x="332.81" y="994.78" width="9.74" height="9.39" fill="#ffaf98"/>
<rect x="341.96" y="994.78" width="9.74" height="9.39" fill="#ffcebe"/>
<rect x="351.10" y="994.78" width="9.74" height="9.39" fill="#fe6444"/>
<rect x="360.24" y="994.78" width="9.74" height="9.39" fill="#ff6a4a"/>
<rect x="369.39" y="994.78" width="9.74" height="9.39" fill="#ff6a4a"/>
<rect x="378.53" y="994.78" width="9.74" height="9.39" fill="#ff6a4a"/>
<rect x="387.68" y="994.78" width="9.74" height="9.39" fill="#fa5133"/>
<rect x="396.82" y="994.78" width="9.74" height="9.39" fill="#fe6444"/>
<rect x="405.96" y="994.78" width="9.74" height="9.39" fill="#fe6444"/>
<rect x="415.11" y="994.78" width="9.74" height="9.39" fill="#ee0000"/>
<rect x="424.25" y="994.78" width="9.74" height="9.39" fill="#ff6a4a"/>
<rect x="433.40" y="994.78" width="9.74" height="9.39" fill="#ff7b5c"/>
<rect x="442.54" y="994.78" width="9.74" height="9.39" fill="#ff6a4a"/>
<rect x="451.68" y="994.78" width="9.74" height="9.39" fill="#ff6a4a"/>
<rect x="460.83" y="994.78" width="9.74" height="9.39" fill="#fe6444"/>
<rect x="469.97" y="994.78" width="9.74" height="9.39" fill="#ff7050"/>
<rect x="479.12" y="994.78" width="9.74" height="9.39" fill="#ff7b5c"/>
<rect x="488.26" y="994.78" width="9.74" height="9.39" fill="#ff7b5c"/>
<rect x="497.40" y="994.78" width="9.74" height="9.39" fill="#ff8162"/>
<rect x="506.55" y="994.78" width="9.14" height="9.39" fill="#ff6a4a"/>
<rect x="122.50" y="1003.57" width="9.74" height="9.39" fill="#ffcebe"/>
<rect x="131.64" y="1003.57" width="9.74" height="9.39" fill="#ffdcd1"/>
<rect x="140.79" y="1003.57" width="9.74" height="9.39" fill="#ffebe5"/>
<rect x="149.93" y="1003.57" width="9.74" height="9.39" fill="#fffaf8"/>
<rect x="159.08" y="1003.57" width="9.74" height="9.39" fill="#ffc4b1"/>
<rect x="168.22" y="1003.57" width="9.74" height="9.39" fill="#ffcebe"/>
<rect x="177.36" y="1003.57" width="9.74" height="9.39" fill="#ffe1d8"/>
<rect x="186.51" y="1003.57" width="9.74" height="9.39" fill="#ffc4b1"/>
<rect x="195.65" y="1003.57" width="9.74" height="9.39" fill="#b996fa"/>
<rect x="204.80" y="1003.57" width="9.74" height="9.39" fill="#f1e7fe"/>
<rect x="213.94" y="1003.57" width="9.74" height="9.39" fill="#dac4fd"/>
<rect x="223.08" y="1003.57" width="9.74" height="9.39" fill="#e2d0fd"/>
<rect x="232.23" y="1003.57" width="9.74" height="9.39" fill="#ffffff"/>
<rect x="241.37" y="1003.57" width="9.74" height="9.39" fill="#e9dbfe"/>
<rect x="250.52" y="1003.57" width="9.74" height="9.39" fill="#ffc4b1"/>
<rect x="259.66" y="1003.57" width="9.74" height="9.39" fill="#ffc4b1"/>
<rect x="268.80" y="1003.57" width="9.74" height="9.39" fill="#ffe1d8"/>
<rect x="277.95" y="1003.57" width="9.74" height="9.39" fill="#ffdcd1"/>
<rect x="287.09" y="1003.57" width="9.74" height="9.39" fill="#ffa58c"/>
<rect x="296.24" y="1003.57" width="9.74" height="9.39" fill="#ffbaa5"/>
<rect x="305.38" y="1003.57" width="9.74" height="9.39" fill="#ffc4b1"/>
<rect x="314.52" y="1003.57" width="9.74" height="9.39" fill="#ff6a4a"/>
<rect x="323.67" y="1003.57" width="9.74" height="9.39" fill="#ffc9b7"/>
<rect x="332.81" y="1003.57" width="9.74" height="9.39" fill="#ffbaa5"/>
<rect x="341.96" y="1003.57" width="9.74" height="9.39" fill="#ffdcd1"/>
<rect x="351.10" y="1003.57" width="9.74" height="9.39" fill="#fe6444"/>
<rect x="360.24" y="1003.57" width="9.74" height="9.39" fill="#ff6a4a"/>
<rect x="369.39" y="1003.57" width="9.74" height="9.39" fill="#ff6a4a"/>
<rect x="378.53" y="1003.57" width="9.74" height="9.39" fill="#ff6a4a"/>
<rect x="387.68" y="1003.57" width="9.74" height="9.39" fill="#fc5839"/>
<rect x="396.82" y="1003.57" width="9.74" height="9.39" fill="#fe6444"/>
<rect x="405.96" y="1003.57" width="9.74" height="9.39" fill="#ff6a4a"/>
<rect x="415.11" y="1003.57" width="9.74" height="9.39" fill="#ff6a4a"/>
<rect x="424.25" y="1003.57" width="9.74" height="9.39" fill="#ee0000"/>
<rect x="433.40" y="1003.57" width="9.74" height="9.39" fill="#ff7656"/>
<rect x="442.54" y="1003.57" width="9.74" height="9.39" fill="#fd5e3e"/>
<rect x="451.68" y="1003.57" width="9.74" height="9.39" fill="#ff7656"/>
<rect x="460.83" y="1003.57" width="9.74" height="9.39" fill="#ff7050"/>
<rect x="469.97" y="1003.57" width="9.74" height="9.39" fill="#ff7656"/>
<rect x="479.12" y="1003.57" width="9.74" height="9.39" fill="#ff7050"/>
<rect x="488.26" y="1003.57" width="9.74" height="9.39" fill="#ff7b5c"/>
<rect x="497.40" y="1003.57" width="9.74" height="9.39" fill="#ff9b80"/>
<rect x="506.55" y="1003.57" width="9.14" height="9.39" fill="#ff8162"/>
<rect x="122.50" y="1012.36" width="9.74" height="9.39" fill="#ffffff"/>
<rect x="131.64" y="1012.36" width="9.74" height="9.39" fill="#e9dbfe"/>
<rect x="140.79" y="1012.36" width="9.74" height="9.39" fill="#e9dbfe"/>
<rect x="149.93" y="1012.36" width="9.74" height="9.39" fill="#f8f3ff"/>
<rect x="159.08" y="1012.36" width="9.74" height="9.39" fill="#fff5f2"/>
<rect x="168.22" y="1012.36" width="9.74" height="9.39" fill="#f4edff"/>
<rect x="177.36" y="1012.36" width="9.74" height="9.39" fill="#ede1fe"/>
<rect x="186.51" y="1012.36" width="9.74" height="9.39" fill="#fff5f2"/>
<rect x="195.65" y="1012.36" width="9.74" height="9.39" fill="#b996fa"/>
<rect x="204.80" y="1012.36" width="9.74" height="9.39" fill="#c2a1fa"/>
<rect x="213.94" y="1012.36" width="9.74" height="9.39" fill="#caadfb"/>
<rect x="223.08" y="1012.36" width="9.74" height="9.39" fill="#ceb3fc"/>
<rect x="232.23" y="1012.36" width="9.74" height="9.39" fill="#f1e7fe"/>
<rect x="241.37" y="1012.36" width="9.74" height="9.39" fill="#d2b8fc"/>
<rect x="250.52" y="1012.36" width="9.74" height="9.39" fill="#ffdcd1"/>
<rect x="259.66" y="1012.36" width="9.74" height="9.39" fill="#ffebe5"/>
<rect x="268.80" y="1012.36" width="9.74" height="9.39" fill="#f4edff"/>
<rect x="277.95" y="1012.36" width="9.74" height="9.39" fill="#fcf9ff"/>
<rect x="287.09" y="1012.36" width="9.74" height="9.39" fill="#ff9b80"/>
<rect x="296.24" y="1012.36" width="9.74" height="9.39" fill="#ffdcd1"/>
<rect x="305.38" y="1012.36" width="9.74" height="9.39" fill="#ffbfab"/>
<rect x="314.52" y="1012.36" width="9.74" height="9.39" fill="#ff8668"/>
<rect x="323.67" y="1012.36" width="9.74" height="9.39" fill="#ffcebe"/>
<rect x="332.81" y="1012.36" width="9.74" height="9.39" fill="#ffd2c4"/>
<rect x="341.96" y="1012.36" width="9.74" height="9.39" fill="#ffd7cb"/>
<rect x="351.10" y="1012.36" width="9.74" height="9.39" fill="#fe6444"/>
<rect x="360.24" y="1012.36" width="9.74" height="9.39" fill="#ff7656"/>
<rect x="369.39" y="1012.36" width="9.74" height="9.39" fill="#ff7656"/>
<rect x="378.53" y="1012.36" width="9.74" height="9.39" fill="#ff7656"/>
<rect x="387.68" y="1012.36" width="9.74" height="9.39" fill="#ff7050"/>
<rect x="396.82" y="1012.36" width="9.74" height="9.39" fill="#fe6444"/>
<rect x="405.96" y="1012.36" width="9.74" height="9.39" fill="#f74326"/>
<rect x="415.11" y="1012.36" width="9.74" height="9.39" fill="#ff7b5c"/>
<rect x="424.25" y="1012.36" width="9.74" height="9.39" fill="#ff7656"/>
<rect x="433.40" y="1012.36" width="9.74" height="9.39" fill="#ee0000"/>
<rect x="442.54" y="1012.36" width="9.74" height="9.39" fill="#ff6a4a"/>
<rect x="451.68" y="1012.36" width="9.74" height="9.39" fill="#ff6a4a"/>
<rect x="460.83" y="1012.36" width="9.74" height="9.39" fill="#ff6a4a"/>
<rect x="469.97" y="1012.36" width="9.74" height="9.39" fill="#ff7050"/>
<rect x="479.12" y="1012.36" width="9.74" height="9.39" fill="#ff8b6e"/>
<rect x="488.26" y="1012.36" width="9.74" height="9.39" fill="#ff8162"/>
<rect x="497.40" y="1012.36" width="9.74" height="9.39" fill="#ff8668"/>
<rect x="506.55" y="1012.36" width="9.14" height="9.39" fill="#ff8b6e"/>
<rect x="122.50" y="1021.15" width="9.74" height="9.39" fill="#ffcebe"/>
<rect x="131.64" y="1021.15" width="9.74" height="9.39" fill="#ffd2c4"/>
<rect x="140.79" y="1021.15" width="9.74" height="9.39" fill="#ffcebe"/>
<rect x="149.93" y="1021.15" width="9.74" height="9.39" fill="#ffe6de"/>
<rect x="159.08" y="1021.15" width="9.74" height="9.39" fill="#ffb59e"/>
<rect x="168.22" y="1021.15" width="9.74" height="9.39" fill="#ffc4b1"/>
<rect x="177.36" y="1021.15" width="9.74" height="9.39" fill="#ffcebe"/>
<rect x="186.51" y="1021.15" width="9.74" height="9.39" fill="#ffaa92"/>
<rect x="195.65" y="1021.15" width="9.74" height="9.39" fill="#caadfb"/>
<rect x="204.80" y="1021.15" width="9.74" height="9.39" fill="#f8f3ff"/>
<rect x="213.94" y="1021.15" width="9.74" height="9.39" fill="#f4edff"/>
<rect x="223.08" y="1021.15" width="9.74" height="9.39" fill="#f4edff"/>
<rect x="232.23" y="1021.15" width="9.74" height="9.39" fill="#ffebe5"/>
<rect x="241.37" y="1021.15" width="9.74" height="9.39" fill="#fff0eb"/>
<rect x="250.52" y="1021.15" width="9.74" height="9.39" fill="#ffcebe"/>
<rect x="259.66" y="1021.15" width="9.74" height="9.39" fill="#ffdcd1"/>
<rect x="268.80" y="1021.15" width="9.74" height="9.39" fill="#fff0eb"/>
<rect x="277.95" y="1021.15" width="9.74" height="9.39" fill="#ffebe5"/>
<rect x="287.09" y="1021.15" width="9.74" height="9.39" fill="#ffaf98"/>
<rect x="296.24" y="1021.15" width="9.74" height="9.39" fill="#ffd7cb"/>
<rect x="305.38" y="1021.15" width="9.74" height="9.39" fill="#ff8162"/>
<rect x="314.52" y="1021.15" width="9.74" height="9.39" fill="#ff6a4a"/>
<rect x="323.67" y="1021.15" width="9.74" height="9.39" fill="#ffbaa5"/>
<rect x="332.81" y="1021.15" width="9.74" height="9.39" fill="#ffa086"/>
<rect x="341.96" y="1021.15" width="9.74" height="9.39" fill="#ffbaa5"/>
<rect x="351.10" y="1021.15" width="9.74" height="9.39" fill="#ff7b5c"/>
<rect x="360.24" y="1021.15" width="9.74" height="9.39" fill="#ff7656"/>
<rect x="369.39" y="1021.15" width="9.74" height="9.39" fill="#ff7656"/>
<rect x="378.53" y="1021.15" width="9.74" height="9.39" fill="#ff7656"/>
<rect x="387.68" y="1021.15" width="9.74" height="9.39" fill="#fd5e3e"/>
<rect x="396.82" y="1021.15" width="9.74" height="9.39" fill="#fe6444"/>
<rect x="405.96" y="1021.15" width="9.74" height="9.39" fill="#ff6a4a"/>
<rect x="415.11" y="1021.15" width="9.74" height="9.39" fill="#ff6a4a"/>
<rect x="424.25" y="1021.15" width="9.74" height="9.39" fill="#fd5e3e"/>
<rect x="433.40" y="1021.15" width="9.74" height="9.39" fill="#ff6a4a"/>
<rect x="442.54" y="1021.15" width="9.74" height="9.39" fill="#ee0000"/>
<rect x="451.68" y="1021.15" width="9.74" height="9.39" fill="#ff7050"/>
<rect x="460.83" y="1021.15" width="9.74" height="9.39" fill="#ff7050"/>
<rect x="469.97" y="1021.15" width="9.74" height="9.39" fill="#ff7050"/>
<rect x="479.12" y="1021.15" width="9.74" height="9.39" fill="#ff8b6e"/>
<rect x="488.26" y="1021.15" width="9.74" height="9.39" fill="#ff9b80"/>
<rect x="497.40" y="1021.15" width="9.74" height="9.39" fill="#ff8162"/>
<rect x="506.55" y="1021.15" width="9.14" height="9.39" fill="#ff7656"/>
<rect x="122.50" y="1029.94" width="9.74" height="9.39" fill="#ffcebe"/>
<rect x="131.64" y="1029.94" width="9.74" height="9.39" fill="#ffe6de"/>
<rect x="140.79" y="1029.94" width="9.74" height="9.39" fill="#ffc4b1"/>
<rect x="149.93" y="1029.94" width="9.74" height="9.39" fill="#ffdcd1"/>
<rect x="159.08" y="1029.94" width="9.74" height="9.39" fill="#ffbfab"/>
<rect x="168.22" y="1029.94" width="9.74" height="9.39" fill="#ffc9b7"/>
<rect x="177.36" y="1029.94" width="9.74" height="9.39" fill="#ffe6de"/>
<rect x="186.51" y="1029.94" width="9.74" height="9.39" fill="#ffbaa5"/>
<rect x="195.65" y="1029.94" width="9.74" height="9.39" fill="#caadfb"/>
<rect x="204.80" y="1029.94" width="9.74" height="9.39" fill="#e9dbfe"/>
<rect x="213.94" y="1029.94" width="9.74" height="9.39" fill="#dac4fd"/>
<rect x="223.08" y="1029.94" width="9.74" height="9.39" fill="#f4edff"/>
<rect x="232.23" y="1029.94" width="9.74" height="9.39" fill="#f8f3ff"/>
<rect x="241.37" y="1029.94" width="9.74" height="9.39" fill="#e9dbfe"/>
<rect x="250.52" y="1029.94" width="9.74" height="9.39" fill="#ffcebe"/>
<rect x="259.66" y="1029.94" width="9.74" height="9.39" fill="#ffd7cb"/>
<rect x="268.80" y="1029.94" width="9.74" height="9.39" fill="#ffdcd1"/>
<rect x="277.95" y="1029.94" width="9.74" height="9.39" fill="#ffdcd1"/>
<rect x="287.09" y="1029.94" width="9.74" height="9.39" fill="#ffc4b1"/>
<rect x="296.24" y="1029.94" width="9.74" height="9.39" fill="#ffcebe"/>
<rect x="305.38" y="1029.94" width="9.74" height="9.39" fill="#ffaa92"/>
<rect x="314.52" y="1029.94" width="9.74" height="9.39" fill="#ffb59e"/>
<rect x="323.67" y="1029.94" width="9.74" height="9.39" fill="#ffbaa5"/>
<rect x="332.81" y="1029.94" width="9.74" height="9.39" fill="#ffa086"/>
<rect x="341.96" y="1029.94" width="9.74" height="9.39" fill="#ffa086"/>
<rect x="351.10" y="1029.94" width="9.74" height="9.39" fill="#fe6444"/>
<rect x="360.24" y="1029.94" width="9.74" height="9.39" fill="#ff7050"/>
<rect x="369.39" y="1029.94" width="9.74" height="9.39" fill="#ff7656"/>
<rect x="378.53" y="1029.94" width="9.74" height="9.39" fill="#ff7656"/>
<rect x="387.68" y="1029.94" width="9.74" height="9.39" fill="#ff7656"/>
<rect x="396.82" y="1029.94" width="9.74" height="9.39" fill="#ff7656"/>
<rect x="405.96" y="1029.94" width="9.74" height="9.39" fill="#ff6a4a"/>
<rect x="415.11" y="1029.94" width="9.74" height="9.39" fill="#ff6a4a"/>
<rect x="424.25" y="1029.94" width="9.74" height="9.39" fill="#ff7656"/>
<rect x="433.40" y="1029.94" width="9.74" height="9.39" fill="#ff6a4a"/>
<rect x="442.54" y="1029.94" width="9.74" height="9.39" fill="#ff7050"/>
<rect x="451.68" y="1029.94" width="9.74" height="9.39" fill="#ee0000"/>
<rect x="460.83" y="1029.94" width="9.74" height="9.39" fill="#ff6a4a"/>
<rect x="469.97" y="1029.94" width="9.74" height="9.39" fill="#ff7050"/>
<rect x="479.12" y="1029.94" width="9.74" height="9.39" fill="#ff8668"/>
<rect x="488.26" y="1029.94" width="9.74" height="9.39" fill="#ff8668"/>
<rect x="497.40" y="1029.94" width="9.74" height="9.39" fill="#ff8162"/>
<rect x="506.55" y="1029.94" width="9.14" height="9.39" fill="#ff8b6e"/>
<rect x="122.50" y="1038.73" width="9.74" height="9.39" fill="#ffc9b7"/>
<rect x="131.64" y="1038.73" width="9.74" height="9.39" fill="#ffe1d8"/>
<rect x="140.79" y="1038.73" width="9.74" height="9.39" fill="#ffebe5"/>
<rect x="149.93" y="1038.73" width="9.74" height="9.39" fill="#ffd7cb"/>
<rect x="159.08" y="1038.73" width="9.74" height="9.39" fill="#ffa086"/>
<rect x="168.22" y="1038.73" width="9.74" height="9.39" fill="#ffb59e"/>
<rect x="177.36" y="1038.73" width="9.74" height="9.39" fill="#ffcebe"/>
<rect x="186.51" y="1038.73" width="9.74" height="9.39" fill="#ffaf98"/>
<rect x="195.65" y="1038.73" width="9.74" height="9.39" fill="#c6a7fb"/>
<rect x="204.80" y="1038.73" width="9.74" height="9.39" fill="#e6d6fe"/>
<rect x="213.94" y="1038.73" width="9.74" height="9.39" fill="#caadfb"/>
<rect x="223.08" y="1038.73" width="9.74" height="9.39" fill="#e9dbfe"/>
<rect x="232.23" y="1038.73" width="9.74" height="9.39" fill="#fff0eb"/>
<rect x="241.37" y="1038.73" width="9.74" height="9.39" fill="#f1e7fe"/>
<rect x="250.52" y="1038.73" width="9.74" height="9.39" fill="#ffb59e"/>
<rect x="259.66" y="1038.73" width="9.74" height="9.39" fill="#ffe1d8"/>
<rect x="268.80" y="1038.73" width="9.74" height="9.39" fill="#ffe1d8"/>
<rect x="277.95" y="1038.73" width="9.74" height="9.39" fill="#ffe1d8"/>
<rect x="287.09" y="1038.73" width="9.74" height="9.39" fill="#ffb59e"/>
<rect x="296.24" y="1038.73" width="9.74" height="9.39" fill="#ffc4b1"/>
<rect x="305.38" y="1038.73" width="9.74" height="9.39" fill="#ffaf98"/>
<rect x="314.52" y="1038.73" width="9.74" height="9.39" fill="#ffb59e"/>
<rect x="323.67" y="1038.73" width="9.74" height="9.39" fill="#ffaa92"/>
<rect x="332.81" y="1038.73" width="9.74" height="9.39" fill="#ffbfab"/>
<rect x="341.96" y="1038.73" width="9.74" height="9.39" fill="#ffcebe"/>
<rect x="351.10" y="1038.73" width="9.74" height="9.39" fill="#fd5e3e"/>
<rect x="360.24" y="1038.73" width="9.74" height="9.39" fill="#ff7656"/>
<rect x="369.39" y="1038.73" width="9.74" height="9.39" fill="#ff7b5c"/>
<rect x="378.53" y="1038.73" width="9.74" height="9.39" fill="#ff7b5c"/>
<rect x="387.68" y="1038.73" width="9.74" height="9.39" fill="#ff6a4a"/>
<rect x="396.82" y="1038.73" width="9.74" height="9.39" fill="#fd5e3e"/>
<rect x="405.96" y="1038.73" width="9.74" height="9.39" fill="#f74326"/>
<rect x="415.11" y="1038.73" width="9.74" height="9.39" fill="#fe6444"/>
<rect x="424.25" y="1038.73" width="9.74" height="9.39" fill="#ff7050"/>
<rect x="433.40" y="1038.73" width="9.74" height="9.39" fill="#ff6a4a"/>
<rect x="442.54" y="1038.73" width="9.74" height="9.39" fill="#ff7050"/>
<rect x="451.68" y="1038.73" width="9.74" height="9.39" fill="#ff6a4a"/>
<rect x="460.83" y="1038.73" width="9.74" height="9.39" fill="#ee0000"/>
<rect x="469.97" y="1038.73" width="9.74" height="9.39" fill="#fa5133"/>
<rect x="479.12" y="1038.73" width="9.74" height="9.39" fill="#ff8668"/>
<rect x="488.26" y="1038.73" width="9.74" height="9.39" fill="#ff8668"/>
<rect x="497.40" y="1038.73" width="9.74" height="9.39" fill="#ff7050"/>
<rect x="506.55" y="1038.73" width="9.14" height="9.39" fill="#ff7050"/>
<rect x="122.50" y="1047.52" width="9.74" height="9.39" fill="#ffc9b7"/>
<rect x="131.64" y="1047.52" width="9.74" height="9.39" fill="#ffe1d8"/>
<rect x="140.79" y="1047.52" width="9.74" height="9.39" fill="#ffc9b7"/>
<rect x="149.93" y="1047.52" width="9.74" height="9.39" fill="#ffd2c4"/>
<rect x="159.08" y="1047.52" width="9.74" height="9.39" fill="#ffa086"/>
<rect x="168.22" y="1047.52" width="9.74" height="9.39" fill="#ffb59e"/>
<rect x="177.36" y="1047.52" width="9.74" height="9.39" fill="#ffd2c4"/>
<rect x="186.51" y="1047.52" width="9.74" height="9.39" fill="#ffaf98"/>
<rect x="195.65" y="1047.52" width="9.74" height="9.39" fill="#ceb3fc"/>
<rect x="204.80" y="1047.52" width="9.74" height="9.39" fill="#f1e7fe"/>
<rect x="213.94" y="1047.52" width="9.74" height="9.39" fill="#decafd"/>
<rect x="223.08" y="1047.52" width="9.74" height="9.39" fill="#ffffff"/>
<rect x="232.23" y="1047.52" width="9.74" height="9.39" fill="#fff5f2"/>
<rect x="241.37" y="1047.52" width="9.74" height="9.39" fill="#f1e7fe"/>
<rect x="250.52" y="1047.52" width="9.74" height="9.39" fill="#ffc4b1"/>
<rect x="259.66" y="1047.52" width="9.74" height="9.39" fill="#ffe1d8"/>
<rect x="268.80" y="1047.52" width="9.74" height="9.39" fill="#ffe1d8"/>
<rect x="277.95" y="1047.52" width="9.74" height="9.39" fill="#ffe6de"/>
<rect x="287.09" y="1047.52" width="9.74" height="9.39" fill="#ffc4b1"/>
<rect x="296.24" y="1047.52" width="9.74" height="9.39" fill="#ffcebe"/>
<rect x="305.38" y="1047.52" width="9.74" height="9.39" fill="#ffb59e"/>
<rect x="314.52" y="1047.52" width="9.74" height="9.39" fill="#ffc4b1"/>
<rect x="323.67" y="1047.52" width="9.74" height="9.39" fill="#ffaf98"/>
<rect x="332.81" y="1047.52" width="9.74" height="9.39" fill="#ffaf98"/>
<rect x="341.96" y="1047.52" width="9.74" height="9.39" fill="#ffc9b7"/>
<rect x="351.10" y="1047.52" width="9.74" height="9.39" fill="#fd5e3e"/>
<rect x="360.24" y="1047.52" width="9.74" height="9.39" fill="#ff7656"/>
<rect x="369.39" y="1047.52" width="9.74" height="9.39" fill="#ff7b5c"/>
<rect x="378.53" y="1047.52" width="9.74" height="9.39" fill="#ff7b5c"/>
<rect x="387.68" y="1047.52" width="9.74" height="9.39" fill="#ff6a4a"/>
<rect x="396.82" y="1047.52" width="9.74" height="9.39" fill="#ff6a4a"/>
<rect x="405.96" y="1047.52" width="9.74" height="9.39" fill="#fe6444"/>
<rect x="415.11" y="1047.52" width="9.74" height="9.39" fill="#ff7050"/>
<rect x="424.25" y="1047.52" width="9.74" height="9.39" fill="#ff7656"/>
<rect x="433.40" y="1047.52" width="9.74" height="9.39" fill="#ff7050"/>
<rect x="442.54" y="1047.52" width="9.74" height="9.39" fill="#ff7050"/>
<rect x="451.68" y="1047.52" width="9.74" height="9.39" fill="#ff7050"/>
<rect x="460.83" y="1047.52" width="9.74" height="9.39" fill="#fa5133"/>
<rect x="469.97" y="1047.52" width="9.74" height="9.39" fill="#ee0000"/>
<rect x="479.12" y="1047.52" width="9.74" height="9.39" fill="#ff8b6e"/>
<rect x="488.26" y="1047.52" width="9.74" height="9.39" fill="#ff8b6e"/>
<rect x="497.40" y="1047.52" width="9.74" height="9.39" fill="#ff7050"/>
<rect x="506.55" y="1047.52" width="9.14" height="9.39" fill="#ff7b5c"/>
<rect x="122.50" y="1056.31" width="9.74" height="9.39" fill="#ffd2c4"/>
<rect x="131.64" y="1056.31" width="9.74" height="9.39" fill="#ffe6de"/>
<rect x="140.79" y="1056.31" width="9.74" height="9.39" fill="#ffd7cb"/>
<rect x="149.93" y="1056.31" width="9.74" height="9.39" fill="#ffebe5"/>
<rect x="159.08" y="1056.31" width="9.74" height="9.39" fill="#ffd2c4"/>
<rect x="168.22" y="1056.31" width="9.74" height="9.39" fill="#ffd7cb"/>
<rect x="177.36" y="1056.31" width="9.74" height="9.39" fill="#ffe6de"/>
<rect x="186.51" y="1056.31" width="9.74" height="9.39" fill="#ffc4b1"/>
<rect x="195.65" y="1056.31" width="9.74" height="9.39" fill="#caadfb"/>
<rect x="204.80" y="1056.31" width="9.74" height="9.39" fill="#ede1fe"/>
<rect x="213.94" y="1056.31" width="9.74" height="9.39" fill="#dac4fd"/>
<rect x="223.08" y="1056.31" width="9.74" height="9.39" fill="#f8f3ff"/>
<rect x="232.23" y="1056.31" width="9.74" height="9.39" fill="#f4edff"/>
<rect x="241.37" y="1056.31" width="9.74" height="9.39" fill="#e2d0fd"/>
<rect x="250.52" y="1056.31" width="9.74" height="9.39" fill="#ffebe5"/>
<rect x="259.66" y="1056.31" width="9.74" height="9.39" fill="#ffe6de"/>
<rect x="268.80" y="1056.31" width="9.74" height="9.39" fill="#ffebe5"/>
<rect x="277.95" y="1056.31" width="9.74" height="9.39" fill="#ffebe5"/>
<rect x="287.09" y="1056.31" width="9.74" height="9.39" fill="#ffebe5"/>
<rect x="296.24" y="1056.31" width="9.74" height="9.39" fill="#ffebe5"/>
<rect x="305.38" y="1056.31" width="9.74" height="9.39" fill="#ffffff"/>
<rect x="314.52" y="1056.31" width="9.74" height="9.39" fill="#ffc4b1"/>
<rect x="323.67" y="1056.31" width="9.74" height="9.39" fill="#ffe1d8"/>
<rect x="332.81" y="1056.31" width="9.74" height="9.39" fill="#ffd2c4"/>
<rect x="341.96" y="1056.31" width="9.74" height="9.39" fill="#fff0eb"/>
<rect x="351.10" y="1056.31" width="9.74" height="9.39" fill="#ff7656"/>
<rect x="360.24" y="1056.31" width="9.74" height="9.39" fill="#ff7b5c"/>
<rect x="369.39" y="1056.31" width="9.74" height="9.39" fill="#ff7b5c"/>
<rect x="378.53" y="1056.31" width="9.74" height="9.39" fill="#ff7b5c"/>
<rect x="387.68" y="1056.31" width="9.74" height="9.39" fill="#ff7b5c"/>
<rect x="396.82" y="1056.31" width="9.74" height="9.39" fill="#ff7b5c"/>
<rect x="405.96" y="1056.31" width="9.74" height="9.39" fill="#ff8162"/>
<rect x="415.11" y="1056.31" width="9.74" height="9.39" fill="#ff7b5c"/>
<rect x="424.25" y="1056.31" width="9.74" height="9.39" fill="#ff7050"/>
<rect x="433.40" y="1056.31" width="9.74" height="9.39" fill="#ff8b6e"/>
<rect x="442.54" y="1056.31" width="9.74" height="9.39" fill="#ff8b6e"/>
<rect x="451.68" y="1056.31" width="9.74" height="9.39" fill="#ff8668"/>
<rect x="460.83" y="1056.31" width="9.74" height="9.39" fill="#ff8668"/>
<rect x="469.97" y="1056.31" width="9.74" height="9.39" fill="#ff8b6e"/>
<rect x="479.12" y="1056.31" width="9.74" height="9.39" fill="#ee0000"/>
<rect x="488.26" y="1056.31" width="9.74" height="9.39" fill="#ff6a4a"/>
<rect x="497.40" y="1056.31" width="9.74" height="9.39" fill="#ffbaa5"/>
<rect x="506.55" y="1056.31" width="9.14" height="9.39" fill="#ffbfab"/>
<rect x="122.50" y="1065.10" width="9.74" height="9.39" fill="#ffe1d8"/>
<rect x="131.64" y="1065.10" width="9.74" height="9.39" fill="#fcf9ff"/>
<rect x="140.79" y="1065.10" width="9.74" height="9.39" fill="#f8f3ff"/>
<rect x="149.93" y="1065.10" width="9.74" height="9.39" fill="#f8f3ff"/>
<rect x="159.08" y="1065.10" width="9.74" height="9.39" fill="#ffebe5"/>
<rect x="168.22" y="1065.10" width="9.74" height="9.39" fill="#ffffff"/>
<rect x="177.36" y="1065.10" width="9.74" height="9.39" fill="#f1e7fe"/>
<rect x="186.51" y="1065.10" width="9.74" height="9.39" fill="#ffe6de"/>
<rect x="195.65" y="1065.10" width="9.74" height="9.39" fill="#caadfb"/>
<rect x="204.80" y="1065.10" width="9.74" height="9.39" fill="#d2b8fc"/>
<rect x="213.94" y="1065.10" width="9.74" height="9.39" fill="#dac4fd"/>
<rect x="223.08" y="1065.10" width="9.74" height="9.39" fill="#e9dbfe"/>
<rect x="232.23" y="1065.10" width="9.74" height="9.39" fill="#f8f3ff"/>
<rect x="241.37" y="1065.10" width="9.74" height="9.39" fill="#e2d0fd"/>
<rect x="250.52" y="1065.10" width="9.74" height="9.39" fill="#f8f3ff"/>
<rect x="259.66" y="1065.10" width="9.74" height="9.39" fill="#f1e7fe"/>
<rect x="268.80" y="1065.10" width="9.74" height="9.39" fill="#e2d0fd"/>
<rect x="277.95" y="1065.10" width="9.74" height="9.39" fill="#e6d6fe"/>
<rect x="287.09" y="1065.10" width="9.74" height="9.39" fill="#ffebe5"/>
<rect x="296.24" y="1065.10" width="9.74" height="9.39" fill="#f4edff"/>
<rect x="305.38" y="1065.10" width="9.74" height="9.39" fill="#ffebe5"/>
<rect x="314.52" y="1065.10" width="9.74" height="9.39" fill="#ffc4b1"/>
<rect x="323.67" y="1065.10" width="9.74" height="9.39" fill="#fff5f2"/>
<rect x="332.81" y="1065.10" width="9.74" height="9.39" fill="#ffe6de"/>
<rect x="341.96" y="1065.10" width="9.74" height="9.39" fill="#ffebe5"/>
<rect x="351.10" y="1065.10" width="9.74" height="9.39" fill="#ff7b5c"/>
<rect x="360.24" y="1065.10" width="9.74" height="9.39" fill="#ff8b6e"/>
<rect x="369.39" y="1065.10" width="9.74" height="9.39" fill="#ff9174"/>
<rect x="378.53" y="1065.10" width="9.74" height="9.39" fill="#ff8b6e"/>
<rect x="387.68" y="1065.10" width="9.74" height="9.39" fill="#ff8162"/>
<rect x="396.82" y="1065.10" width="9.74" height="9.39" fill="#ff8668"/>
<rect x="405.96" y="1065.10" width="9.74" height="9.39" fill="#ff8162"/>
<rect x="415.11" y="1065.10" width="9.74" height="9.39" fill="#ff7b5c"/>
<rect x="424.25" y="1065.10" width="9.74" height="9.39" fill="#ff7b5c"/>
<rect x="433.40" y="1065.10" width="9.74" height="9.39" fill="#ff8162"/>
<rect x="442.54" y="1065.10" width="9.74" height="9.39" fill="#ff9b80"/>
<rect x="451.68" y="1065.10" width="9.74" height="9.39" fill="#ff8668"/>
<rect x="460.83" y="1065.10" width="9.74" height="9.39" fill="#ff8668"/>
<rect x="469.97" y="1065.10" width="9.74" height="9.39" fill="#ff8b6e"/>
<rect x="479.12" y="1065.10" width="9.74" height="9.39" fill="#ff6a4a"/>
<rect x="488.26" y="1065.10" width="9.74" height="9.39" fill="#ee0000"/>
<rect x="497.40" y="1065.10" width="9.74" height="9.39" fill="#ffb7a2"/>
<rect x="506.55" y="1065.10" width="9.14" height="9.39" fill="#ffb29b"/>
<rect x="122.50" y="1073.89" width="9.74" height="9.39" fill="#ffc4b1"/>
<rect x="131.64" y="1073.89" width="9.74" height="9.39" fill="#ffe6de"/>
<rect x="140.79" y="1073.89" width="9.74" height="9.39" fill="#ffd2c4"/>
<rect x="149.93" y="1073.89" width="9.74" height="9.39" fill="#ffd7cb"/>
<rect x="159.08" y="1073.89" width="9.74" height="9.39" fill="#ff9b80"/>
<rect x="168.22" y="1073.89" width="9.74" height="9.39" fill="#ffb59e"/>
<rect x="177.36" y="1073.89" width="9.74" height="9.39" fill="#ffc4b1"/>
<rect x="186.51" y="1073.89" width="9.74" height="9.39" fill="#ff9b80"/>
<rect x="195.65" y="1073.89" width="9.74" height="9.39" fill="#ede1fe"/>
<rect x="204.80" y="1073.89" width="9.74" height="9.39" fill="#f1e7fe"/>
<rect x="213.94" y="1073.89" width="9.74" height="9.39" fill="#e2d0fd"/>
<rect x="223.08" y="1073.89" width="9.74" height="9.39" fill="#fffaf8"/>
<rect x="232.23" y="1073.89" width="9.74" height="9.39" fill="#ffebe5"/>
<rect x="241.37" y="1073.89" width="9.74" height="9.39" fill="#fffaf8"/>
<rect x="250.52" y="1073.89" width="9.74" height="9.39" fill="#ffe1d8"/>
<rect x="259.66" y="1073.89" width="9.74" height="9.39" fill="#fcf9ff"/>
<rect x="268.80" y="1073.89" width="9.74" height="9.39" fill="#fff5f2"/>
<rect x="277.95" y="1073.89" width="9.74" height="9.39" fill="#fcf9ff"/>
<rect x="287.09" y="1073.89" width="9.74" height="9.39" fill="#ffd2c4"/>
<rect x="296.24" y="1073.89" width="9.74" height="9.39" fill="#fff0eb"/>
<rect x="305.38" y="1073.89" width="9.74" height="9.39" fill="#ffa58c"/>
<rect x="314.52" y="1073.89" width="9.74" height="9.39" fill="#ffe6de"/>
<rect x="323.67" y="1073.89" width="9.74" height="9.39" fill="#ffaa92"/>
<rect x="332.81" y="1073.89" width="9.74" height="9.39" fill="#ffbfab"/>
<rect x="341.96" y="1073.89" width="9.74" height="9.39" fill="#ffc4b1"/>
<rect x="351.10" y="1073.89" width="9.74" height="9.39" fill="#ff8b6e"/>
<rect x="360.24" y="1073.89" width="9.74" height="9.39" fill="#ff8b6e"/>
<rect x="369.39" y="1073.89" width="9.74" height="9.39" fill="#ff967a"/>
<rect x="378.53" y="1073.89" width="9.74" height="9.39" fill="#ff967a"/>
<rect x="387.68" y="1073.89" width="9.74" height="9.39" fill="#ff8162"/>
<rect x="396.82" y="1073.89" width="9.74" height="9.39" fill="#ff8162"/>
<rect x="405.96" y="1073.89" width="9.74" height="9.39" fill="#ff7656"/>
<rect x="415.11" y="1073.89" width="9.74" height="9.39" fill="#ff8162"/>
<rect x="424.25" y="1073.89" width="9.74" height="9.39" fill="#ff9b80"/>
<rect x="433.40" y="1073.89" width="9.74" height="9.39" fill="#ff8668"/>
<rect x="442.54" y="1073.89" width="9.74" height="9.39" fill="#ff8162"/>
<rect x="451.68" y="1073.89" width="9.74" height="9.39" fill="#ff8162"/>
<rect x="460.83" y="1073.89" width="9.74" height="9.39" fill="#ff7050"/>
<rect x="469.97" y="1073.89" width="9.74" height="9.39" fill="#ff7050"/>
<rect x="479.12" y="1073.89" width="9.74" height="9.39" fill="#ffbaa5"/>
<rect x="488.26" y="1073.89" width="9.74" height="9.39" fill="#ffb7a2"/>
<rect x="497.40" y="1073.89" width="9.74" height="9.39" fill="#ee0000"/>
<rect x="506.55" y="1073.89" width="9.14" height="9.39" fill="#ff7b5c"/>
<rect x="122.50" y="1082.68" width="9.74" height="8.79" fill="#ffcebe"/>
<rect x="131.64" y="1082.68" width="9.74" height="8.79" fill="#ffe6de"/>
<rect x="140.79" y="1082.68" width="9.74" height="8.79" fill="#fff5f2"/>
<rect x="149.93" y="1082.68" width="9.74" height="8.79" fill="#ffebe5"/>
<rect x="159.08" y="1082.68" width="9.74" height="8.79" fill="#ffaf98"/>
<rect x="168.22" y="1082.68" width="9.74" height="8.79" fill="#ffbaa5"/>
<rect x="177.36" y="1082.68" width="9.74" height="8.79" fill="#ffc9b7"/>
<rect x="186.51" y="1082.68" width="9.74" height="8.79" fill="#ffaf98"/>
<rect x="195.65" y="1082.68" width="9.74" height="8.79" fill="#d2b8fc"/>
<rect x="204.80" y="1082.68" width="9.74" height="8.79" fill="#e6d6fe"/>
<rect x="213.94" y="1082.68" width="9.74" height="8.79" fill="#f1e7fe"/>
<rect x="223.08" y="1082.68" width="9.74" height="8.79" fill="#ede1fe"/>
<rect x="232.23" y="1082.68" width="9.74" height="8.79" fill="#ffe1d8"/>
<rect x="241.37" y="1082.68" width="9.74" height="8.79" fill="#ffebe5"/>
<rect x="250.52" y="1082.68" width="9.74" height="8.79" fill="#ffebe5"/>
<rect x="259.66" y="1082.68" width="9.74" height="8.79" fill="#e2d0fd"/>
<rect x="268.80" y="1082.68" width="9.74" height="8.79" fill="#e2d0fd"/>
<rect x="277.95" y="1082.68" width="9.74" height="8.79" fill="#dac4fd"/>
<rect x="287.09" y="1082.68" width="9.74" height="8.79" fill="#ffc4b1"/>
<rect x="296.24" y="1082.68" width="9.74" height="8.79" fill="#f8f3ff"/>
<rect x="305.38" y="1082.68" width="9.74" height="8.79" fill="#ff8b6e"/>
<rect x="314.52" y="1082.68" width="9.74" height="8.79" fill="#ffaa92"/>
<rect x="323.67" y="1082.68" width="9.74" height="8.79" fill="#ffd7cb"/>
<rect x="332.81" y="1082.68" width="9.74" height="8.79" fill="#ffd7cb"/>
<rect x="341.96" y="1082.68" width="9.74" height="8.79" fill="#ffd2c4"/>
<rect x="351.10" y="1082.68" width="9.74" height="8.79" fill="#ff9174"/>
<rect x="360.24" y="1082.68" width="9.74" height="8.79" fill="#ff967a"/>
<rect x="369.39" y="1082.68" width="9.74" height="8.79" fill="#ff9b80"/>
<rect x="378.53" y="1082.68" width="9.74" height="8.79" fill="#ff9b80"/>
<rect x="387.68" y="1082.68" width="9.74" height="8.79" fill="#ff6a4a"/>
<rect x="396.82" y="1082.68" width="9.74" height="8.79" fill="#ff8668"/>
<rect x="405.96" y="1082.68" width="9.74" height="8.79" fill="#ff8162"/>
<rect x="415.11" y="1082.68" width="9.74" height="8.79" fill="#ff6a4a"/>
<rect x="424.25" y="1082.68" width="9.74" height="8.79" fill="#ff8162"/>
<rect x="433.40" y="1082.68" width="9.74" height="8.79" fill="#ff8b6e"/>
<rect x="442.54" y="1082.68" width="9.74" height="8.79" fill="#ff7656"/>
<rect x="451.68" y="1082.68" width="9.74" height="8.79" fill="#ff8b6e"/>
<rect x="460.83" y="1082.68" width="9.74" height="8.79" fill="#ff7050"/>
<rect x="469.97" y="1082.68" width="9.74" height="8.79" fill="#ff7b5c"/>
<rect x="479.12" y="1082.68" width="9.74" height="8.79" fill="#ffbfab"/>
<rect x="488.26" y="1082.68" width="9.74" height="8.79" fill="#ffb29b"/>
<rect x="497.40" y="1082.68" width="9.74" height="8.79" fill="#ff7b5c"/>
<rect x="506.55" y="1082.68" width="9.14" height="8.79" fill="#ee0000"/>
</g>
<rect x="122.5" y="713.5" width="393.19" height="377.97" fill="none" stroke="#333" stroke-width="0.8"/>
<text transform="translate(115.90,720.69) scale(1,1.045)" font-size="7.9" text-anchor="end" fill="#1a1a1a">GSE81547</text>
<line x1="119.5" y1="717.50" x2="122.5" y2="717.50" stroke="#222" stroke-width="1"/>
<text transform="translate(115.90,729.48) scale(1,1.045)" font-size="7.9" text-anchor="end" fill="#1a1a1a">GSE84133_hs</text>
<line x1="119.5" y1="726.50" x2="122.5" y2="726.50" stroke="#222" stroke-width="1"/>
<text transform="translate(115.90,738.27) scale(1,1.045)" font-size="7.9" text-anchor="end" fill="#1a1a1a">GSE100597</text>
<line x1="119.5" y1="735.50" x2="122.5" y2="735.50" stroke="#222" stroke-width="1"/>
<text transform="translate(115.90,747.06) scale(1,1.045)" font-size="7.9" text-anchor="end" fill="#1a1a1a">GSE67602 (Linnarsson)</text>
<line x1="119.5" y1="744.50" x2="122.5" y2="744.50" stroke="#222" stroke-width="1"/>
<text transform="translate(115.90,755.85) scale(1,1.045)" font-size="7.9" text-anchor="end" fill="#1a1a1a">GSE98816</text>
<line x1="119.5" y1="753.50" x2="122.5" y2="753.50" stroke="#222" stroke-width="1"/>
<text transform="translate(115.90,764.64) scale(1,1.045)" font-size="7.9" text-anchor="end" fill="#1a1a1a">GSE99235</text>
<line x1="119.5" y1="761.50" x2="122.5" y2="761.50" stroke="#222" stroke-width="1"/>
<text transform="translate(115.90,773.43) scale(1,1.045)" font-size="7.9" text-anchor="end" fill="#1a1a1a">TabulaMuris_droplet</text>
<line x1="119.5" y1="770.50" x2="122.5" y2="770.50" stroke="#222" stroke-width="1"/>
<text transform="translate(115.90,782.22) scale(1,1.045)" font-size="7.9" text-anchor="end" fill="#1a1a1a">TabulaMuris_FACS</text>
<line x1="119.5" y1="779.50" x2="122.5" y2="779.50" stroke="#222" stroke-width="1"/>
<text transform="translate(115.90,791.01) scale(1,1.045)" font-size="7.9" text-anchor="end" fill="#1a1a1a">GSE89232</text>
<line x1="119.5" y1="788.50" x2="122.5" y2="788.50" stroke="#222" stroke-width="1"/>
<text transform="translate(115.90,799.80) scale(1,1.045)" font-size="7.9" text-anchor="end" fill="#1a1a1a">PBMC_10x_68k</text>
<line x1="119.5" y1="797.50" x2="122.5" y2="797.50" stroke="#222" stroke-width="1"/>
<text transform="translate(115.90,808.59) scale(1,1.045)" font-size="7.9" text-anchor="end" fill="#1a1a1a">GSE92332 (droplet)</text>
<line x1="119.5" y1="805.50" x2="122.5" y2="805.50" stroke="#222" stroke-width="1"/>
<text transform="translate(115.90,817.38) scale(1,1.045)" font-size="7.9" text-anchor="end" fill="#1a1a1a">GSE92332 (SMARTSeq)</text>
<line x1="119.5" y1="814.50" x2="122.5" y2="814.50" stroke="#222" stroke-width="1"/>
<text transform="translate(115.90,826.17) scale(1,1.045)" font-size="7.9" text-anchor="end" fill="#1a1a1a">GSE84133_mm</text>
<line x1="119.5" y1="823.50" x2="122.5" y2="823.50" stroke="#222" stroke-width="1"/>
<text transform="translate(115.90,834.96) scale(1,1.045)" font-size="7.9" text-anchor="end" fill="#1a1a1a">MouseCellAtlas</text>
<line x1="119.5" y1="832.50" x2="122.5" y2="832.50" stroke="#222" stroke-width="1"/>
<text transform="translate(115.90,843.75) scale(1,1.045)" font-size="7.9" text-anchor="end" fill="#1a1a1a">DroNc_hs</text>
<line x1="119.5" y1="840.50" x2="122.5" y2="840.50" stroke="#222" stroke-width="1"/>
<text transform="translate(115.90,852.54) scale(1,1.045)" font-size="7.9" text-anchor="end" fill="#1a1a1a">GSE101601_hs (Linnarsson)</text>
<line x1="119.5" y1="849.50" x2="122.5" y2="849.50" stroke="#222" stroke-width="1"/>
<text transform="translate(115.90,861.33) scale(1,1.045)" font-size="7.9" text-anchor="end" fill="#1a1a1a">Allen_hs_LGN</text>
<line x1="119.5" y1="858.50" x2="122.5" y2="858.50" stroke="#222" stroke-width="1"/>
<text transform="translate(115.90,870.12) scale(1,1.045)" font-size="7.9" text-anchor="end" fill="#1a1a1a">Allen_hs_MTG</text>
<line x1="119.5" y1="867.50" x2="122.5" y2="867.50" stroke="#222" stroke-width="1"/>
<text transform="translate(115.90,878.91) scale(1,1.045)" font-size="7.9" text-anchor="end" fill="#1a1a1a">DroNc_mm</text>
<line x1="119.5" y1="876.50" x2="122.5" y2="876.50" stroke="#222" stroke-width="1"/>
<text transform="translate(115.90,887.70) scale(1,1.045)" font-size="7.9" text-anchor="end" fill="#1a1a1a">GSE106678</text>
<line x1="119.5" y1="884.50" x2="122.5" y2="884.50" stroke="#222" stroke-width="1"/>
<text transform="translate(115.90,896.49) scale(1,1.045)" font-size="7.9" text-anchor="end" fill="#1a1a1a">GSE89164</text>
<line x1="119.5" y1="893.50" x2="122.5" y2="893.50" stroke="#222" stroke-width="1"/>
<text transform="translate(115.90,905.28) scale(1,1.045)" font-size="7.9" text-anchor="end" fill="#1a1a1a">GSE95315 (Linnarsson)</text>
<line x1="119.5" y1="902.50" x2="122.5" y2="902.50" stroke="#222" stroke-width="1"/>
<text transform="translate(115.90,914.07) scale(1,1.045)" font-size="7.9" text-anchor="end" fill="#1a1a1a">GSE67835</text>
<line x1="119.5" y1="911.50" x2="122.5" y2="911.50" stroke="#222" stroke-width="1"/>
<text transform="translate(115.90,922.86) scale(1,1.045)" font-size="7.9" text-anchor="end" fill="#1a1a1a">GSE104276</text>
<line x1="119.5" y1="920.50" x2="122.5" y2="920.50" stroke="#222" stroke-width="1"/>
<text transform="translate(115.90,931.65) scale(1,1.045)" font-size="7.9" text-anchor="end" fill="#1a1a1a">GSE76381_hs (Linnarsson)</text>
<line x1="119.5" y1="928.50" x2="122.5" y2="928.50" stroke="#222" stroke-width="1"/>
<text transform="translate(115.90,940.44) scale(1,1.045)" font-size="7.9" text-anchor="end" fill="#1a1a1a">GSE103840 (Linnarsson)</text>
<line x1="119.5" y1="937.50" x2="122.5" y2="937.50" stroke="#222" stroke-width="1"/>
<text transform="translate(115.90,949.23) scale(1,1.045)" font-size="7.9" text-anchor="end" fill="#1a1a1a">Allen_mm_LGd2</text>
<line x1="119.5" y1="946.50" x2="122.5" y2="946.50" stroke="#222" stroke-width="1"/>
<text transform="translate(115.90,958.02) scale(1,1.045)" font-size="7.9" text-anchor="end" fill="#1a1a1a">Allen_mm_ALM2</text>
<line x1="119.5" y1="955.50" x2="122.5" y2="955.50" stroke="#222" stroke-width="1"/>
<text transform="translate(115.90,966.81) scale(1,1.045)" font-size="7.9" text-anchor="end" fill="#1a1a1a">Allen_mm_VISp2</text>
<line x1="119.5" y1="964.50" x2="122.5" y2="964.50" stroke="#222" stroke-width="1"/>
<text transform="translate(115.90,975.60) scale(1,1.045)" font-size="7.9" text-anchor="end" fill="#1a1a1a">DropViz</text>
<line x1="119.5" y1="972.50" x2="122.5" y2="972.50" stroke="#222" stroke-width="1"/>
<text transform="translate(115.90,984.39) scale(1,1.045)" font-size="7.9" text-anchor="end" fill="#1a1a1a">GSE101601_mm (Linnarsson)</text>
<line x1="119.5" y1="981.50" x2="122.5" y2="981.50" stroke="#222" stroke-width="1"/>
<text transform="translate(115.90,993.18) scale(1,1.045)" font-size="7.9" text-anchor="end" fill="#1a1a1a">GSE60361 (Linnarsson)</text>
<line x1="119.5" y1="990.50" x2="122.5" y2="990.50" stroke="#222" stroke-width="1"/>
<text transform="translate(115.90,1001.97) scale(1,1.045)" font-size="7.9" text-anchor="end" fill="#1a1a1a">GSE87544</text>
<line x1="119.5" y1="999.50" x2="122.5" y2="999.50" stroke="#222" stroke-width="1"/>
<text transform="translate(115.90,1010.76) scale(1,1.045)" font-size="7.9" text-anchor="end" fill="#1a1a1a">MouseBrainAtlas (Linnarsson)</text>
<line x1="119.5" y1="1007.50" x2="122.5" y2="1007.50" stroke="#222" stroke-width="1"/>
<text transform="translate(115.90,1019.55) scale(1,1.045)" font-size="7.9" text-anchor="end" fill="#1a1a1a">GSE95752 (Linnarsson)</text>
<line x1="119.5" y1="1016.50" x2="122.5" y2="1016.50" stroke="#222" stroke-width="1"/>
<text transform="translate(115.90,1028.35) scale(1,1.045)" font-size="7.9" text-anchor="end" fill="#1a1a1a">GSE76381_mm (Linnarsson)</text>
<line x1="119.5" y1="1025.50" x2="122.5" y2="1025.50" stroke="#222" stroke-width="1"/>
<text transform="translate(115.90,1037.13) scale(1,1.045)" font-size="7.9" text-anchor="end" fill="#1a1a1a">GSE104323 (Linnarsson)</text>
<line x1="119.5" y1="1034.50" x2="122.5" y2="1034.50" stroke="#222" stroke-width="1"/>
<text transform="translate(115.90,1045.92) scale(1,1.045)" font-size="7.9" text-anchor="end" fill="#1a1a1a">GSE74672 (Linnarsson)</text>
<line x1="119.5" y1="1043.50" x2="122.5" y2="1043.50" stroke="#222" stroke-width="1"/>
<text transform="translate(115.90,1054.71) scale(1,1.045)" font-size="7.9" text-anchor="end" fill="#1a1a1a">GSE75330 (Linnarsson)</text>
<line x1="119.5" y1="1051.50" x2="122.5" y2="1051.50" stroke="#222" stroke-width="1"/>
<text transform="translate(115.90,1063.50) scale(1,1.045)" font-size="7.9" text-anchor="end" fill="#1a1a1a">GSE59739 (Linnarsson)</text>
<line x1="119.5" y1="1060.50" x2="122.5" y2="1060.50" stroke="#222" stroke-width="1"/>
<text transform="translate(115.90,1072.29) scale(1,1.045)" font-size="7.9" text-anchor="end" fill="#1a1a1a">GSE78845 (Linnarsson)</text>
<line x1="119.5" y1="1069.50" x2="122.5" y2="1069.50" stroke="#222" stroke-width="1"/>
<text transform="translate(115.90,1081.08) scale(1,1.045)" font-size="7.9" text-anchor="end" fill="#1a1a1a">GSE82187</text>
<line x1="119.5" y1="1078.50" x2="122.5" y2="1078.50" stroke="#222" stroke-width="1"/>
<text transform="translate(115.90,1089.88) scale(1,1.045)" font-size="7.9" text-anchor="end" fill="#1a1a1a">GSE93374</text>
<line x1="119.5" y1="1087.50" x2="122.5" y2="1087.50" stroke="#222" stroke-width="1"/>
<line x1="127.50" y1="1091.47" x2="127.50" y2="1094.6" stroke="#222" stroke-width="1"/>
<text transform="translate(129.67,1098.60) rotate(-90) scale(1,1.045)" font-size="7.9" text-anchor="end" fill="#1a1a1a">GSE81547</text>
<line x1="136.50" y1="1091.47" x2="136.50" y2="1094.6" stroke="#222" stroke-width="1"/>
<text transform="translate(138.82,1098.60) rotate(-90) scale(1,1.045)" font-size="7.9" text-anchor="end" fill="#1a1a1a">GSE84133_hs</text>
<line x1="145.50" y1="1091.47" x2="145.50" y2="1094.6" stroke="#222" stroke-width="1"/>
<text transform="translate(147.96,1098.60) rotate(-90) scale(1,1.045)" font-size="7.9" text-anchor="end" fill="#1a1a1a">GSE100597</text>
<line x1="154.50" y1="1091.47" x2="154.50" y2="1094.6" stroke="#222" stroke-width="1"/>
<text transform="translate(157.10,1098.60) rotate(-90) scale(1,1.045)" font-size="7.9" text-anchor="end" fill="#1a1a1a">GSE67602 (Linnarsson)</text>
<line x1="163.50" y1="1091.47" x2="163.50" y2="1094.6" stroke="#222" stroke-width="1"/>
<text transform="translate(166.25,1098.60) rotate(-90) scale(1,1.045)" font-size="7.9" text-anchor="end" fill="#1a1a1a">GSE98816</text>
<line x1="172.50" y1="1091.47" x2="172.50" y2="1094.6" stroke="#222" stroke-width="1"/>
<text transform="translate(175.39,1098.60) rotate(-90) scale(1,1.045)" font-size="7.9" text-anchor="end" fill="#1a1a1a">GSE99235</text>
<line x1="181.50" y1="1091.47" x2="181.50" y2="1094.6" stroke="#222" stroke-width="1"/>
<text transform="translate(184.54,1098.60) rotate(-90) scale(1,1.045)" font-size="7.9" text-anchor="end" fill="#1a1a1a">TabulaMuris_droplet</text>
<line x1="191.50" y1="1091.47" x2="191.50" y2="1094.6" stroke="#222" stroke-width="1"/>
<text transform="translate(193.68,1098.60) rotate(-90) scale(1,1.045)" font-size="7.9" text-anchor="end" fill="#1a1a1a">TabulaMuris_FACS</text>
<line x1="200.50" y1="1091.47" x2="200.50" y2="1094.6" stroke="#222" stroke-width="1"/>
<text transform="translate(202.82,1098.60) rotate(-90) scale(1,1.045)" font-size="7.9" text-anchor="end" fill="#1a1a1a">GSE89232</text>
<line x1="209.50" y1="1091.47" x2="209.50" y2="1094.6" stroke="#222" stroke-width="1"/>
<text transform="translate(211.97,1098.60) rotate(-90) scale(1,1.045)" font-size="7.9" text-anchor="end" fill="#1a1a1a">PBMC_10x_68k</text>
<line x1="218.50" y1="1091.47" x2="218.50" y2="1094.6" stroke="#222" stroke-width="1"/>
<text transform="translate(221.11,1098.60) rotate(-90) scale(1,1.045)" font-size="7.9" text-anchor="end" fill="#1a1a1a">GSE92332 (droplet)</text>
<line x1="227.50" y1="1091.47" x2="227.50" y2="1094.6" stroke="#222" stroke-width="1"/>
<text transform="translate(230.26,1098.60) rotate(-90) scale(1,1.045)" font-size="7.9" text-anchor="end" fill="#1a1a1a">GSE92332 (SMARTSeq)</text>
<line x1="236.50" y1="1091.47" x2="236.50" y2="1094.6" stroke="#222" stroke-width="1"/>
<text transform="translate(239.40,1098.60) rotate(-90) scale(1,1.045)" font-size="7.9" text-anchor="end" fill="#1a1a1a">GSE84133_mm</text>
<line x1="245.50" y1="1091.47" x2="245.50" y2="1094.6" stroke="#222" stroke-width="1"/>
<text transform="translate(248.54,1098.60) rotate(-90) scale(1,1.045)" font-size="7.9" text-anchor="end" fill="#1a1a1a">MouseCellAtlas</text>
<line x1="255.50" y1="1091.47" x2="255.50" y2="1094.6" stroke="#222" stroke-width="1"/>
<text transform="translate(257.69,1098.60) rotate(-90) scale(1,1.045)" font-size="7.9" text-anchor="end" fill="#1a1a1a">DroNc_hs</text>
<line x1="264.50" y1="1091.47" x2="264.50" y2="1094.6" stroke="#222" stroke-width="1"/>
<text transform="translate(266.83,1098.60) rotate(-90) scale(1,1.045)" font-size="7.9" text-anchor="end" fill="#1a1a1a">GSE101601_hs (Linnarsson)</text>
<line x1="273.50" y1="1091.47" x2="273.50" y2="1094.6" stroke="#222" stroke-width="1"/>
<text transform="translate(275.98,1098.60) rotate(-90) scale(1,1.045)" font-size="7.9" text-anchor="end" fill="#1a1a1a">Allen_hs_LGN</text>
<line x1="282.50" y1="1091.47" x2="282.50" y2="1094.6" stroke="#222" stroke-width="1"/>
<text transform="translate(285.12,1098.60) rotate(-90) scale(1,1.045)" font-size="7.9" text-anchor="end" fill="#1a1a1a">Allen_hs_MTG</text>
<line x1="291.50" y1="1091.47" x2="291.50" y2="1094.6" stroke="#222" stroke-width="1"/>
<text transform="translate(294.26,1098.60) rotate(-90) scale(1,1.045)" font-size="7.9" text-anchor="end" fill="#1a1a1a">DroNc_mm</text>
<line x1="300.50" y1="1091.47" x2="300.50" y2="1094.6" stroke="#222" stroke-width="1"/>
<text transform="translate(303.41,1098.60) rotate(-90) scale(1,1.045)" font-size="7.9" text-anchor="end" fill="#1a1a1a">GSE106678</text>
<line x1="309.50" y1="1091.47" x2="309.50" y2="1094.6" stroke="#222" stroke-width="1"/>
<text transform="translate(312.55,1098.60) rotate(-90) scale(1,1.045)" font-size="7.9" text-anchor="end" fill="#1a1a1a">GSE89164</text>
<line x1="319.50" y1="1091.47" x2="319.50" y2="1094.6" stroke="#222" stroke-width="1"/>
<text transform="translate(321.70,1098.60) rotate(-90) scale(1,1.045)" font-size="7.9" text-anchor="end" fill="#1a1a1a">GSE95315 (Linnarsson)</text>
<line x1="328.50" y1="1091.47" x2="328.50" y2="1094.6" stroke="#222" stroke-width="1"/>
<text transform="translate(330.84,1098.60) rotate(-90) scale(1,1.045)" font-size="7.9" text-anchor="end" fill="#1a1a1a">GSE67835</text>
<line x1="337.50" y1="1091.47" x2="337.50" y2="1094.6" stroke="#222" stroke-width="1"/>
<text transform="translate(339.98,1098.60) rotate(-90) scale(1,1.045)" font-size="7.9" text-anchor="end" fill="#1a1a1a">GSE104276</text>
<line x1="346.50" y1="1091.47" x2="346.50" y2="1094.6" stroke="#222" stroke-width="1"/>
<text transform="translate(349.13,1098.60) rotate(-90) scale(1,1.045)" font-size="7.9" text-anchor="end" fill="#1a1a1a">GSE76381_hs (Linnarsson)</text>
<line x1="355.50" y1="1091.47" x2="355.50" y2="1094.6" stroke="#222" stroke-width="1"/>
<text transform="translate(358.27,1098.60) rotate(-90) scale(1,1.045)" font-size="7.9" text-anchor="end" fill="#1a1a1a">GSE103840 (Linnarsson)</text>
<line x1="364.50" y1="1091.47" x2="364.50" y2="1094.6" stroke="#222" stroke-width="1"/>
<text transform="translate(367.42,1098.60) rotate(-90) scale(1,1.045)" font-size="7.9" text-anchor="end" fill="#1a1a1a">Allen_mm_LGd2</text>
<line x1="373.50" y1="1091.47" x2="373.50" y2="1094.6" stroke="#222" stroke-width="1"/>
<text transform="translate(376.56,1098.60) rotate(-90) scale(1,1.045)" font-size="7.9" text-anchor="end" fill="#1a1a1a">Allen_mm_ALM2</text>
<line x1="383.50" y1="1091.47" x2="383.50" y2="1094.6" stroke="#222" stroke-width="1"/>
<text transform="translate(385.70,1098.60) rotate(-90) scale(1,1.045)" font-size="7.9" text-anchor="end" fill="#1a1a1a">Allen_mm_VISp2</text>
<line x1="392.50" y1="1091.47" x2="392.50" y2="1094.6" stroke="#222" stroke-width="1"/>
<text transform="translate(394.85,1098.60) rotate(-90) scale(1,1.045)" font-size="7.9" text-anchor="end" fill="#1a1a1a">DropViz</text>
<line x1="401.50" y1="1091.47" x2="401.50" y2="1094.6" stroke="#222" stroke-width="1"/>
<text transform="translate(403.99,1098.60) rotate(-90) scale(1,1.045)" font-size="7.9" text-anchor="end" fill="#1a1a1a">GSE101601_mm (Linnarsson)</text>
<line x1="410.50" y1="1091.47" x2="410.50" y2="1094.6" stroke="#222" stroke-width="1"/>
<text transform="translate(413.14,1098.60) rotate(-90) scale(1,1.045)" font-size="7.9" text-anchor="end" fill="#1a1a1a">GSE60361 (Linnarsson)</text>
<line x1="419.50" y1="1091.47" x2="419.50" y2="1094.6" stroke="#222" stroke-width="1"/>
<text transform="translate(422.28,1098.60) rotate(-90) scale(1,1.045)" font-size="7.9" text-anchor="end" fill="#1a1a1a">GSE87544</text>
<line x1="428.50" y1="1091.47" x2="428.50" y2="1094.6" stroke="#222" stroke-width="1"/>
<text transform="translate(431.42,1098.60) rotate(-90) scale(1,1.045)" font-size="7.9" text-anchor="end" fill="#1a1a1a">MouseBrainAtlas (Linnarsson)</text>
<line x1="437.50" y1="1091.47" x2="437.50" y2="1094.6" stroke="#222" stroke-width="1"/>
<text transform="translate(440.57,1098.60) rotate(-90) scale(1,1.045)" font-size="7.9" text-anchor="end" fill="#1a1a1a">GSE95752 (Linnarsson)</text>
<line x1="447.50" y1="1091.47" x2="447.50" y2="1094.6" stroke="#222" stroke-width="1"/>
<text transform="translate(449.71,1098.60) rotate(-90) scale(1,1.045)" font-size="7.9" text-anchor="end" fill="#1a1a1a">GSE76381_mm (Linnarsson)</text>
<line x1="456.50" y1="1091.47" x2="456.50" y2="1094.6" stroke="#222" stroke-width="1"/>
<text transform="translate(458.86,1098.60) rotate(-90) scale(1,1.045)" font-size="7.9" text-anchor="end" fill="#1a1a1a">GSE104323 (Linnarsson)</text>
<line x1="465.50" y1="1091.47" x2="465.50" y2="1094.6" stroke="#222" stroke-width="1"/>
<text transform="translate(468.00,1098.60) rotate(-90) scale(1,1.045)" font-size="7.9" text-anchor="end" fill="#1a1a1a">GSE74672 (Linnarsson)</text>
<line x1="474.50" y1="1091.47" x2="474.50" y2="1094.6" stroke="#222" stroke-width="1"/>
<text transform="translate(477.14,1098.60) rotate(-90) scale(1,1.045)" font-size="7.9" text-anchor="end" fill="#1a1a1a">GSE75330 (Linnarsson)</text>
<line x1="483.50" y1="1091.47" x2="483.50" y2="1094.6" stroke="#222" stroke-width="1"/>
<text transform="translate(486.29,1098.60) rotate(-90) scale(1,1.045)" font-size="7.9" text-anchor="end" fill="#1a1a1a">GSE59739 (Linnarsson)</text>
<line x1="492.50" y1="1091.47" x2="492.50" y2="1094.6" stroke="#222" stroke-width="1"/>
<text transform="translate(495.43,1098.60) rotate(-90) scale(1,1.045)" font-size="7.9" text-anchor="end" fill="#1a1a1a">GSE78845 (Linnarsson)</text>
<line x1="501.50" y1="1091.47" x2="501.50" y2="1094.6" stroke="#222" stroke-width="1"/>
<text transform="translate(504.58,1098.60) rotate(-90) scale(1,1.045)" font-size="7.9" text-anchor="end" fill="#1a1a1a">GSE82187</text>
<line x1="511.50" y1="1091.47" x2="511.50" y2="1094.6" stroke="#222" stroke-width="1"/>
<text transform="translate(513.72,1098.60) rotate(-90) scale(1,1.045)" font-size="7.9" text-anchor="end" fill="#1a1a1a">GSE93374</text>
<rect x="517" y="711.70" width="13.2" height="17.63" fill="#cd8500"/>
<rect x="517" y="729.33" width="13.2" height="52.90" fill="#008b00"/>
<rect x="517" y="782.23" width="13.2" height="17.63" fill="#cd8500"/>
<rect x="517" y="799.86" width="13.2" height="35.27" fill="#008b00"/>
<rect x="517" y="835.13" width="13.2" height="35.27" fill="#cd8500"/>
<rect x="517" y="870.39" width="13.2" height="35.27" fill="#008b00"/>
<rect x="517" y="905.66" width="13.2" height="26.45" fill="#cd8500"/>
<rect x="517" y="932.11" width="13.2" height="158.69" fill="#008b00"/>
<path d="M530.80,713.80H540.40V722.72H530.80 M530.80,731.64H542.30V740.56H530.80 M530.80,749.48H535.60V758.39H530.80 M530.80,767.31H539.70V776.23H530.80 M535.60,753.94H543.80V771.77H539.70 M542.30,736.10H546.10V762.85H543.80 M540.40,718.26H551.20V749.48H546.10 M530.80,785.15H545.60V794.07H530.80 M530.80,802.99H541.00V811.91H530.80 M530.80,820.83H543.40V829.75H530.80 M541.00,807.45H550.60V825.29H543.40 M545.60,789.61H553.60V816.37H550.60 M551.20,733.87H564.50V802.99H553.60 M530.80,856.50H533.30V865.42H530.80 M530.80,847.58H536.30V860.96H533.30 M530.80,838.67H541.50V854.27H536.30 M530.80,874.34H543.80V883.26H530.80 M541.50,846.47H552.40V878.80H543.80 M530.80,892.18H546.70V901.10H530.80 M530.80,918.94H541.40V927.86H530.80 M530.80,910.02H542.60V923.40H541.40 M530.80,954.61H531.40V963.53H530.80 M530.80,945.69H533.20V959.07H531.40 M530.80,936.77H536.30V952.38H533.20 M530.80,981.37H534.50V990.29H530.80 M530.80,999.21H536.70V1008.13H530.80 M534.50,985.83H537.50V1003.67H536.70 M530.80,972.45H537.70V994.75H537.50 M536.30,944.58H539.60V983.60H537.70 M530.80,1043.80H534.50V1052.72H530.80 M530.80,1034.88H537.60V1048.26H534.50 M530.80,1025.96H538.50V1041.57H537.60 M530.80,1017.05H542.50V1033.77H538.50 M539.60,964.09H543.40V1025.41H542.50 M530.80,1061.64H537.70V1070.56H530.80 M530.80,1079.48H538.60V1088.40H530.80 M537.70,1066.10H544.50V1083.94H538.60 M543.40,994.75H548.20V1075.02H544.50 M542.60,916.71H553.90V1034.88H548.20 M546.70,896.64H558.30V975.80H553.90 M552.40,862.64H565.50V936.22H558.30 M564.50,768.43H579.30V899.43H565.50" fill="none" stroke="#555" stroke-width="0.9"/>
<path d="M587.2,710.8 C594,710.1999999999999 599,710.1999999999999 599.0,713.8 L599.0,769.5 C599.0,772.0 603,772.5 610.7,772.5 C603,772.5 599.0,773.0 599.0,775.5 L599.0,832.1 C599.0,835.7 594,835.7 587.2,835.1" fill="none" stroke="#000" stroke-width="2.1"/>
<path d="M587.2,835.1 C594,834.5 599,834.5 599.0,838.1 L599.0,959.2 C599.0,961.7 603,962.2 610.7,962.2 C603,962.2 599.0,962.7 599.0,965.2 L599.0,1086.4 C599.0,1090.0 594,1090.0 587.2,1089.4" fill="none" stroke="#000" stroke-width="2.1"/>
<text transform="translate(614.60,770.80) scale(1,1.045)" font-size="11.8" fill="#1a1a1a">Non-brain</text>
<text transform="translate(614.60,784.90) scale(1,1.045)" font-size="11.8" fill="#1a1a1a">datasets</text>
<text transform="translate(614.80,959.00) scale(1,1.045)" font-size="11.8" fill="#1a1a1a">Brain specific</text>
<text transform="translate(614.80,972.90) scale(1,1.045)" font-size="11.8" fill="#1a1a1a">datasets</text>
<rect x="555.4" y="1112.00" width="15.8" height="2.27" fill="#ee0000"/>
<rect x="555.4" y="1113.97" width="15.8" height="2.27" fill="#f1230f"/>
<rect x="555.4" y="1115.94" width="15.8" height="2.27" fill="#f5381e"/>
<rect x="555.4" y="1117.92" width="15.8" height="2.27" fill="#f8482b"/>
<rect x="555.4" y="1119.89" width="15.8" height="2.27" fill="#fb5637"/>
<rect x="555.4" y="1121.86" width="15.8" height="2.27" fill="#fe6343"/>
<rect x="555.4" y="1123.84" width="15.8" height="2.27" fill="#ff6f4f"/>
<rect x="555.4" y="1125.81" width="15.8" height="2.27" fill="#ff7b5b"/>
<rect x="555.4" y="1127.78" width="15.8" height="2.27" fill="#ff8667"/>
<rect x="555.4" y="1129.75" width="15.8" height="2.27" fill="#ff9174"/>
<rect x="555.4" y="1131.72" width="15.8" height="2.27" fill="#ff9b80"/>
<rect x="555.4" y="1133.70" width="15.8" height="2.27" fill="#ffa68c"/>
<rect x="555.4" y="1135.67" width="15.8" height="2.27" fill="#ffb099"/>
<rect x="555.4" y="1137.64" width="15.8" height="2.27" fill="#ffbaa6"/>
<rect x="555.4" y="1139.62" width="15.8" height="2.27" fill="#ffc5b3"/>
<rect x="555.4" y="1141.59" width="15.8" height="2.27" fill="#ffcfc0"/>
<rect x="555.4" y="1143.56" width="15.8" height="2.27" fill="#ffd9cd"/>
<rect x="555.4" y="1145.53" width="15.8" height="2.27" fill="#ffe3da"/>
<rect x="555.4" y="1147.51" width="15.8" height="2.27" fill="#ffede7"/>
<rect x="555.4" y="1149.48" width="15.8" height="2.27" fill="#fff7f5"/>
<rect x="555.4" y="1151.45" width="15.8" height="2.27" fill="#fdfcff"/>
<rect x="555.4" y="1153.42" width="15.8" height="2.27" fill="#f6f0ff"/>
<rect x="555.4" y="1155.39" width="15.8" height="2.27" fill="#efe4fe"/>
<rect x="555.4" y="1157.37" width="15.8" height="2.27" fill="#e7d8fe"/>
<rect x="555.4" y="1159.34" width="15.8" height="2.27" fill="#dfccfd"/>
<rect x="555.4" y="1161.31" width="15.8" height="2.27" fill="#d7c0fc"/>
<rect x="555.4" y="1163.29" width="15.8" height="2.27" fill="#cfb4fc"/>
<rect x="555.4" y="1165.26" width="15.8" height="2.27" fill="#c7a8fb"/>
<rect x="555.4" y="1167.23" width="15.8" height="2.27" fill="#be9cfa"/>
<rect x="555.4" y="1169.20" width="15.8" height="2.27" fill="#b591f9"/>
<rect x="555.4" y="1171.18" width="15.8" height="2.27" fill="#ac85f8"/>
<rect x="555.4" y="1173.15" width="15.8" height="2.27" fill="#a279f7"/>
<rect x="555.4" y="1175.12" width="15.8" height="2.27" fill="#986ef6"/>
<rect x="555.4" y="1177.09" width="15.8" height="2.27" fill="#8d62f5"/>
<rect x="555.4" y="1179.07" width="15.8" height="2.27" fill="#8256f3"/>
<rect x="555.4" y="1181.04" width="15.8" height="2.27" fill="#764af2"/>
<rect x="555.4" y="1183.01" width="15.8" height="2.27" fill="#683ef1"/>
<rect x="555.4" y="1184.98" width="15.8" height="2.27" fill="#5830ef"/>
<rect x="555.4" y="1186.96" width="15.8" height="2.27" fill="#4622ee"/>
<rect x="555.4" y="1188.93" width="15.8" height="2.27" fill="#2b0eec"/>
<line x1="555.4" y1="1113.40" x2="558.4" y2="1113.40" stroke="#fff" stroke-width="0.6" opacity="0.7"/>
<line x1="568.1999999999999" y1="1113.40" x2="571.1999999999999" y2="1113.40" stroke="#fff" stroke-width="0.6" opacity="0.7"/>
<text transform="translate(575.20,1116.80) scale(1,1.045)" font-size="9.4" fill="#1a1a1a">1.0</text>
<line x1="555.4" y1="1132.67" x2="558.4" y2="1132.67" stroke="#fff" stroke-width="0.6" opacity="0.7"/>
<line x1="568.1999999999999" y1="1132.67" x2="571.1999999999999" y2="1132.67" stroke="#fff" stroke-width="0.6" opacity="0.7"/>
<text transform="translate(575.20,1136.07) scale(1,1.045)" font-size="9.4" fill="#1a1a1a">0.8</text>
<line x1="555.4" y1="1151.93" x2="558.4" y2="1151.93" stroke="#fff" stroke-width="0.6" opacity="0.7"/>
<line x1="568.1999999999999" y1="1151.93" x2="571.1999999999999" y2="1151.93" stroke="#fff" stroke-width="0.6" opacity="0.7"/>
<text transform="translate(575.20,1155.33) scale(1,1.045)" font-size="9.4" fill="#1a1a1a">0.6</text>
<line x1="555.4" y1="1171.20" x2="558.4" y2="1171.20" stroke="#fff" stroke-width="0.6" opacity="0.7"/>
<line x1="568.1999999999999" y1="1171.20" x2="571.1999999999999" y2="1171.20" stroke="#fff" stroke-width="0.6" opacity="0.7"/>
<text transform="translate(575.20,1174.60) scale(1,1.045)" font-size="9.4" fill="#1a1a1a">0.4</text>
<text x="564.6" y="1106.2" font-size="9" font-style="italic" text-anchor="middle" fill="#1a1a1a">&#961;</text>
<rect x="601.2" y="1112.6" width="17.4" height="17.4" fill="#cd8500"/>
<rect x="601.2" y="1130.0" width="17.4" height="17.6" fill="#008b00"/>
<text transform="translate(622.90,1124.70) scale(1,1.045)" font-size="11.5" fill="#1a1a1a">Human</text>
<text transform="translate(622.90,1143.10) scale(1,1.045)" font-size="11.5" fill="#1a1a1a">Mouse</text>
</svg>
</body></html>
